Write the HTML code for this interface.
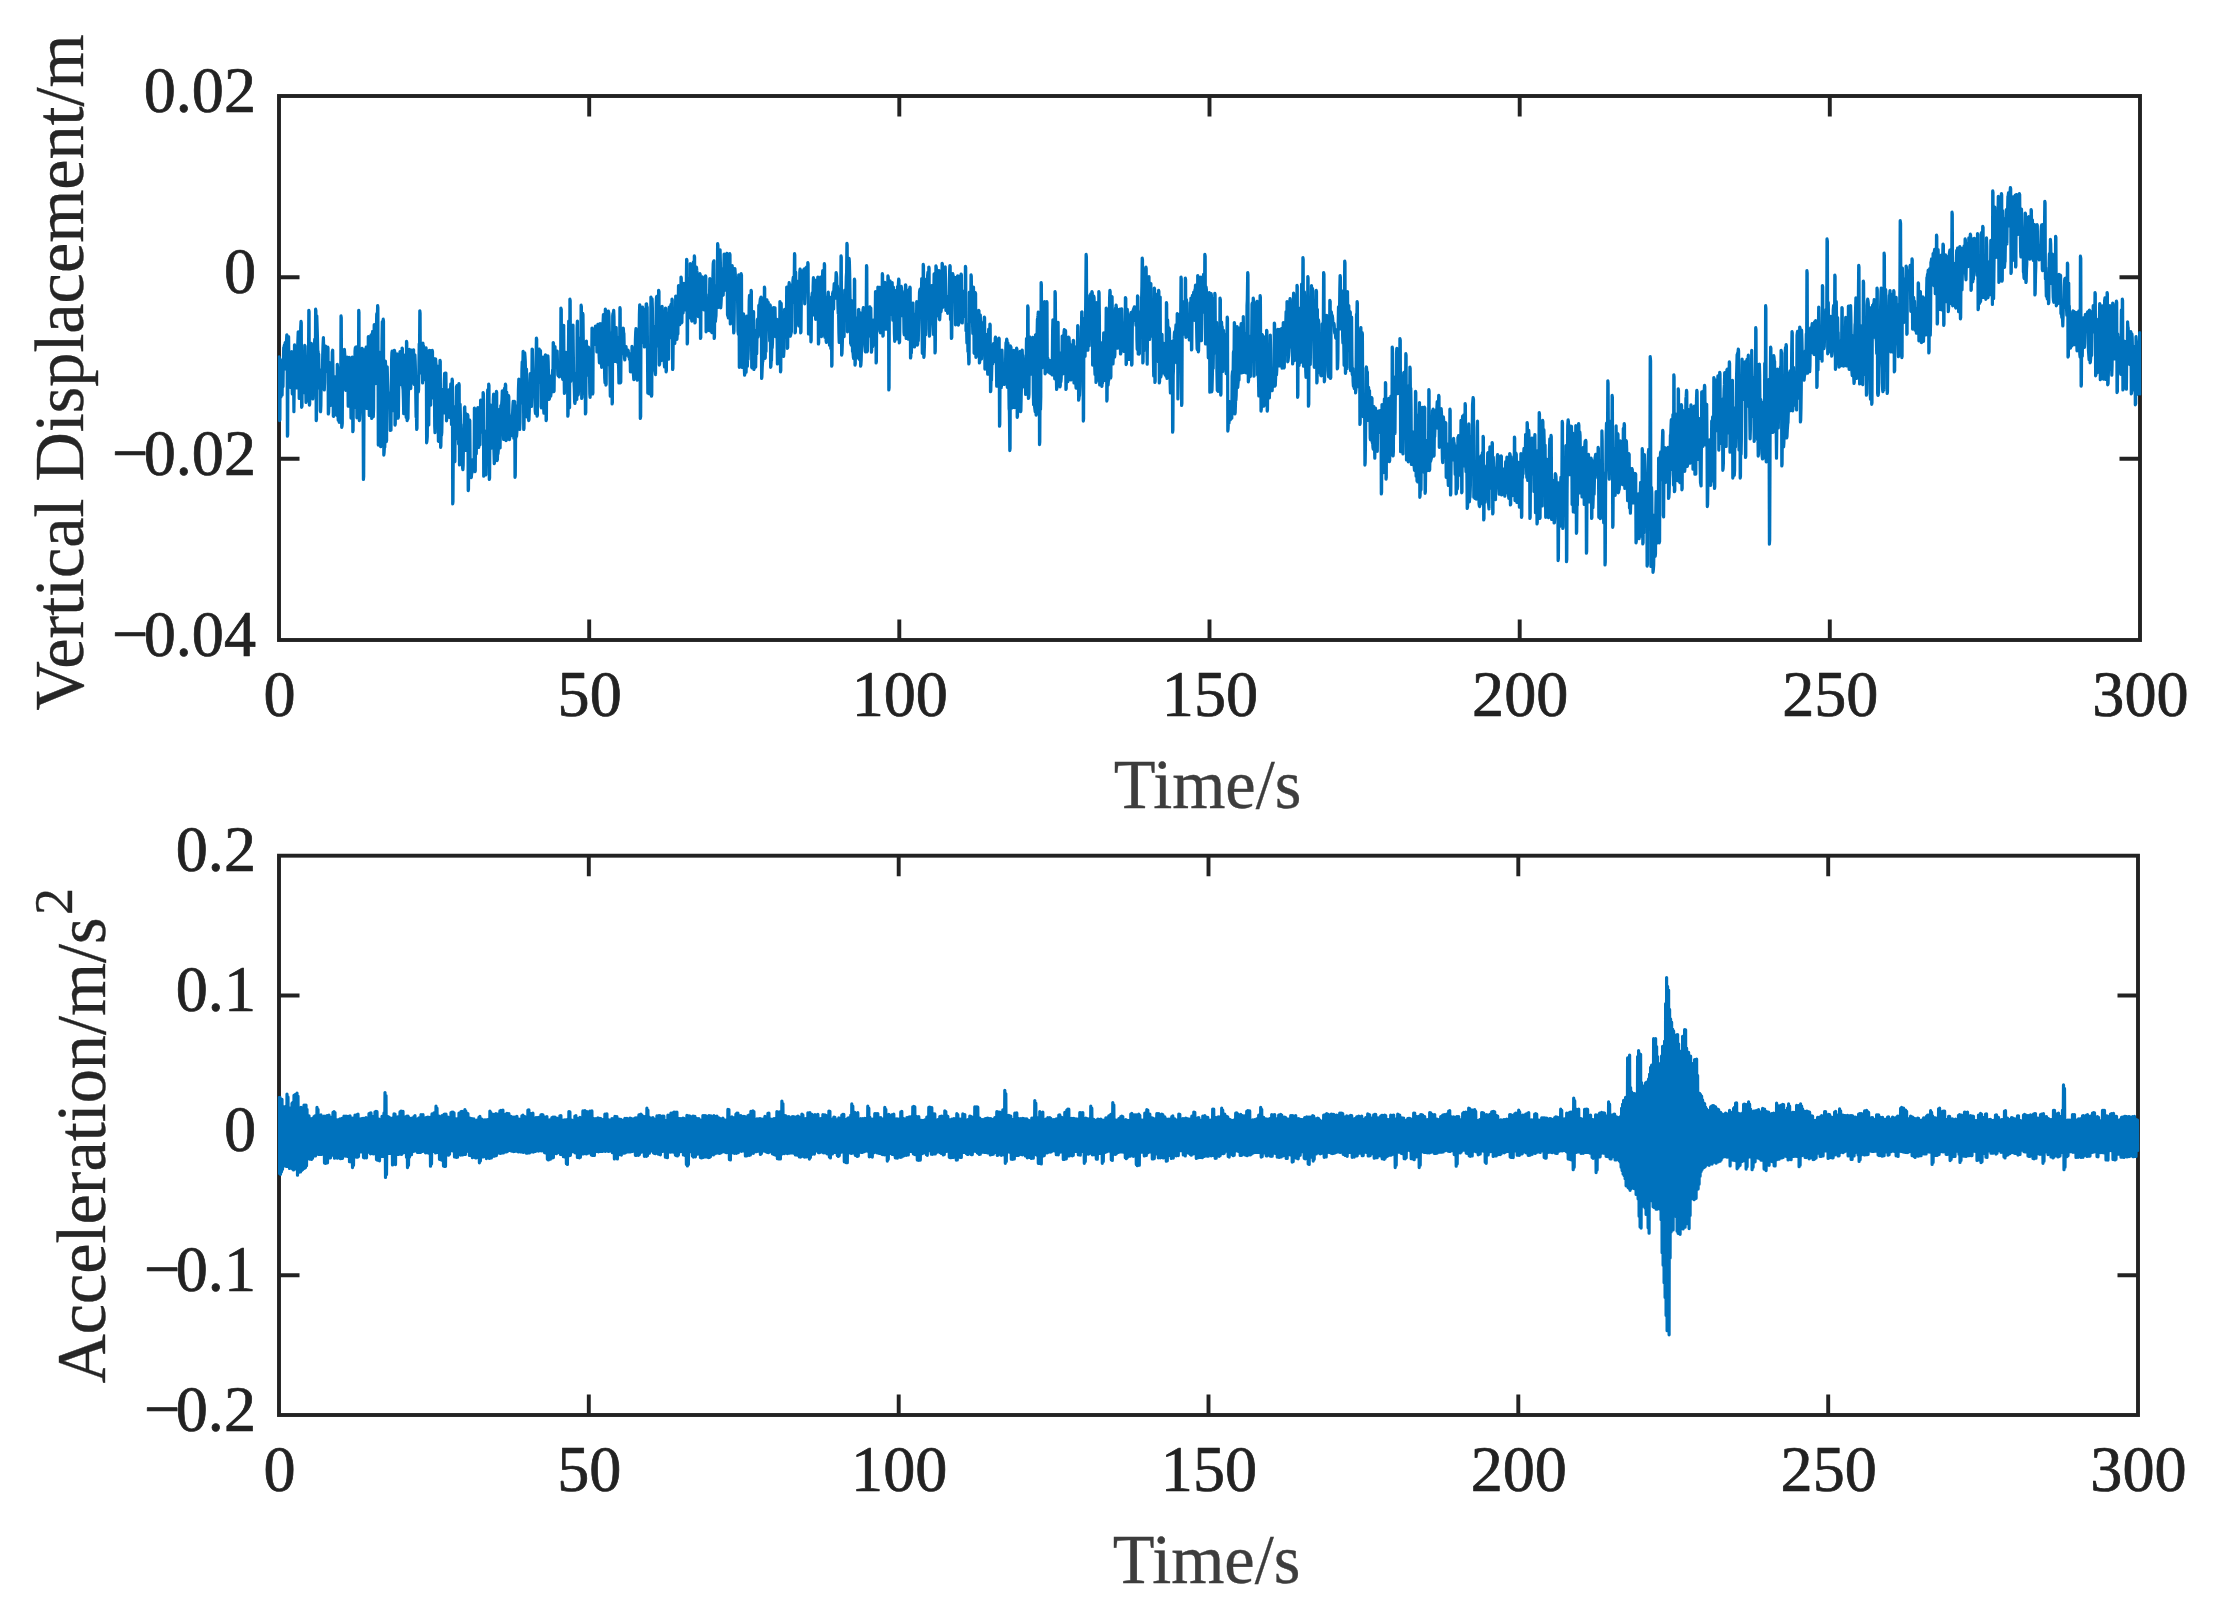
<!DOCTYPE html>
<html lang="en"><head><meta charset="utf-8"><title>Vertical Displacement and Acceleration</title>
<style>
html,body{margin:0;padding:0;background:#fff;}
body{width:2221px;height:1621px;overflow:hidden;}
svg{display:block;}
text{font-family:"Liberation Serif","DejaVu Serif",serif;}
.tk{font-size:64.2px;fill:#222222;stroke:#222222;stroke-width:0.7px;stroke-linejoin:round;}
.lb{font-size:69px;fill:#3d3d3d;stroke:#3d3d3d;stroke-width:0.35px;}
.yl{font-size:69px;fill:#262626;stroke:#262626;stroke-width:0.35px;}
</style></head><body>
<svg width="2221" height="1621" viewBox="0 0 2221 1621">
<rect width="2221" height="1621" fill="#fff"/>
<defs><clipPath id="c1"><rect x="277.8" y="96.0" width="1863.6" height="544.0"/></clipPath><clipPath id="c2"><rect x="277.8" y="855.7" width="1861.6" height="559.3"/></clipPath></defs>
<rect x="279.0" y="96.0" width="1861.0" height="544.0" fill="none" stroke="#222222" stroke-width="3.9"/>
<path d="M589.2 640.0V619.5M589.2 96.0V116.5M899.3 640.0V619.5M899.3 96.0V116.5M1209.5 640.0V619.5M1209.5 96.0V116.5M1519.7 640.0V619.5M1519.7 96.0V116.5M1829.8 640.0V619.5M1829.8 96.0V116.5M279.0 277.3H299.5M2140.0 277.3H2119.5M279.0 458.7H299.5M2140.0 458.7H2119.5" fill="none" stroke="#222222" stroke-width="3.9"/>
<rect x="279.0" y="855.7" width="1859.0" height="559.3" fill="none" stroke="#222222" stroke-width="3.9"/>
<path d="M588.8 1415.0V1394.5M588.8 855.7V876.2M898.7 1415.0V1394.5M898.7 855.7V876.2M1208.5 1415.0V1394.5M1208.5 855.7V876.2M1518.3 1415.0V1394.5M1518.3 855.7V876.2M1828.2 1415.0V1394.5M1828.2 855.7V876.2M279.0 995.5H299.5M2138.0 995.5H2117.5M279.0 1135.3H299.5M2138.0 1135.3H2117.5M279.0 1275.2H299.5M2138.0 1275.2H2117.5" fill="none" stroke="#222222" stroke-width="3.9"/>
<polyline clip-path="url(#c1)" fill="none" stroke="#0072BD" stroke-width="3.2" stroke-linejoin="round" stroke-linecap="round" points="279.0,357.0 279.3,357.9 279.6,420.6 279.9,419.6 280.2,359.3 280.6,379.5 280.9,397.0 281.2,370.0 281.5,362.3 281.8,391.0 282.1,395.1 282.4,376.7 282.7,367.6 283.0,386.6 283.3,364.9 283.7,347.5 284.0,348.6 284.3,345.4 284.6,347.1 284.9,345.1 285.2,342.7 285.5,343.4 285.8,351.1 286.1,369.1 286.4,342.2 286.8,334.8 287.1,336.2 287.4,436.2 287.7,434.6 288.0,343.7 288.3,337.5 288.6,336.8 288.9,362.6 289.2,372.4 289.5,370.9 289.9,379.2 290.2,387.3 290.5,374.9 290.8,367.3 291.1,378.7 291.4,368.4 291.7,351.5 292.0,383.5 292.3,394.0 292.6,382.4 293.0,375.6 293.3,371.0 293.6,383.3 293.9,411.7 294.2,390.4 294.5,344.9 294.8,347.6 295.1,365.1 295.4,364.1 295.7,361.5 296.1,370.3 296.4,381.8 296.7,387.9 297.0,353.0 297.3,350.5 297.6,348.7 297.9,339.7 298.2,331.9 298.5,333.0 298.9,367.4 299.2,398.5 299.5,376.5 299.8,335.2 300.1,339.4 300.4,340.0 300.7,327.0 301.0,321.4 301.3,322.8 301.6,407.3 302.0,406.0 302.3,362.0 302.6,351.5 302.9,365.9 303.2,392.6 303.5,374.1 303.8,369.1 304.1,379.7 304.4,371.6 304.7,345.4 305.1,346.2 305.4,359.2 305.7,387.0 306.0,402.5 306.3,401.0 306.6,399.3 306.9,390.1 307.2,397.6 307.5,400.5 307.8,397.4 308.2,387.8 308.5,361.5 308.8,310.3 309.1,311.9 309.4,405.1 309.7,403.8 310.0,345.4 310.3,377.0 310.6,398.1 310.9,359.0 311.3,343.4 311.6,367.1 311.9,381.5 312.2,372.0 312.5,382.3 312.8,398.9 313.1,391.7 313.4,356.7 313.7,352.0 314.0,351.1 314.4,345.8 314.7,339.2 315.0,355.2 315.3,375.5 315.6,309.2 315.9,310.9 316.2,420.6 316.5,419.0 316.8,315.9 317.2,328.7 317.5,339.2 317.8,351.8 318.1,351.5 318.4,362.1 318.7,354.1 319.0,370.3 319.3,387.9 319.6,369.5 319.9,375.6 320.3,411.1 320.6,411.7 320.9,405.2 321.2,380.2 321.5,370.2 321.8,374.1 322.1,379.8 322.4,373.4 322.7,355.1 323.0,345.8 323.4,337.5 323.7,347.9 324.0,374.6 324.3,390.0 324.6,382.4 324.9,359.2 325.2,348.2 325.5,346.1 325.8,354.1 326.1,365.5 326.5,371.2 326.8,356.6 327.1,351.0 327.4,371.4 327.7,347.0 328.0,347.9 328.3,414.0 328.6,412.9 328.9,402.8 329.2,377.6 329.6,364.1 329.9,362.7 330.2,364.3 330.5,392.1 330.8,405.3 331.1,385.7 331.4,379.7 331.7,373.6 332.0,370.2 332.3,352.1 332.7,350.2 333.0,372.2 333.3,416.0 333.6,416.3 333.9,390.2 334.2,385.3 334.5,376.7 334.8,377.5 335.1,387.8 335.5,384.6 335.8,378.4 336.1,391.0 336.4,413.4 336.7,415.3 337.0,393.4 337.3,364.3 337.6,367.3 337.9,410.9 338.2,420.3 338.6,404.1 338.9,406.7 339.2,422.3 339.5,421.5 339.8,418.6 340.1,418.6 340.4,402.2 340.7,386.3 341.0,315.9 341.3,318.0 341.7,427.3 342.0,426.1 342.3,423.4 342.6,364.8 342.9,350.7 343.2,368.3 343.5,370.1 343.8,379.0 344.1,378.1 344.4,349.3 344.8,355.2 345.1,366.5 345.4,388.3 345.7,390.3 346.0,383.0 346.3,366.2 346.6,357.8 346.9,369.1 347.2,357.0 347.5,361.7 347.9,381.4 348.2,406.2 348.5,385.1 348.8,358.5 349.1,358.8 349.4,357.5 349.7,359.4 350.0,370.9 350.3,377.7 350.6,384.3 351.0,418.1 351.3,412.8 351.6,395.1 351.9,397.1 352.2,357.0 352.5,357.9 352.8,431.7 353.1,430.4 353.4,393.1 353.8,390.3 354.1,384.5 354.4,394.5 354.7,407.3 355.0,351.1 355.3,347.8 355.6,349.6 355.9,347.0 356.2,348.2 356.5,365.2 356.9,417.8 357.2,400.3 357.5,346.6 357.8,368.9 358.1,407.2 358.4,408.0 358.7,310.3 359.0,312.5 359.3,420.6 359.6,419.4 360.0,409.2 360.3,385.9 360.6,368.8 360.9,364.6 361.2,375.4 361.5,362.1 361.8,350.0 362.1,348.4 362.4,362.2 362.7,376.8 363.1,416.6 363.4,479.5 363.7,476.4 364.0,406.6 364.3,383.6 364.6,349.7 364.9,363.4 365.2,392.6 365.5,368.7 365.8,350.0 366.2,347.2 366.5,384.7 366.8,408.5 367.1,406.0 367.4,398.5 367.7,406.1 368.0,376.9 368.3,336.7 368.6,339.4 368.9,382.1 369.3,415.6 369.6,413.3 369.9,411.0 370.2,381.5 370.5,369.6 370.8,352.4 371.1,334.8 371.4,336.0 371.7,418.4 372.1,417.2 372.4,333.5 372.7,331.3 373.0,357.4 373.3,416.6 373.6,408.6 373.9,345.6 374.2,324.7 374.5,325.6 374.8,356.5 375.2,383.7 375.5,365.3 375.8,343.9 376.1,349.0 376.4,329.6 376.7,314.3 377.0,313.3 377.3,328.3 377.6,305.5 377.9,307.7 378.3,445.1 378.6,443.1 378.9,397.1 379.2,352.2 379.5,376.3 379.8,370.6 380.1,366.6 380.4,405.1 380.7,446.7 381.0,413.2 381.4,361.2 381.7,368.5 382.0,339.1 382.3,321.5 382.6,336.2 382.9,385.9 383.2,319.2 383.5,321.2 383.8,455.1 384.1,452.9 384.5,445.0 384.8,447.3 385.1,424.7 385.4,361.0 385.7,367.0 386.0,416.8 386.3,441.7 386.6,440.3 386.9,386.7 387.2,366.8 387.6,382.1 387.9,391.7 388.2,392.1 388.5,404.8 388.8,404.0 389.1,398.6 389.4,399.9 389.7,404.5 390.0,409.3 390.3,430.4 390.7,428.2 391.0,430.2 391.3,387.9 391.6,359.9 391.9,352.7 392.2,351.0 392.5,351.4 392.8,401.5 393.1,410.6 393.5,368.1 393.8,355.6 394.1,354.7 394.4,350.3 394.7,351.4 395.0,425.1 395.3,423.9 395.6,356.8 395.9,354.3 396.2,355.4 396.6,355.4 396.9,355.0 397.2,354.0 397.5,358.9 397.8,403.6 398.1,418.1 398.4,416.9 398.7,387.0 399.0,381.8 399.3,374.7 399.7,360.7 400.0,351.5 400.3,352.5 400.6,352.3 400.9,369.1 401.2,382.6 401.5,384.9 401.8,383.0 402.1,348.0 402.4,348.8 402.8,387.4 403.1,389.9 403.4,399.5 403.7,413.7 404.0,398.1 404.3,355.0 404.6,370.0 404.9,401.9 405.2,384.7 405.5,378.0 405.9,408.3 406.2,417.4 406.5,341.4 406.8,342.7 407.1,420.6 407.4,419.5 407.7,413.4 408.0,418.6 408.3,399.1 408.6,385.2 409.0,354.5 409.3,349.4 409.6,368.5 409.9,375.5 410.2,374.4 410.5,386.5 410.8,388.6 411.1,356.2 411.4,350.1 411.8,365.6 412.1,378.4 412.4,362.1 412.7,362.8 413.0,362.4 413.3,352.4 413.6,349.8 413.9,383.1 414.2,384.5 414.5,368.3 414.9,354.8 415.2,361.3 415.5,371.8 415.8,398.6 416.1,417.0 416.4,411.8 416.7,429.5 417.0,428.2 417.3,384.6 417.6,376.4 418.0,383.2 418.3,392.1 418.6,389.7 418.9,366.7 419.2,343.8 419.5,354.1 419.8,310.8 420.1,313.1 420.4,373.0 420.7,351.1 421.1,361.2 421.4,366.0 421.7,347.6 422.0,346.4 422.3,364.7 422.6,382.9 422.9,343.0 423.2,348.4 423.5,345.9 423.8,360.2 424.2,378.0 424.5,365.1 424.8,363.7 425.1,375.2 425.4,380.0 425.7,369.9 426.0,347.8 426.3,350.5 426.6,442.8 426.9,441.3 427.3,436.5 427.6,400.5 427.9,402.9 428.2,398.9 428.5,415.5 428.8,425.0 429.1,372.5 429.4,350.3 429.7,355.3 430.1,350.5 430.4,396.3 430.7,405.1 431.0,369.1 431.3,354.6 431.6,390.8 431.9,393.2 432.2,350.3 432.5,351.7 432.8,397.9 433.2,395.6 433.5,383.8 433.8,364.3 434.1,358.7 434.4,384.0 434.7,426.1 435.0,432.6 435.3,397.2 435.6,358.9 435.9,363.1 436.3,368.4 436.6,400.6 436.9,394.1 437.2,383.5 437.5,366.2 437.8,377.8 438.1,419.1 438.4,441.2 438.7,441.4 439.0,417.1 439.4,387.2 439.7,399.1 440.0,360.3 440.3,361.7 440.6,447.3 440.9,446.0 441.2,425.6 441.5,435.4 441.8,432.4 442.1,417.2 442.5,389.6 442.8,393.0 443.1,399.8 443.4,407.2 443.7,412.9 444.0,397.3 444.3,381.2 444.6,373.3 444.9,374.5 445.2,378.6 445.6,377.5 445.9,373.1 446.2,395.5 446.5,420.8 446.8,417.6 447.1,412.3 447.4,403.5 447.7,396.4 448.0,393.8 448.4,401.1 448.7,392.4 449.0,389.8 449.3,397.4 449.6,417.4 449.9,407.3 450.2,402.1 450.5,389.8 450.8,383.9 451.1,395.4 451.5,424.6 451.8,420.7 452.1,379.2 452.4,380.5 452.7,503.9 453.0,501.5 453.3,446.3 453.6,421.6 453.9,408.6 454.2,434.7 454.6,460.6 454.9,461.6 455.2,422.7 455.5,406.2 455.8,421.8 456.1,401.3 456.4,386.7 456.7,387.2 457.0,385.7 457.3,387.1 457.7,400.2 458.0,439.2 458.3,431.5 458.6,443.9 458.9,383.6 459.2,385.0 459.5,465.0 459.8,464.0 460.1,404.2 460.4,415.6 460.8,442.9 461.1,444.5 461.4,449.7 461.7,445.2 462.0,436.9 462.3,443.6 462.6,468.1 462.9,469.6 463.2,464.9 463.5,439.9 463.9,424.2 464.2,424.8 464.5,407.6 464.8,407.0 465.1,424.9 465.4,450.3 465.7,434.0 466.0,413.7 466.3,417.3 466.7,417.8 467.0,414.3 467.3,420.2 467.6,414.7 467.9,415.6 468.2,490.6 468.5,489.2 468.8,451.3 469.1,430.9 469.4,419.8 469.8,420.6 470.1,457.1 470.4,476.3 470.7,474.4 471.0,477.7 471.3,477.6 471.6,474.2 471.9,473.1 472.2,459.9 472.5,469.1 472.9,470.7 473.2,469.2 473.5,468.8 473.8,461.0 474.1,467.0 474.4,408.1 474.7,409.1 475.0,471.7 475.3,470.8 475.6,424.9 476.0,443.2 476.3,453.8 476.6,437.3 476.9,409.2 477.2,408.8 477.5,415.8 477.8,407.7 478.1,409.2 478.4,429.5 478.7,447.4 479.1,436.0 479.4,433.4 479.7,440.0 480.0,444.8 480.3,423.1 480.6,400.2 480.9,402.2 481.2,413.9 481.5,424.3 481.8,432.1 482.2,426.7 482.5,414.6 482.8,428.7 483.1,392.5 483.4,393.8 483.7,476.2 484.0,474.9 484.3,474.1 484.6,472.5 485.0,472.3 485.3,471.7 485.6,475.0 485.9,474.7 486.2,455.2 486.5,430.7 486.8,434.0 487.1,433.7 487.4,401.3 487.7,390.0 488.1,389.6 488.4,408.1 488.7,384.1 489.0,385.5 489.3,479.5 489.6,478.0 489.9,435.2 490.2,422.2 490.5,416.6 490.8,405.2 491.2,431.2 491.5,448.1 491.8,447.7 492.1,416.9 492.4,412.5 492.7,427.0 493.0,426.3 493.3,399.6 493.6,394.0 493.9,448.9 494.3,463.6 494.6,460.5 494.9,455.9 495.2,458.6 495.5,457.6 495.8,448.2 496.1,439.1 496.4,391.4 496.7,392.4 497.0,460.6 497.4,459.5 497.7,450.8 498.0,454.0 498.3,450.1 498.6,427.1 498.9,409.7 499.2,423.8 499.5,441.0 499.8,446.3 500.1,448.0 500.5,421.4 500.8,405.6 501.1,408.4 501.4,410.1 501.7,403.3 502.0,399.7 502.3,390.8 502.6,392.6 502.9,409.3 503.3,429.2 503.6,439.5 503.9,437.7 504.2,413.0 504.5,388.5 504.8,387.8 505.1,391.4 505.4,384.1 505.7,385.1 506.0,440.6 506.4,439.9 506.7,392.0 507.0,399.2 507.3,405.1 507.6,407.5 507.9,407.6 508.2,406.6 508.5,395.5 508.8,396.9 509.1,423.6 509.5,439.6 509.8,437.1 510.1,435.6 510.4,436.2 510.7,430.3 511.0,435.8 511.3,429.1 511.6,417.1 511.9,420.2 512.2,415.8 512.6,412.7 512.9,405.5 513.2,401.3 513.5,416.6 513.8,438.3 514.1,434.6 514.4,401.4 514.7,401.8 515.0,477.3 515.3,475.3 515.7,421.2 516.0,437.6 516.3,433.9 516.6,436.1 516.9,431.6 517.2,415.1 517.5,405.6 517.8,420.6 518.1,412.8 518.4,390.3 518.8,379.1 519.1,399.6 519.4,417.0 519.7,429.5 520.0,422.2 520.3,398.4 520.6,397.1 520.9,403.1 521.2,393.8 521.6,393.6 521.9,370.9 522.2,361.9 522.5,363.9 522.8,368.0 523.1,351.4 523.4,352.8 523.7,429.5 524.0,428.4 524.3,407.7 524.7,352.9 525.0,356.4 525.3,361.7 525.6,375.0 525.9,394.0 526.2,375.5 526.5,369.1 526.8,394.4 527.1,417.0 527.4,408.7 527.8,411.1 528.1,412.7 528.4,417.4 528.7,420.7 529.0,419.6 529.3,410.7 529.6,396.6 529.9,380.2 530.2,373.7 530.5,386.9 530.9,376.6 531.2,387.6 531.5,406.5 531.8,390.6 532.1,349.0 532.4,349.4 532.7,366.1 533.0,378.4 533.3,381.0 533.6,383.1 534.0,393.6 534.3,389.5 534.6,389.8 534.9,398.4 535.2,410.8 535.5,413.6 535.8,389.9 536.1,359.3 536.4,338.1 536.7,339.4 537.1,416.2 537.4,415.1 537.7,365.7 538.0,357.7 538.3,350.2 538.6,349.7 538.9,350.1 539.2,349.1 539.5,361.5 539.9,382.3 540.2,370.0 540.5,350.7 540.8,376.6 541.1,406.7 541.4,407.8 541.7,376.4 542.0,374.9 542.3,378.3 542.6,369.5 543.0,357.2 543.3,372.1 543.6,407.5 543.9,413.1 544.2,400.0 544.5,396.0 544.8,389.2 545.1,371.4 545.4,354.8 545.7,355.5 546.1,420.6 546.4,419.4 546.7,372.9 547.0,390.8 547.3,393.8 547.6,363.4 547.9,355.9 548.2,361.8 548.5,374.6 548.8,392.9 549.2,399.3 549.5,398.1 549.8,383.0 550.1,376.0 550.4,395.3 550.7,396.3 551.0,393.7 551.3,389.3 551.6,391.3 551.9,391.4 552.3,377.0 552.6,369.9 552.9,386.1 553.2,342.5 553.5,343.3 553.8,391.7 554.1,390.9 554.4,366.5 554.7,358.6 555.0,346.6 555.4,359.2 555.7,367.0 556.0,350.9 556.3,352.7 556.6,360.4 556.9,353.9 557.2,351.1 557.5,364.1 557.8,374.8 558.1,375.5 558.5,373.8 558.8,373.8 559.1,376.9 559.4,375.4 559.7,374.7 560.0,375.5 560.3,370.5 560.6,369.9 560.9,308.1 561.3,309.4 561.6,376.2 561.9,375.5 562.2,367.4 562.5,377.8 562.8,379.4 563.1,369.7 563.4,333.9 563.7,325.3 564.0,368.7 564.4,393.4 564.7,388.1 565.0,389.5 565.3,389.4 565.6,375.5 565.9,352.4 566.2,382.5 566.5,389.4 566.8,383.3 567.1,372.6 567.5,362.2 567.8,416.2 568.1,414.3 568.4,353.4 568.7,321.1 569.0,355.3 569.3,407.3 569.6,407.6 569.9,299.2 570.2,300.9 570.6,381.5 570.9,365.9 571.2,350.4 571.5,353.2 571.8,339.1 572.1,341.1 572.4,363.2 572.7,353.5 573.0,325.0 573.3,351.6 573.7,380.4 574.0,382.0 574.3,388.7 574.6,401.8 574.9,403.5 575.2,401.4 575.5,387.5 575.8,373.4 576.1,398.6 576.4,397.6 576.8,399.5 577.1,328.6 577.4,321.1 577.7,369.9 578.0,395.1 578.3,394.5 578.6,389.5 578.9,375.3 579.2,375.3 579.6,385.0 579.9,363.3 580.2,338.9 580.5,337.7 580.8,370.6 581.1,305.2 581.4,306.8 581.7,398.4 582.0,397.2 582.3,328.1 582.7,313.3 583.0,314.9 583.3,341.8 583.6,384.3 583.9,386.5 584.2,393.4 584.5,386.2 584.8,377.6 585.1,364.1 585.4,414.0 585.8,412.3 586.1,358.1 586.4,341.1 586.7,356.8 587.0,354.5 587.3,361.5 587.6,375.1 587.9,372.2 588.2,353.5 588.5,347.0 588.9,353.0 589.2,357.7 589.5,374.4 589.8,393.6 590.1,397.4 590.4,391.5 590.7,393.6 591.0,365.8 591.3,363.3 591.6,373.0 592.0,328.1 592.3,329.1 592.6,394.0 592.9,392.9 593.2,333.1 593.5,332.5 593.8,330.3 594.1,338.5 594.4,328.5 594.7,344.3 595.1,338.9 595.4,326.2 595.7,327.3 596.0,328.8 596.3,328.4 596.6,333.1 596.9,351.9 597.2,342.7 597.5,326.9 597.9,324.4 598.2,324.9 598.5,333.8 598.8,333.8 599.1,356.0 599.4,362.8 599.7,352.6 600.0,323.5 600.3,324.1 600.6,325.2 601.0,343.3 601.3,347.4 601.6,367.3 601.9,355.9 602.2,323.6 602.5,323.2 602.8,348.9 603.1,322.0 603.4,314.7 603.7,314.4 604.1,317.0 604.4,360.0 604.7,377.6 605.0,382.6 605.3,309.2 605.6,310.5 605.9,385.1 606.2,384.1 606.5,330.1 606.8,334.6 607.2,364.7 607.5,355.3 607.8,315.2 608.1,314.4 608.4,311.2 608.7,312.3 609.0,316.5 609.3,331.9 609.6,354.9 609.9,372.5 610.3,396.2 610.6,375.6 610.9,349.7 611.2,359.6 611.5,366.7 611.8,332.5 612.1,404.0 612.4,402.4 612.7,315.8 613.0,313.4 613.4,313.0 613.7,310.4 614.0,316.8 614.3,341.2 614.6,353.2 614.9,356.6 615.2,361.4 615.5,348.3 615.8,329.8 616.2,327.6 616.5,345.5 616.8,355.5 617.1,359.3 617.4,339.1 617.7,337.6 618.0,363.2 618.3,362.3 618.6,366.3 618.9,383.0 619.3,376.6 619.6,360.8 619.9,307.7 620.2,309.0 620.5,382.9 620.8,381.9 621.1,344.2 621.4,339.7 621.7,337.5 622.0,347.6 622.4,353.6 622.7,344.9 623.0,329.3 623.3,328.2 623.6,332.9 623.9,333.5 624.2,346.4 624.5,358.2 624.8,360.0 625.1,353.0 625.5,355.9 625.8,350.2 626.1,346.7 626.4,353.7 626.7,354.1 627.0,353.6 627.3,351.0 627.6,351.8 627.9,350.1 628.2,350.5 628.6,355.6 628.9,357.1 629.2,354.6 629.5,359.3 629.8,354.8 630.1,354.9 630.4,371.8 630.7,371.3 631.0,353.4 631.3,369.3 631.7,366.1 632.0,346.3 632.3,350.0 632.6,371.9 632.9,372.9 633.2,367.1 633.5,375.5 633.8,379.6 634.1,378.3 634.5,371.8 634.8,368.7 635.1,358.7 635.4,340.0 635.7,332.0 636.0,328.6 636.3,334.4 636.6,345.4 636.9,378.5 637.2,380.2 637.6,360.6 637.9,336.4 638.2,348.8 638.5,366.8 638.8,364.8 639.1,334.4 639.4,314.4 639.7,304.8 640.0,306.3 640.3,418.4 640.7,416.4 641.0,318.2 641.3,321.3 641.6,340.0 641.9,342.8 642.2,332.1 642.5,307.0 642.8,308.5 643.1,308.9 643.4,324.9 643.8,309.6 644.1,312.9 644.4,346.9 644.7,336.9 645.0,326.7 645.3,335.6 645.6,346.6 645.9,320.3 646.2,303.9 646.5,303.8 646.9,307.4 647.2,307.2 647.5,355.2 647.8,393.1 648.1,392.1 648.4,378.1 648.7,376.7 649.0,389.6 649.3,394.0 649.6,389.2 650.0,367.9 650.3,359.5 650.6,352.3 650.9,297.0 651.2,298.4 651.5,396.2 651.8,394.6 652.1,298.8 652.4,308.3 652.8,341.8 653.1,364.7 653.4,370.0 653.7,351.2 654.0,332.1 654.3,327.1 654.6,334.7 654.9,347.2 655.2,371.3 655.5,374.7 655.9,341.4 656.2,303.0 656.5,297.1 656.8,296.4 657.1,309.7 657.4,345.9 657.7,334.6 658.0,313.1 658.3,339.4 658.6,290.3 659.0,291.7 659.3,365.1 659.6,364.2 659.9,345.7 660.2,358.6 660.5,360.0 660.8,360.3 661.1,359.7 661.4,360.5 661.7,336.8 662.1,306.3 662.4,312.9 662.7,329.7 663.0,337.2 663.3,348.3 663.6,335.9 663.9,336.2 664.2,361.3 664.5,366.9 664.8,359.7 665.2,364.1 665.5,308.1 665.8,308.9 666.1,371.8 666.4,370.7 666.7,312.9 667.0,319.9 667.3,344.6 667.6,352.6 667.9,336.8 668.3,341.8 668.6,359.2 668.9,326.0 669.2,307.1 669.5,323.1 669.8,337.6 670.1,321.8 670.4,319.2 670.7,305.6 671.1,304.3 671.4,312.5 671.7,326.6 672.0,299.2 672.3,300.1 672.6,369.5 672.9,368.3 673.2,343.1 673.5,331.9 673.8,328.1 674.2,322.4 674.5,335.5 674.8,343.4 675.1,333.9 675.4,318.1 675.7,296.0 676.0,299.3 676.3,314.6 676.6,331.2 676.9,339.4 677.3,333.6 677.6,332.7 677.9,334.1 678.2,305.5 678.5,285.7 678.8,288.3 679.1,289.1 679.4,304.2 679.7,324.7 680.0,322.2 680.4,322.0 680.7,321.0 681.0,277.0 681.3,277.9 681.6,322.9 681.9,322.3 682.2,306.1 682.5,295.4 682.8,312.6 683.1,312.9 683.5,292.6 683.8,283.3 684.1,289.5 684.4,300.1 684.7,309.6 685.0,309.8 685.3,289.3 685.6,287.3 685.9,283.8 686.2,292.2 686.6,259.3 686.9,260.3 687.2,344.0 687.5,342.5 687.8,297.8 688.1,315.3 688.4,306.5 688.7,287.7 689.0,278.7 689.4,317.8 689.7,317.7 690.0,316.8 690.3,263.5 690.6,269.1 690.9,309.1 691.2,318.0 691.5,318.2 691.8,321.2 692.1,305.9 692.5,287.4 692.8,270.4 693.1,264.3 693.4,262.0 693.7,302.6 694.0,310.8 694.3,255.9 694.6,257.1 694.9,322.9 695.2,322.1 695.6,281.0 695.9,275.4 696.2,267.5 696.5,267.3 696.8,270.7 697.1,272.4 697.4,273.9 697.7,273.5 698.0,280.7 698.3,316.6 698.7,306.9 699.0,275.8 699.3,278.4 699.6,294.3 699.9,273.7 700.2,274.5 700.5,338.4 700.8,337.3 701.1,279.4 701.4,277.4 701.8,289.7 702.1,288.3 702.4,276.9 702.7,282.1 703.0,301.4 703.3,307.6 703.6,296.0 703.9,309.8 704.2,294.9 704.5,281.6 704.9,283.7 705.2,301.8 705.5,275.9 705.8,276.7 706.1,331.8 706.4,330.9 706.7,323.0 707.0,320.8 707.3,321.1 707.7,321.0 708.0,316.8 708.3,328.1 708.6,330.4 708.9,306.4 709.2,294.3 709.5,297.9 709.8,278.5 710.1,279.9 710.4,325.4 710.8,331.4 711.1,323.8 711.4,313.2 711.7,324.7 712.0,332.7 712.3,325.5 712.6,299.2 712.9,276.6 713.2,263.9 713.5,261.8 713.9,260.8 714.2,338.4 714.5,337.0 714.8,292.2 715.1,314.7 715.4,321.5 715.7,317.9 716.0,315.8 716.3,302.9 716.6,285.3 717.0,285.5 717.3,286.6 717.6,243.7 717.9,245.0 718.2,307.3 718.5,306.7 718.8,303.2 719.1,287.2 719.4,266.3 719.7,258.0 720.1,249.9 720.4,263.3 720.7,307.8 721.0,304.5 721.3,298.7 721.6,268.9 721.9,272.9 722.2,288.2 722.5,290.6 722.8,295.3 723.2,295.1 723.5,285.8 723.8,270.9 724.1,254.0 724.4,255.4 724.7,256.1 725.0,263.5 725.3,266.4 725.6,278.7 726.0,290.2 726.3,266.2 726.6,255.4 726.9,253.4 727.2,276.3 727.5,314.7 727.8,316.0 728.1,316.2 728.4,318.0 728.7,297.7 729.1,300.5 729.4,286.7 729.7,253.7 730.0,254.9 730.3,324.0 730.6,323.1 730.9,322.5 731.2,290.8 731.5,300.3 731.8,286.9 732.2,265.6 732.5,272.9 732.8,302.4 733.1,317.1 733.4,321.9 733.7,332.9 734.0,331.2 734.3,311.8 734.6,272.6 734.9,268.5 735.3,273.9 735.6,285.1 735.9,289.5 736.2,288.1 736.5,290.1 736.8,278.1 737.1,279.0 737.4,286.2 737.7,308.6 738.0,330.9 738.4,334.4 738.7,274.8 739.0,276.0 739.3,367.3 739.6,365.8 739.9,364.2 740.2,363.3 740.5,362.1 740.8,344.0 741.1,273.7 741.5,275.1 741.8,367.3 742.1,365.9 742.4,315.9 742.7,338.3 743.0,346.2 743.3,341.0 743.6,313.9 743.9,341.1 744.2,366.2 744.6,375.1 744.9,373.6 745.2,370.7 745.5,367.2 745.8,355.9 746.1,372.1 746.4,359.5 746.7,316.2 747.0,331.5 747.4,366.1 747.7,351.8 748.0,359.5 748.3,350.7 748.6,332.1 748.9,325.0 749.2,300.8 749.5,295.4 749.8,297.3 750.1,316.0 750.5,333.6 750.8,326.0 751.1,290.3 751.4,291.5 751.7,367.2 752.0,367.9 752.3,326.6 752.6,328.2 752.9,341.6 753.2,318.3 753.6,311.7 753.9,369.5 754.2,368.4 754.5,338.9 754.8,330.5 755.1,340.5 755.4,365.2 755.7,367.1 756.0,346.3 756.3,333.8 756.7,353.6 757.0,336.7 757.3,320.3 757.6,319.1 757.9,337.2 758.2,335.8 758.5,333.3 758.8,305.3 759.1,309.6 759.4,320.1 759.8,303.9 760.1,301.3 760.4,298.8 760.7,306.8 761.0,297.0 761.3,298.1 761.6,378.4 761.9,377.0 762.2,368.2 762.5,362.4 762.9,361.0 763.2,344.3 763.5,319.0 763.8,332.5 764.1,352.6 764.4,287.0 764.7,288.4 765.0,358.4 765.3,357.6 765.7,325.8 766.0,351.5 766.3,326.1 766.6,301.0 766.9,299.8 767.2,323.3 767.5,326.4 767.8,309.0 768.1,302.0 768.4,303.4 768.8,304.9 769.1,306.4 769.4,328.5 769.7,341.0 770.0,304.8 770.3,305.6 770.6,367.3 770.9,366.3 771.2,360.6 771.5,360.1 771.9,342.5 772.2,347.8 772.5,342.6 772.8,326.8 773.1,330.7 773.4,307.5 773.7,310.1 774.0,309.1 774.3,325.7 774.6,310.5 775.0,307.8 775.3,321.7 775.6,336.6 775.9,330.3 776.2,322.6 776.5,321.1 776.8,319.3 777.1,341.1 777.4,364.0 777.7,352.9 778.1,337.3 778.4,352.6 778.7,349.1 779.0,338.9 779.3,358.2 779.6,344.5 779.9,301.5 780.2,302.4 780.5,371.8 780.8,370.5 781.2,303.3 781.5,317.9 781.8,322.0 782.1,318.0 782.4,332.2 782.7,343.8 783.0,335.5 783.3,355.6 783.6,356.4 784.0,349.9 784.3,324.6 784.6,309.3 784.9,316.5 785.2,335.2 785.5,335.2 785.8,312.8 786.1,313.0 786.4,321.6 786.7,287.0 787.1,287.9 787.4,348.4 787.7,347.4 788.0,316.4 788.3,335.8 788.6,317.6 788.9,285.9 789.2,282.7 789.5,296.9 789.8,318.4 790.2,336.2 790.5,335.6 790.8,334.4 791.1,333.0 791.4,331.6 791.7,301.6 792.0,284.5 792.3,289.5 792.6,302.3 792.9,280.5 793.3,277.3 793.6,293.2 793.9,299.6 794.2,280.9 794.5,253.7 794.8,255.1 795.1,332.9 795.4,331.9 795.7,272.2 796.0,296.7 796.4,302.9 796.7,291.4 797.0,281.0 797.3,281.9 797.6,301.0 797.9,313.3 798.2,313.8 798.5,324.1 798.8,326.0 799.1,314.2 799.5,293.6 799.8,271.9 800.1,269.2 800.4,270.1 800.7,332.9 801.0,331.9 801.3,302.9 801.6,292.2 801.9,284.5 802.3,286.3 802.6,277.2 802.9,274.1 803.2,273.5 803.5,270.3 803.8,270.9 804.1,269.0 804.4,287.0 804.7,303.8 805.0,296.3 805.4,272.1 805.7,268.2 806.0,271.5 806.3,269.9 806.6,267.0 806.9,281.4 807.2,287.1 807.5,280.3 807.8,262.6 808.1,263.8 808.5,334.0 808.8,333.0 809.1,329.8 809.4,334.1 809.7,333.1 810.0,319.9 810.3,322.8 810.6,317.6 810.9,341.8 811.2,340.6 811.6,296.8 811.9,296.9 812.2,293.0 812.5,299.1 812.8,315.1 813.1,286.7 813.4,277.7 813.7,288.0 814.0,309.3 814.3,306.5 814.7,283.4 815.0,280.1 815.3,297.0 815.6,319.3 815.9,305.1 816.2,298.5 816.5,301.3 816.8,310.3 817.1,304.4 817.4,285.3 817.8,277.0 818.1,277.9 818.4,344.0 818.7,342.9 819.0,285.7 819.3,301.5 819.6,332.0 819.9,334.0 820.2,278.7 820.6,277.2 820.9,312.1 821.2,334.0 821.5,336.6 821.8,335.7 822.1,332.6 822.4,279.2 822.7,270.7 823.0,276.9 823.3,319.2 823.7,334.5 824.0,333.2 824.3,263.7 824.6,265.1 824.9,337.3 825.2,336.5 825.5,337.7 825.8,323.7 826.1,340.8 826.4,342.5 826.8,312.7 827.1,297.3 827.4,323.1 827.7,323.0 828.0,296.8 828.3,292.2 828.6,304.8 828.9,315.9 829.2,332.9 829.5,345.1 829.9,327.0 830.2,306.8 830.5,323.9 830.8,348.5 831.1,297.0 831.4,297.7 831.7,366.2 832.0,364.8 832.3,321.1 832.6,293.6 833.0,292.0 833.3,300.6 833.6,308.9 833.9,289.1 834.2,283.5 834.5,284.3 834.8,286.0 835.1,298.3 835.4,285.9 835.7,284.9 836.1,272.6 836.4,273.9 836.7,277.1 837.0,292.4 837.3,285.5 837.6,288.6 837.9,304.9 838.2,313.5 838.5,305.6 838.9,333.1 839.2,342.4 839.5,341.8 839.8,322.2 840.1,327.4 840.4,317.4 840.7,298.8 841.0,255.9 841.3,257.4 841.6,355.1 842.0,353.6 842.3,345.3 842.6,333.8 842.9,303.8 843.2,295.3 843.5,309.0 843.8,333.4 844.1,336.7 844.4,306.0 844.7,290.2 845.1,307.6 845.4,300.8 845.7,300.4 846.0,289.3 846.3,276.8 846.6,272.2 846.9,243.3 847.2,245.0 847.5,331.8 847.8,330.9 848.2,311.7 848.5,310.5 848.8,287.5 849.1,258.3 849.4,262.0 849.7,274.8 850.0,294.4 850.3,312.5 850.6,343.2 850.9,343.6 851.3,345.2 851.6,303.3 851.9,300.9 852.2,323.9 852.5,351.6 852.8,351.1 853.1,353.5 853.4,357.3 853.7,358.5 854.0,354.9 854.4,279.2 854.7,280.4 855.0,365.1 855.3,363.7 855.6,317.7 855.9,322.5 856.2,335.7 856.5,347.2 856.8,337.9 857.2,328.3 857.5,339.5 857.8,358.0 858.1,330.1 858.4,309.8 858.7,309.5 859.0,340.8 859.3,358.4 859.6,359.6 859.9,312.6 860.3,313.0 860.6,366.2 860.9,365.1 861.2,360.1 861.5,348.2 861.8,342.2 862.1,340.0 862.4,327.5 862.7,323.9 863.0,310.1 863.4,307.6 863.7,319.8 864.0,336.3 864.3,312.7 864.6,321.4 864.9,346.1 865.2,351.1 865.5,351.9 865.8,346.0 866.1,337.0 866.5,265.5 866.8,267.3 867.1,351.8 867.4,351.0 867.7,333.9 868.0,337.1 868.3,329.2 868.6,310.4 868.9,317.6 869.2,317.2 869.6,308.4 869.9,306.9 870.2,311.9 870.5,312.7 870.8,308.0 871.1,325.9 871.4,352.2 871.7,350.2 872.0,331.9 872.3,340.8 872.7,346.7 873.0,337.8 873.3,320.1 873.6,327.1 873.9,340.3 874.2,338.9 874.5,344.1 874.8,340.6 875.1,327.7 875.5,291.5 875.8,292.3 876.1,362.9 876.4,361.6 876.7,311.6 877.0,331.7 877.3,328.3 877.6,302.8 877.9,287.1 878.2,291.0 878.6,306.0 878.9,313.3 879.2,299.3 879.5,289.6 879.8,287.4 880.1,304.7 880.4,332.8 880.7,329.1 881.0,299.1 881.3,295.7 881.7,316.8 882.0,314.6 882.3,273.7 882.6,274.8 882.9,336.2 883.2,335.5 883.5,309.8 883.8,309.9 884.1,312.6 884.4,291.9 884.8,282.3 885.1,305.8 885.4,315.2 885.7,315.2 886.0,329.1 886.3,322.4 886.6,286.3 886.9,292.0 887.2,327.0 887.5,329.2 887.9,275.9 888.2,276.9 888.5,282.7 888.8,390.0 889.1,387.6 889.4,283.9 889.7,281.3 890.0,280.9 890.3,291.9 890.6,291.2 891.0,291.4 891.3,309.7 891.6,314.5 891.9,298.4 892.2,282.5 892.5,300.5 892.8,320.2 893.1,311.9 893.4,287.1 893.8,296.0 894.1,313.5 894.4,333.4 894.7,341.3 895.0,337.8 895.3,308.7 895.6,291.0 895.9,290.6 896.2,299.0 896.5,333.9 896.9,339.0 897.2,312.2 897.5,286.5 897.8,286.6 898.1,291.0 898.4,283.5 898.7,279.2 899.0,280.2 899.3,342.9 899.6,341.9 900.0,307.8 900.3,316.1 900.6,314.6 900.9,292.1 901.2,286.4 901.5,288.0 901.8,295.6 902.1,301.0 902.4,307.6 902.7,315.6 903.1,310.8 903.4,299.2 903.7,311.5 904.0,332.4 904.3,334.9 904.6,315.3 904.9,291.0 905.2,298.5 905.5,284.8 905.8,285.7 906.2,338.4 906.5,337.8 906.8,324.1 907.1,318.9 907.4,333.4 907.7,325.6 908.0,316.6 908.3,339.2 908.6,331.7 908.9,290.0 909.3,289.2 909.6,311.9 909.9,287.0 910.2,288.0 910.5,358.0 910.8,356.8 911.1,345.0 911.4,353.0 911.7,341.7 912.1,312.2 912.4,311.3 912.7,304.2 913.0,303.1 913.3,317.6 913.6,313.5 913.9,331.4 914.2,341.9 914.5,347.0 914.8,343.7 915.2,342.1 915.5,339.6 915.8,341.3 916.1,341.3 916.4,341.9 916.7,301.5 917.0,302.0 917.3,345.1 917.6,344.3 917.9,340.7 918.3,340.7 918.6,326.0 918.9,313.3 919.2,306.6 919.5,292.5 919.8,290.2 920.1,289.1 920.4,290.3 920.7,294.7 921.0,306.9 921.4,293.7 921.7,278.5 922.0,323.8 922.3,353.3 922.6,347.6 922.9,333.3 923.2,264.4 923.5,265.8 923.8,357.3 924.1,355.9 924.5,343.6 924.8,303.1 925.1,302.2 925.4,322.1 925.7,334.8 926.0,328.9 926.3,304.8 926.6,278.8 926.9,302.0 927.2,301.9 927.6,275.6 927.9,272.4 928.2,274.7 928.5,302.4 928.8,267.0 929.1,268.2 929.4,336.2 929.7,335.3 930.0,320.0 930.3,319.4 930.7,312.3 931.0,309.3 931.3,296.0 931.6,286.6 931.9,285.6 932.2,291.7 932.5,301.2 932.8,311.3 933.1,324.2 933.5,334.5 933.8,294.0 934.1,273.9 934.4,284.9 934.7,312.8 935.0,352.9 935.3,351.3 935.6,313.8 935.9,265.9 936.2,267.0 936.6,271.5 936.9,282.1 937.2,314.0 937.5,305.5 937.8,315.8 938.1,292.1 938.4,272.7 938.7,272.4 939.0,270.5 939.3,319.3 939.7,319.7 940.0,314.1 940.3,299.8 940.6,307.0 940.9,311.9 941.2,310.6 941.5,303.9 941.8,303.3 942.1,263.3 942.4,264.1 942.8,307.3 943.1,306.9 943.4,306.0 943.7,282.9 944.0,277.5 944.3,282.5 944.6,293.7 944.9,279.1 945.2,266.8 945.5,278.4 945.9,310.4 946.2,308.8 946.5,306.8 946.8,307.3 947.1,307.2 947.4,310.2 947.7,313.3 948.0,312.7 948.3,296.1 948.6,298.4 949.0,303.7 949.3,288.1 949.6,271.3 949.9,265.5 950.2,266.4 950.5,319.6 950.8,318.8 951.1,306.0 951.4,338.4 951.8,337.2 952.1,287.0 952.4,278.7 952.7,273.7 953.0,275.0 953.3,277.7 953.6,288.7 953.9,284.1 954.2,277.2 954.5,279.5 954.9,283.0 955.2,301.2 955.5,324.8 955.8,316.6 956.1,278.2 956.4,277.4 956.7,280.2 957.0,280.4 957.3,287.8 957.6,275.9 958.0,276.6 958.3,325.1 958.6,324.4 958.9,310.0 959.2,291.3 959.5,276.0 959.8,287.4 960.1,292.9 960.4,280.3 960.7,279.7 961.1,274.1 961.4,275.0 961.7,322.5 962.0,322.9 962.3,322.9 962.6,311.8 962.9,309.9 963.2,291.3 963.5,292.7 963.8,299.9 964.2,313.4 964.5,316.3 964.8,308.2 965.1,316.0 965.4,266.4 965.7,267.6 966.0,330.7 966.3,330.0 966.6,329.7 966.9,343.0 967.3,338.9 967.6,325.3 967.9,351.5 968.2,350.6 968.5,353.3 968.8,364.0 969.1,362.4 969.4,292.2 969.7,296.4 970.1,310.8 970.4,321.4 970.7,310.4 971.0,274.8 971.3,276.1 971.6,295.5 971.9,309.8 972.2,303.1 972.5,321.4 972.8,333.5 973.2,301.8 973.5,287.1 973.8,305.0 974.1,353.1 974.4,353.3 974.7,343.5 975.0,315.4 975.3,292.6 975.6,293.6 975.9,357.3 976.3,356.4 976.6,352.8 976.9,348.0 977.2,346.7 977.5,353.6 977.8,348.7 978.1,339.0 978.4,335.2 978.7,310.3 979.0,311.0 979.4,362.9 979.7,362.0 980.0,314.9 980.3,315.0 980.6,327.0 980.9,357.7 981.2,357.9 981.5,359.0 981.8,351.6 982.1,337.1 982.5,326.4 982.8,322.7 983.1,323.0 983.4,322.7 983.7,324.1 984.0,323.0 984.3,317.0 984.6,317.8 984.9,369.1 985.2,368.4 985.6,342.6 985.9,336.8 986.2,340.0 986.5,337.9 986.8,334.7 987.1,345.0 987.4,365.9 987.7,374.2 988.0,366.1 988.4,335.8 988.7,329.1 989.0,347.8 989.3,356.5 989.6,355.1 989.9,324.1 990.2,325.0 990.5,391.7 990.8,390.7 991.1,377.6 991.5,380.1 991.8,366.4 992.1,357.8 992.4,360.0 992.7,363.9 993.0,357.3 993.3,345.7 993.6,343.5 993.9,347.8 994.2,353.6 994.6,361.4 994.9,354.2 995.2,338.3 995.5,337.1 995.8,340.4 996.1,348.1 996.4,363.8 996.7,386.2 997.0,373.2 997.3,361.3 997.7,358.0 998.0,356.7 998.3,346.8 998.6,343.8 998.9,338.1 999.2,338.9 999.5,426.2 999.8,424.3 1000.1,362.9 1000.4,358.4 1000.8,366.5 1001.1,380.7 1001.4,387.4 1001.7,373.2 1002.0,350.1 1002.3,359.5 1002.6,376.1 1002.9,369.3 1003.2,366.0 1003.5,384.2 1003.9,384.4 1004.2,381.2 1004.5,384.3 1004.8,383.5 1005.1,382.7 1005.4,377.1 1005.7,352.4 1006.0,342.5 1006.3,346.0 1006.7,339.2 1007.0,340.2 1007.3,387.3 1007.6,386.8 1007.9,342.9 1008.2,347.8 1008.5,352.8 1008.8,384.0 1009.1,408.8 1009.4,410.8 1009.8,450.6 1010.1,448.3 1010.4,345.8 1010.7,350.3 1011.0,347.2 1011.3,375.1 1011.6,389.0 1011.9,407.3 1012.2,407.9 1012.5,399.1 1012.9,398.6 1013.2,389.9 1013.5,362.1 1013.8,350.3 1014.1,353.6 1014.4,387.5 1014.7,407.6 1015.0,380.9 1015.3,352.4 1015.6,353.5 1016.0,361.0 1016.3,357.7 1016.6,348.1 1016.9,349.1 1017.2,417.3 1017.5,416.2 1017.8,377.7 1018.1,363.8 1018.4,365.9 1018.7,381.3 1019.1,388.6 1019.4,387.6 1019.7,382.7 1020.0,351.4 1020.3,352.2 1020.6,411.7 1020.9,410.7 1021.2,395.9 1021.5,384.9 1021.8,354.6 1022.2,350.1 1022.5,356.9 1022.8,355.3 1023.1,360.4 1023.4,376.6 1023.7,386.8 1024.0,376.8 1024.3,383.8 1024.6,370.6 1025.0,376.4 1025.3,379.9 1025.6,394.5 1025.9,391.4 1026.2,358.0 1026.5,338.6 1026.8,361.5 1027.1,383.9 1027.4,371.4 1027.7,305.9 1028.1,307.8 1028.4,398.4 1028.7,397.6 1029.0,394.0 1029.3,361.0 1029.6,336.9 1029.9,339.5 1030.2,352.7 1030.5,374.4 1030.8,370.7 1031.2,352.8 1031.5,354.3 1031.8,354.4 1032.1,350.8 1032.4,341.1 1032.7,337.4 1033.0,345.4 1033.3,391.8 1033.6,404.7 1033.9,399.4 1034.3,385.6 1034.6,406.7 1034.9,409.3 1035.2,411.8 1035.5,334.8 1035.8,335.7 1036.1,415.1 1036.4,413.5 1036.7,358.5 1037.0,338.9 1037.4,319.5 1037.7,318.0 1038.0,315.5 1038.3,312.0 1038.6,321.0 1038.9,330.9 1039.2,322.4 1039.5,444.6 1039.8,441.9 1040.1,382.2 1040.5,409.5 1040.8,396.1 1041.1,282.6 1041.4,284.7 1041.7,361.0 1042.0,367.4 1042.3,367.5 1042.6,342.4 1042.9,327.0 1043.3,315.8 1043.6,328.8 1043.9,334.5 1044.2,307.9 1044.5,301.5 1044.8,347.7 1045.1,373.8 1045.4,348.4 1045.7,313.5 1046.0,308.8 1046.4,331.0 1046.7,301.5 1047.0,302.6 1047.3,371.8 1047.6,370.8 1047.9,358.2 1048.2,365.6 1048.5,361.8 1048.8,364.4 1049.1,371.9 1049.5,372.7 1049.8,362.2 1050.1,360.5 1050.4,372.2 1050.7,373.7 1051.0,372.4 1051.3,369.5 1051.6,367.9 1051.9,368.9 1052.2,375.0 1052.6,330.5 1052.9,319.9 1053.2,349.8 1053.5,351.9 1053.8,328.3 1054.1,327.7 1054.4,359.9 1054.7,378.8 1055.0,291.5 1055.3,293.0 1055.7,339.5 1056.0,375.6 1056.3,374.0 1056.6,389.5 1056.9,388.2 1057.2,336.0 1057.5,348.8 1057.8,326.1 1058.1,322.3 1058.4,359.7 1058.8,366.5 1059.1,353.9 1059.4,352.8 1059.7,385.1 1060.0,386.8 1060.3,385.7 1060.6,373.2 1060.9,381.9 1061.2,378.3 1061.6,362.7 1061.9,360.1 1062.2,336.1 1062.5,339.7 1062.8,371.6 1063.1,373.8 1063.4,361.1 1063.7,357.9 1064.0,332.4 1064.3,329.6 1064.7,334.3 1065.0,348.3 1065.3,330.3 1065.6,331.1 1065.9,389.5 1066.2,388.6 1066.5,369.5 1066.8,357.0 1067.1,354.8 1067.4,367.6 1067.8,381.7 1068.1,380.3 1068.4,337.0 1068.7,339.4 1069.0,337.6 1069.3,341.9 1069.6,351.3 1069.9,344.1 1070.2,344.8 1070.5,373.4 1070.9,380.0 1071.2,364.6 1071.5,364.3 1071.8,363.4 1072.1,351.8 1072.4,357.3 1072.7,350.2 1073.0,346.1 1073.3,340.3 1073.6,340.9 1074.0,382.9 1074.3,382.2 1074.6,375.4 1074.9,372.8 1075.2,363.6 1075.5,373.4 1075.8,383.8 1076.1,388.2 1076.4,366.7 1076.7,346.3 1077.1,352.7 1077.4,350.4 1077.7,325.6 1078.0,326.7 1078.3,349.0 1078.6,400.2 1078.9,398.9 1079.2,395.1 1079.5,395.6 1079.9,386.2 1080.2,367.6 1080.5,341.6 1080.8,343.1 1081.1,374.8 1081.4,333.8 1081.7,312.1 1082.0,311.9 1082.3,334.9 1082.6,330.3 1083.0,330.3 1083.3,421.1 1083.6,418.9 1083.9,318.7 1084.2,339.7 1084.5,329.8 1084.8,333.7 1085.1,356.3 1085.4,331.8 1085.7,301.0 1086.1,254.4 1086.4,257.0 1086.7,317.1 1087.0,296.8 1087.3,295.3 1087.6,342.6 1087.9,350.2 1088.2,325.5 1088.5,317.4 1088.8,331.8 1089.2,345.7 1089.5,327.4 1089.8,312.6 1090.1,303.7 1090.4,300.9 1090.7,293.9 1091.0,307.4 1091.3,316.6 1091.6,324.8 1091.9,291.5 1092.3,292.8 1092.6,365.1 1092.9,364.2 1093.2,349.4 1093.5,335.4 1093.8,296.2 1094.1,297.8 1094.4,315.2 1094.7,366.7 1095.0,374.5 1095.4,355.5 1095.7,336.6 1096.0,382.4 1096.3,381.1 1096.6,302.7 1096.9,371.8 1097.2,379.0 1097.5,380.3 1097.8,378.2 1098.2,379.8 1098.5,379.4 1098.8,291.5 1099.1,292.9 1099.4,316.8 1099.7,385.0 1100.0,382.1 1100.3,383.0 1100.6,357.1 1100.9,342.5 1101.3,354.2 1101.6,378.9 1101.9,386.4 1102.2,381.0 1102.5,383.1 1102.8,378.9 1103.1,370.1 1103.4,350.1 1103.7,332.8 1104.0,374.1 1104.4,380.5 1104.7,347.7 1105.0,333.8 1105.3,362.7 1105.6,379.4 1105.9,345.3 1106.2,308.1 1106.5,309.2 1106.8,401.1 1107.1,399.3 1107.5,335.9 1107.8,350.0 1108.1,385.2 1108.4,380.9 1108.7,380.6 1109.0,348.7 1109.3,319.2 1109.6,298.3 1109.9,290.3 1110.2,291.8 1110.6,378.0 1110.9,376.8 1111.2,308.4 1111.5,298.5 1111.8,296.5 1112.1,296.8 1112.4,325.7 1112.7,350.1 1113.0,364.0 1113.3,357.0 1113.7,343.2 1114.0,313.8 1114.3,327.7 1114.6,357.2 1114.9,354.3 1115.2,314.7 1115.5,308.5 1115.8,307.0 1116.1,305.2 1116.4,307.6 1116.8,329.4 1117.1,327.6 1117.4,339.1 1117.7,348.1 1118.0,328.1 1118.3,314.2 1118.6,309.5 1118.9,312.2 1119.2,315.5 1119.6,335.4 1119.9,309.2 1120.2,309.9 1120.5,354.0 1120.8,353.3 1121.1,313.6 1121.4,311.0 1121.7,308.9 1122.0,321.6 1122.3,324.4 1122.7,322.5 1123.0,330.4 1123.3,334.2 1123.6,337.1 1123.9,351.5 1124.2,339.8 1124.5,330.5 1124.8,346.2 1125.1,346.3 1125.4,297.5 1125.8,298.5 1126.1,364.6 1126.4,363.7 1126.7,323.4 1127.0,311.8 1127.3,309.3 1127.6,326.1 1127.9,345.0 1128.2,329.7 1128.5,340.6 1128.9,359.5 1129.2,358.3 1129.5,335.0 1129.8,317.3 1130.1,314.9 1130.4,318.4 1130.7,316.0 1131.0,312.6 1131.3,313.2 1131.6,365.1 1132.0,364.1 1132.3,327.0 1132.6,314.5 1132.9,310.8 1133.2,311.6 1133.5,309.6 1133.8,308.3 1134.1,308.6 1134.4,306.8 1134.7,308.6 1135.1,315.3 1135.4,321.1 1135.7,319.6 1136.0,325.4 1136.3,317.1 1136.6,306.7 1136.9,339.6 1137.2,349.3 1137.5,295.9 1137.9,296.8 1138.2,354.0 1138.5,353.1 1138.8,353.0 1139.1,354.1 1139.4,353.4 1139.7,312.4 1140.0,319.9 1140.3,332.8 1140.6,325.3 1141.0,327.5 1141.3,323.4 1141.6,298.5 1141.9,285.7 1142.2,258.1 1142.5,260.0 1142.8,362.9 1143.1,361.6 1143.4,330.6 1143.7,351.1 1144.1,330.4 1144.4,304.8 1144.7,287.7 1145.0,278.2 1145.3,268.6 1145.6,291.8 1145.9,267.0 1146.2,268.6 1146.5,309.3 1146.8,340.8 1147.2,364.2 1147.5,337.2 1147.8,300.1 1148.1,307.4 1148.4,325.9 1148.7,295.2 1149.0,276.7 1149.3,327.6 1149.6,339.5 1149.9,283.2 1150.3,284.6 1150.6,286.2 1150.9,283.5 1151.2,312.2 1151.5,336.2 1151.8,312.5 1152.1,301.9 1152.4,308.0 1152.7,307.6 1153.0,311.1 1153.4,356.7 1153.7,375.9 1154.0,374.4 1154.3,288.1 1154.6,289.4 1154.9,382.4 1155.2,380.9 1155.5,301.3 1155.8,326.3 1156.2,343.3 1156.5,330.0 1156.8,301.2 1157.1,294.1 1157.4,304.8 1157.7,324.7 1158.0,356.4 1158.3,361.6 1158.6,290.3 1158.9,291.7 1159.3,382.9 1159.6,381.5 1159.9,299.3 1160.2,297.0 1160.5,361.6 1160.8,377.1 1161.1,375.2 1161.4,364.0 1161.7,355.5 1162.0,334.3 1162.4,356.9 1162.7,363.1 1163.0,367.4 1163.3,343.1 1163.6,362.0 1163.9,373.0 1164.2,367.5 1164.5,359.0 1164.8,371.5 1165.1,374.5 1165.5,375.4 1165.8,372.8 1166.1,376.4 1166.4,302.6 1166.7,304.0 1167.0,378.4 1167.3,377.6 1167.6,319.8 1167.9,327.8 1168.2,340.6 1168.6,327.5 1168.9,328.6 1169.2,328.3 1169.5,331.9 1169.8,356.9 1170.1,383.3 1170.4,392.9 1170.7,390.2 1171.0,368.6 1171.3,363.6 1171.7,371.9 1172.0,341.4 1172.3,342.0 1172.6,432.2 1172.9,430.0 1173.2,375.7 1173.5,368.6 1173.8,342.5 1174.1,338.9 1174.5,332.3 1174.8,331.6 1175.1,331.3 1175.4,340.0 1175.7,329.4 1176.0,324.9 1176.3,346.0 1176.6,362.8 1176.9,358.9 1177.2,313.7 1177.6,314.8 1177.9,398.9 1178.2,381.9 1178.5,356.5 1178.8,340.5 1179.1,334.0 1179.4,325.7 1179.7,314.2 1180.0,323.7 1180.3,330.5 1180.7,314.8 1181.0,277.0 1181.3,278.9 1181.6,405.5 1181.9,403.5 1182.2,330.5 1182.5,301.7 1182.8,304.2 1183.1,313.6 1183.4,312.9 1183.8,314.9 1184.1,321.9 1184.4,332.7 1184.7,334.2 1185.0,329.2 1185.3,278.1 1185.6,279.5 1185.9,337.3 1186.2,336.9 1186.5,299.7 1186.9,330.3 1187.2,333.7 1187.5,336.3 1187.8,334.9 1188.1,332.7 1188.4,321.2 1188.7,321.9 1189.0,331.5 1189.3,340.0 1189.6,339.8 1190.0,302.7 1190.3,312.9 1190.6,335.2 1190.9,298.1 1191.2,298.7 1191.5,350.0 1191.8,349.0 1192.1,311.1 1192.4,295.3 1192.8,295.4 1193.1,298.4 1193.4,297.2 1193.7,292.0 1194.0,299.4 1194.3,320.3 1194.6,316.0 1194.9,289.7 1195.2,291.0 1195.5,285.1 1195.9,285.6 1196.2,304.8 1196.5,321.8 1196.8,337.5 1197.1,348.8 1197.4,349.7 1197.7,275.5 1198.0,276.7 1198.3,351.8 1198.6,350.7 1199.0,325.2 1199.3,304.9 1199.6,315.0 1199.9,333.2 1200.2,329.6 1200.5,304.5 1200.8,277.2 1201.1,294.4 1201.4,340.7 1201.7,324.7 1202.1,296.9 1202.4,297.5 1202.7,284.7 1203.0,280.3 1203.3,277.8 1203.6,274.3 1203.9,294.4 1204.2,312.1 1204.5,303.3 1204.8,254.4 1205.2,256.4 1205.5,344.0 1205.8,343.3 1206.1,287.0 1206.4,289.6 1206.7,309.6 1207.0,322.2 1207.3,307.0 1207.6,297.7 1207.9,334.8 1208.3,357.8 1208.6,316.4 1208.9,298.8 1209.2,292.6 1209.5,293.7 1209.8,392.2 1210.1,390.4 1210.4,334.2 1210.7,325.0 1211.1,293.7 1211.4,295.0 1211.7,391.8 1212.0,390.1 1212.3,378.6 1212.6,365.6 1212.9,368.8 1213.2,368.3 1213.5,344.3 1213.8,298.2 1214.2,304.5 1214.5,328.6 1214.8,293.3 1215.1,294.8 1215.4,343.7 1215.7,333.4 1216.0,353.1 1216.3,339.8 1216.6,322.4 1216.9,371.5 1217.3,390.4 1217.6,385.5 1217.9,368.5 1218.2,391.4 1218.5,391.1 1218.8,389.5 1219.1,338.5 1219.4,354.7 1219.7,354.5 1220.0,298.1 1220.4,299.8 1220.7,395.1 1221.0,393.8 1221.3,325.3 1221.6,322.2 1221.9,337.7 1222.2,326.7 1222.5,336.8 1222.8,371.5 1223.1,346.2 1223.5,330.3 1223.8,356.4 1224.1,356.3 1224.4,357.6 1224.7,368.4 1225.0,366.2 1225.3,359.9 1225.6,344.2 1225.9,365.8 1226.2,373.7 1226.6,333.5 1226.9,338.7 1227.2,317.0 1227.5,318.5 1227.8,431.1 1228.1,429.1 1228.4,420.9 1228.7,420.4 1229.0,423.2 1229.4,401.5 1229.7,402.3 1230.0,417.4 1230.3,419.9 1230.6,410.1 1230.9,402.2 1231.2,415.0 1231.5,417.3 1231.8,418.2 1232.1,376.2 1232.5,371.7 1232.8,384.1 1233.1,374.6 1233.4,352.6 1233.7,351.2 1234.0,363.7 1234.3,322.6 1234.6,323.8 1234.9,414.0 1235.2,412.5 1235.6,399.2 1235.9,400.1 1236.2,395.5 1236.5,381.4 1236.8,332.5 1237.1,326.7 1237.4,337.3 1237.7,387.5 1238.0,384.2 1238.3,380.9 1238.7,373.5 1239.0,380.0 1239.3,338.5 1239.6,327.8 1239.9,331.8 1240.2,363.3 1240.5,364.5 1240.8,348.2 1241.1,323.7 1241.4,324.5 1241.8,372.9 1242.1,372.2 1242.4,367.8 1242.7,369.4 1243.0,366.8 1243.3,316.5 1243.6,340.2 1243.9,372.5 1244.2,369.3 1244.5,352.7 1244.9,342.5 1245.2,348.2 1245.5,344.6 1245.8,333.7 1246.1,345.3 1246.4,372.9 1246.7,350.8 1247.0,305.8 1247.3,299.9 1247.7,272.6 1248.0,274.7 1248.3,381.8 1248.6,380.5 1248.9,345.6 1249.2,336.2 1249.5,341.0 1249.8,364.4 1250.1,374.0 1250.4,376.6 1250.8,349.1 1251.1,338.7 1251.4,356.8 1251.7,334.1 1252.0,304.4 1252.3,303.0 1252.6,322.4 1252.9,337.7 1253.2,298.1 1253.5,299.4 1253.9,376.2 1254.2,375.2 1254.5,316.1 1254.8,318.7 1255.1,337.4 1255.4,350.3 1255.7,335.5 1256.0,323.6 1256.3,306.2 1256.6,302.3 1257.0,301.3 1257.3,341.0 1257.6,374.9 1257.9,373.2 1258.2,371.0 1258.5,379.5 1258.8,396.0 1259.1,380.2 1259.4,342.4 1259.7,340.0 1260.1,295.5 1260.4,297.2 1260.7,355.4 1261.0,411.1 1261.3,409.4 1261.6,381.6 1261.9,364.0 1262.2,334.6 1262.5,335.4 1262.8,351.0 1263.2,369.8 1263.5,397.6 1263.8,406.2 1264.1,405.5 1264.4,384.0 1264.7,347.3 1265.0,336.9 1265.3,338.1 1265.6,356.8 1266.0,369.0 1266.3,392.0 1266.6,330.3 1266.9,331.3 1267.2,411.1 1267.5,409.6 1267.8,375.2 1268.1,387.6 1268.4,376.1 1268.7,360.5 1269.1,395.1 1269.4,397.9 1269.7,386.9 1270.0,352.2 1270.3,335.1 1270.6,349.0 1270.9,372.3 1271.2,383.6 1271.5,390.0 1271.8,388.9 1272.2,390.7 1272.5,380.7 1272.8,374.6 1273.1,385.0 1273.4,377.0 1273.7,369.1 1274.0,378.1 1274.3,323.0 1274.6,324.0 1274.9,386.2 1275.3,385.3 1275.6,378.1 1275.9,363.4 1276.2,373.5 1276.5,374.9 1276.8,369.9 1277.1,341.0 1277.4,330.0 1277.7,329.5 1278.0,330.0 1278.4,344.9 1278.7,338.6 1279.0,329.3 1279.3,344.9 1279.6,365.9 1279.9,352.3 1280.2,347.9 1280.5,355.1 1280.8,343.7 1281.1,329.7 1281.5,328.6 1281.8,349.3 1282.1,368.2 1282.4,363.8 1282.7,364.4 1283.0,331.4 1283.3,322.6 1283.6,323.2 1283.9,368.0 1284.3,367.2 1284.6,341.5 1284.9,354.3 1285.2,354.8 1285.5,342.6 1285.8,322.3 1286.1,311.5 1286.4,315.0 1286.7,354.4 1287.0,301.5 1287.4,302.5 1287.7,361.8 1288.0,361.0 1288.3,358.5 1288.6,355.9 1288.9,351.1 1289.2,345.0 1289.5,319.4 1289.8,301.1 1290.1,298.7 1290.5,318.9 1290.8,330.9 1291.1,327.1 1291.4,340.3 1291.7,346.9 1292.0,327.9 1292.3,342.7 1292.6,364.0 1292.9,361.7 1293.2,305.5 1293.6,293.1 1293.9,296.3 1294.2,337.1 1294.5,360.4 1294.8,352.6 1295.1,335.8 1295.4,315.8 1295.7,338.2 1296.0,343.8 1296.3,358.4 1296.7,348.7 1297.0,285.3 1297.3,286.4 1297.6,397.3 1297.9,395.1 1298.2,318.9 1298.5,365.8 1298.8,363.1 1299.1,365.6 1299.4,310.0 1299.8,308.5 1300.1,346.7 1300.4,362.6 1300.7,359.8 1301.0,341.9 1301.3,306.9 1301.6,284.1 1301.9,289.5 1302.2,316.0 1302.5,334.8 1302.9,257.5 1303.2,259.5 1303.5,366.2 1303.8,364.9 1304.1,325.7 1304.4,291.9 1304.7,302.3 1305.0,307.5 1305.3,317.9 1305.7,370.1 1306.0,377.3 1306.3,341.2 1306.6,308.5 1306.9,330.4 1307.2,340.6 1307.5,338.9 1307.8,276.6 1308.1,278.1 1308.4,406.2 1308.8,403.9 1309.1,336.3 1309.4,331.0 1309.7,352.6 1310.0,364.6 1310.3,364.4 1310.6,342.8 1310.9,322.7 1311.2,309.1 1311.5,285.5 1311.9,304.1 1312.2,321.2 1312.5,288.5 1312.8,291.2 1313.1,307.9 1313.4,319.9 1313.7,326.6 1314.0,357.9 1314.3,367.3 1314.6,362.1 1315.0,362.6 1315.3,356.5 1315.6,364.5 1315.9,366.3 1316.2,290.4 1316.5,291.7 1316.8,382.9 1317.1,381.4 1317.4,309.4 1317.7,370.8 1318.1,373.0 1318.4,319.9 1318.7,321.3 1319.0,362.1 1319.3,344.7 1319.6,336.1 1319.9,341.5 1320.2,363.6 1320.5,369.4 1320.8,375.4 1321.2,374.6 1321.5,375.8 1321.8,348.1 1322.1,323.9 1322.4,330.1 1322.7,342.0 1323.0,341.5 1323.3,326.7 1323.6,272.6 1324.0,274.4 1324.3,381.8 1324.6,380.3 1324.9,339.3 1325.2,348.2 1325.5,362.8 1325.8,353.9 1326.1,332.1 1326.4,325.7 1326.7,315.4 1327.1,325.2 1327.4,336.4 1327.7,355.8 1328.0,370.5 1328.3,374.5 1328.6,376.8 1328.9,374.3 1329.2,362.8 1329.5,355.1 1329.8,300.4 1330.2,301.5 1330.5,378.4 1330.8,377.3 1331.1,311.6 1331.4,312.2 1331.7,316.1 1332.0,324.5 1332.3,315.7 1332.6,317.9 1332.9,322.3 1333.3,324.0 1333.6,324.6 1333.9,323.4 1334.2,324.8 1334.5,331.4 1334.8,333.2 1335.1,329.2 1335.4,333.0 1335.7,337.9 1336.0,336.4 1336.4,338.7 1336.7,334.8 1337.0,334.9 1337.3,368.9 1337.6,367.9 1337.9,359.2 1338.2,323.9 1338.5,306.8 1338.8,316.8 1339.1,327.4 1339.5,313.3 1339.8,289.5 1340.1,275.5 1340.4,277.2 1340.7,329.0 1341.0,307.6 1341.3,310.9 1341.6,320.8 1341.9,291.0 1342.3,291.1 1342.6,335.4 1342.9,342.9 1343.2,308.5 1343.5,296.4 1343.8,345.4 1344.1,365.3 1344.4,306.1 1344.7,261.0 1345.0,263.1 1345.4,373.3 1345.7,372.0 1346.0,328.4 1346.3,304.6 1346.6,349.1 1346.9,364.3 1347.2,368.4 1347.5,291.6 1347.8,315.7 1348.1,350.0 1348.5,323.5 1348.8,305.5 1349.1,319.7 1349.4,331.3 1349.7,322.0 1350.0,311.5 1350.3,312.3 1350.6,370.7 1350.9,369.7 1351.2,324.1 1351.6,317.0 1351.9,356.2 1352.2,374.1 1352.5,375.2 1352.8,368.4 1353.1,381.5 1353.4,386.2 1353.7,385.1 1354.0,385.1 1354.3,388.7 1354.7,386.5 1355.0,372.1 1355.3,375.6 1355.6,392.9 1355.9,389.6 1356.2,359.0 1356.5,314.2 1356.8,324.3 1357.1,301.5 1357.4,303.3 1357.8,386.4 1358.1,372.6 1358.4,380.7 1358.7,386.7 1359.0,379.7 1359.3,371.4 1359.6,339.0 1359.9,424.4 1360.2,422.9 1360.6,329.5 1360.9,327.6 1361.2,360.4 1361.5,387.0 1361.8,392.2 1362.1,332.6 1362.4,334.1 1362.7,392.3 1363.0,407.3 1363.3,416.6 1363.7,410.6 1364.0,399.1 1364.3,401.6 1364.6,408.7 1364.9,465.1 1365.2,462.9 1365.5,442.4 1365.8,410.8 1366.1,368.3 1366.4,367.0 1366.8,370.8 1367.1,379.0 1367.4,372.1 1367.7,405.1 1368.0,420.4 1368.3,399.8 1368.6,387.3 1368.9,404.6 1369.2,402.2 1369.5,390.6 1369.9,411.5 1370.2,438.0 1370.5,439.8 1370.8,418.9 1371.1,402.3 1371.4,401.3 1371.7,397.6 1372.0,398.3 1372.3,442.8 1372.6,442.2 1373.0,447.6 1373.3,449.1 1373.6,408.4 1373.9,406.5 1374.2,412.5 1374.5,445.3 1374.8,458.1 1375.1,439.4 1375.4,408.1 1375.7,410.1 1376.1,431.4 1376.4,435.4 1376.7,426.3 1377.0,437.5 1377.3,451.3 1377.6,430.6 1377.9,411.3 1378.2,412.9 1378.5,414.3 1378.9,424.5 1379.2,410.8 1379.5,416.5 1379.8,411.5 1380.1,427.7 1380.4,432.7 1380.7,410.3 1381.0,411.1 1381.3,493.9 1381.6,492.2 1382.0,404.6 1382.3,405.8 1382.6,426.4 1382.9,454.3 1383.2,472.7 1383.5,466.7 1383.8,446.5 1384.1,413.1 1384.4,398.8 1384.7,426.2 1385.1,463.6 1385.4,382.5 1385.7,383.9 1386.0,479.1 1386.3,477.5 1386.6,407.3 1386.9,419.2 1387.2,432.4 1387.5,442.4 1387.8,437.7 1388.2,423.0 1388.5,411.9 1388.8,398.4 1389.1,410.4 1389.4,461.7 1389.7,460.4 1390.0,416.1 1390.3,455.4 1390.6,435.1 1390.9,396.1 1391.3,420.4 1391.6,446.3 1391.9,446.6 1392.2,347.0 1392.5,348.8 1392.8,453.4 1393.1,456.0 1393.4,451.8 1393.7,385.3 1394.0,387.9 1394.4,420.4 1394.7,428.1 1395.0,433.4 1395.3,397.8 1395.6,376.6 1395.9,382.2 1396.2,394.2 1396.5,353.1 1396.8,348.4 1397.2,353.7 1397.5,373.5 1397.8,365.3 1398.1,361.2 1398.4,385.3 1398.7,393.4 1399.0,369.3 1399.3,352.5 1399.6,382.4 1399.9,338.6 1400.3,340.4 1400.6,451.7 1400.9,450.2 1401.2,391.2 1401.5,417.7 1401.8,404.0 1402.1,376.1 1402.4,411.3 1402.7,450.7 1403.0,454.0 1403.4,426.2 1403.7,372.8 1404.0,372.4 1404.3,418.4 1404.6,421.9 1404.9,409.2 1405.2,389.9 1405.5,398.3 1405.8,353.7 1406.1,355.3 1406.5,460.0 1406.8,458.4 1407.1,397.7 1407.4,401.6 1407.7,426.5 1408.0,458.1 1408.3,462.0 1408.6,458.0 1408.9,413.3 1409.2,385.3 1409.6,410.0 1409.9,367.0 1410.2,368.5 1410.5,401.4 1410.8,388.3 1411.1,408.2 1411.4,464.4 1411.7,462.6 1412.0,448.2 1412.3,431.7 1412.7,449.3 1413.0,464.5 1413.3,465.0 1413.6,459.1 1413.9,440.6 1414.2,467.0 1414.5,470.4 1414.8,468.5 1415.1,447.6 1415.5,391.4 1415.8,392.7 1416.1,476.2 1416.4,474.9 1416.7,445.6 1417.0,481.0 1417.3,480.5 1417.6,481.9 1417.9,478.8 1418.2,437.1 1418.6,414.9 1418.9,416.3 1419.2,420.7 1419.5,402.6 1419.8,497.3 1420.1,495.6 1420.4,484.1 1420.7,490.4 1421.0,489.5 1421.3,454.3 1421.7,430.1 1422.0,416.1 1422.3,407.3 1422.6,420.2 1422.9,463.0 1423.2,464.2 1423.5,437.1 1423.8,444.1 1424.1,472.3 1424.4,407.0 1424.8,408.0 1425.1,493.3 1425.4,491.7 1425.7,464.4 1426.0,469.9 1426.3,440.4 1426.6,446.7 1426.9,463.8 1427.2,469.5 1427.5,469.4 1427.9,470.6 1428.2,468.3 1428.5,466.5 1428.8,389.7 1429.1,391.1 1429.4,470.6 1429.7,469.6 1430.0,454.4 1430.3,460.6 1430.6,461.4 1431.0,455.7 1431.3,459.4 1431.6,444.2 1431.9,442.4 1432.2,427.0 1432.5,410.6 1432.8,422.9 1433.1,409.2 1433.4,409.9 1433.8,456.2 1434.1,455.4 1434.4,430.3 1434.7,436.6 1435.0,427.6 1435.3,414.2 1435.6,424.2 1435.9,427.4 1436.2,415.8 1436.5,410.3 1436.9,408.0 1437.2,401.5 1437.5,416.3 1437.8,428.1 1438.1,420.5 1438.4,409.8 1438.7,395.4 1439.0,396.5 1439.3,447.3 1439.6,446.9 1440.0,425.8 1440.3,411.1 1440.6,422.9 1440.9,437.9 1441.2,408.5 1441.5,413.0 1441.8,430.8 1442.1,443.1 1442.4,459.1 1442.7,462.7 1443.1,441.8 1443.4,416.9 1443.7,420.6 1444.0,429.6 1444.3,448.2 1444.6,457.5 1444.9,454.0 1445.2,456.3 1445.5,422.5 1445.8,423.2 1446.2,477.3 1446.5,476.3 1446.8,443.6 1447.1,448.9 1447.4,446.4 1447.7,459.2 1448.0,477.2 1448.3,485.4 1448.6,472.0 1448.9,475.2 1449.3,484.6 1449.6,458.5 1449.9,409.2 1450.2,410.6 1450.5,495.0 1450.8,493.9 1451.1,462.2 1451.4,448.9 1451.7,449.9 1452.1,460.3 1452.4,449.4 1452.7,439.9 1453.0,449.4 1453.3,455.8 1453.6,438.3 1453.9,442.5 1454.2,443.2 1454.5,452.3 1454.8,455.3 1455.2,474.4 1455.5,445.8 1455.8,446.3 1456.1,493.9 1456.4,492.9 1456.7,450.4 1457.0,480.8 1457.3,489.0 1457.6,486.3 1457.9,437.3 1458.3,439.5 1458.6,435.7 1458.9,475.3 1459.2,455.5 1459.5,467.2 1459.8,468.1 1460.1,455.8 1460.4,442.9 1460.7,446.8 1461.0,420.3 1461.4,421.5 1461.7,492.8 1462.0,491.8 1462.3,421.5 1462.6,416.0 1462.9,435.2 1463.2,465.9 1463.5,441.5 1463.8,414.8 1464.1,415.2 1464.5,420.9 1464.8,457.0 1465.1,403.6 1465.4,405.2 1465.7,464.0 1466.0,471.8 1466.3,471.9 1466.6,450.7 1466.9,476.7 1467.2,508.4 1467.6,506.7 1467.9,479.6 1468.2,463.5 1468.5,432.6 1468.8,423.9 1469.1,456.1 1469.4,501.8 1469.7,497.7 1470.0,497.1 1470.4,485.2 1470.7,462.2 1471.0,436.6 1471.3,448.2 1471.6,466.1 1471.9,465.7 1472.2,435.2 1472.5,405.1 1472.8,401.0 1473.1,397.6 1473.5,399.4 1473.8,497.3 1474.1,496.0 1474.4,477.8 1474.7,487.2 1475.0,498.5 1475.3,497.2 1475.6,487.0 1475.9,495.8 1476.2,499.1 1476.6,478.8 1476.9,460.7 1477.2,428.2 1477.5,421.2 1477.8,457.4 1478.1,468.3 1478.4,458.3 1478.7,465.3 1479.0,503.5 1479.3,505.7 1479.7,506.5 1480.0,498.5 1480.3,467.1 1480.6,456.9 1480.9,466.7 1481.2,455.5 1481.5,476.6 1481.8,490.5 1482.1,470.2 1482.4,452.6 1482.8,504.1 1483.1,436.3 1483.4,437.4 1483.7,519.9 1484.0,518.5 1484.3,465.9 1484.6,467.7 1484.9,491.3 1485.2,502.3 1485.5,495.4 1485.9,484.7 1486.2,468.9 1486.5,469.6 1486.8,485.5 1487.1,490.0 1487.4,467.2 1487.7,453.3 1488.0,452.7 1488.3,487.0 1488.6,504.6 1489.0,509.0 1489.3,472.6 1489.6,460.4 1489.9,446.8 1490.2,460.9 1490.5,480.6 1490.8,488.1 1491.1,474.2 1491.4,462.2 1491.8,469.6 1492.1,442.5 1492.4,443.6 1492.7,513.9 1493.0,512.8 1493.3,457.2 1493.6,466.7 1493.9,476.8 1494.2,479.5 1494.5,475.4 1494.9,481.3 1495.2,497.6 1495.5,499.6 1495.8,481.1 1496.1,468.1 1496.4,467.7 1496.7,479.7 1497.0,463.7 1497.3,456.6 1497.6,454.7 1498.0,455.6 1498.3,458.3 1498.6,461.4 1498.9,489.0 1499.2,494.2 1499.5,475.2 1499.8,476.8 1500.1,468.7 1500.4,462.2 1500.7,475.5 1501.1,455.8 1501.4,456.5 1501.7,495.0 1502.0,494.5 1502.3,468.4 1502.6,476.7 1502.9,491.4 1503.2,489.7 1503.5,486.7 1503.8,485.4 1504.2,483.4 1504.5,491.2 1504.8,496.2 1505.1,493.6 1505.4,470.9 1505.7,461.6 1506.0,478.9 1506.3,492.7 1506.6,467.1 1506.9,457.2 1507.3,465.9 1507.6,486.8 1507.9,474.5 1508.2,467.9 1508.5,494.2 1508.8,498.5 1509.1,491.5 1509.4,475.4 1509.7,453.6 1510.1,454.3 1510.4,505.0 1510.7,504.2 1511.0,456.6 1511.3,463.7 1511.6,474.2 1511.9,484.0 1512.2,492.2 1512.5,495.7 1512.8,490.6 1513.2,493.1 1513.5,486.4 1513.8,470.2 1514.1,494.6 1514.4,437.0 1514.7,438.1 1515.0,500.6 1515.3,499.9 1515.6,478.6 1515.9,453.1 1516.3,454.5 1516.6,477.1 1516.9,502.5 1517.2,502.3 1517.5,492.8 1517.8,481.3 1518.1,466.9 1518.4,462.3 1518.7,471.9 1519.0,484.8 1519.4,507.1 1519.7,496.6 1520.0,482.4 1520.3,482.8 1520.6,472.6 1520.9,453.6 1521.2,454.3 1521.5,517.3 1521.8,516.1 1522.1,477.3 1522.5,477.8 1522.8,470.1 1523.1,473.9 1523.4,457.7 1523.7,453.2 1524.0,448.3 1524.3,452.2 1524.6,455.1 1524.9,466.2 1525.2,462.5 1525.6,434.5 1525.9,434.3 1526.2,446.6 1526.5,468.6 1526.8,477.5 1527.1,422.5 1527.4,424.1 1527.7,480.5 1528.0,446.0 1528.4,431.3 1528.7,430.2 1529.0,434.8 1529.3,448.1 1529.6,454.3 1529.9,518.4 1530.2,517.1 1530.5,476.4 1530.8,472.5 1531.1,461.8 1531.5,451.0 1531.8,441.6 1532.1,438.1 1532.4,446.6 1532.7,458.1 1533.0,446.5 1533.3,439.2 1533.6,440.2 1533.9,491.4 1534.2,441.4 1534.6,438.3 1534.9,434.7 1535.2,462.4 1535.5,512.7 1535.8,510.3 1536.1,491.2 1536.4,479.5 1536.7,487.3 1537.0,523.9 1537.3,522.4 1537.7,450.6 1538.0,467.8 1538.3,484.8 1538.6,493.0 1538.9,461.1 1539.2,412.5 1539.5,414.3 1539.8,518.5 1540.1,517.5 1540.4,459.4 1540.8,438.8 1541.1,447.2 1541.4,480.6 1541.7,493.9 1542.0,490.7 1542.3,506.0 1542.6,420.3 1542.9,421.9 1543.2,444.3 1543.5,445.3 1543.9,429.7 1544.2,440.6 1544.5,479.3 1544.8,457.1 1545.1,445.1 1545.4,479.0 1545.7,517.3 1546.0,512.5 1546.3,490.8 1546.7,464.9 1547.0,459.3 1547.3,471.6 1547.6,504.7 1547.9,514.7 1548.2,516.3 1548.5,517.6 1548.8,511.3 1549.1,503.3 1549.4,450.4 1549.8,438.8 1550.1,452.9 1550.4,468.9 1550.7,484.0 1551.0,435.4 1551.3,436.8 1551.6,519.5 1551.9,518.4 1552.2,503.5 1552.5,502.6 1552.9,499.2 1553.2,480.5 1553.5,493.1 1553.8,507.9 1554.1,523.0 1554.4,523.0 1554.7,518.4 1555.0,484.6 1555.3,473.7 1555.6,474.2 1556.0,476.6 1556.3,485.3 1556.6,500.1 1556.9,510.8 1557.2,496.9 1557.5,482.5 1557.8,482.7 1558.1,560.6 1558.4,558.4 1558.7,512.2 1559.1,522.1 1559.4,523.3 1559.7,525.6 1560.0,526.2 1560.3,500.0 1560.6,484.2 1560.9,477.2 1561.2,491.5 1561.5,482.2 1561.8,488.6 1562.2,421.4 1562.5,423.3 1562.8,528.4 1563.1,527.0 1563.4,473.0 1563.7,481.0 1564.0,486.2 1564.3,473.9 1564.6,469.0 1565.0,490.1 1565.3,502.4 1565.6,479.1 1565.9,445.7 1566.2,453.7 1566.5,561.7 1566.8,559.2 1567.1,490.5 1567.4,462.8 1567.7,426.2 1568.1,419.9 1568.4,421.6 1568.7,427.9 1569.0,463.5 1569.3,467.2 1569.6,474.7 1569.9,472.3 1570.2,448.8 1570.5,426.1 1570.8,449.2 1571.2,459.5 1571.5,426.4 1571.8,441.5 1572.1,504.4 1572.4,472.9 1572.7,433.1 1573.0,451.9 1573.3,511.9 1573.6,497.1 1573.9,460.6 1574.3,474.6 1574.6,502.9 1574.9,512.3 1575.2,506.9 1575.5,448.5 1575.8,425.6 1576.1,464.4 1576.4,533.3 1576.7,531.7 1577.0,500.5 1577.4,505.3 1577.7,474.6 1578.0,459.9 1578.3,465.5 1578.6,423.6 1578.9,425.4 1579.2,492.9 1579.5,459.4 1579.8,432.0 1580.1,435.4 1580.5,463.1 1580.8,478.9 1581.1,465.0 1581.4,457.9 1581.7,467.5 1582.0,497.0 1582.3,488.0 1582.6,483.6 1582.9,480.0 1583.3,447.4 1583.6,448.1 1583.9,475.7 1584.2,504.5 1584.5,472.4 1584.8,445.4 1585.1,441.4 1585.4,447.3 1585.7,440.3 1586.0,441.8 1586.4,553.2 1586.7,551.3 1587.0,488.9 1587.3,490.5 1587.6,495.2 1587.9,498.0 1588.2,463.2 1588.5,454.4 1588.8,467.8 1589.1,502.0 1589.5,489.1 1589.8,466.3 1590.1,460.2 1590.4,472.0 1590.7,493.3 1591.0,458.1 1591.3,459.0 1591.6,518.4 1591.9,517.5 1592.2,460.7 1592.6,461.4 1592.9,507.6 1593.2,498.2 1593.5,468.2 1593.8,477.2 1594.1,494.3 1594.4,481.0 1594.7,471.3 1595.0,458.3 1595.3,456.5 1595.7,454.4 1596.0,456.2 1596.3,473.0 1596.6,454.1 1596.9,456.6 1597.2,454.3 1597.5,455.4 1597.8,477.8 1598.1,447.4 1598.4,448.4 1598.8,517.3 1599.1,516.1 1599.4,460.7 1599.7,463.6 1600.0,517.8 1600.3,518.6 1600.6,516.9 1600.9,484.2 1601.2,508.1 1601.6,477.4 1601.9,430.9 1602.2,440.8 1602.5,478.8 1602.8,493.3 1603.1,484.7 1603.4,509.4 1603.7,522.8 1604.0,521.6 1604.3,479.0 1604.7,473.1 1605.0,565.0 1605.3,562.1 1605.6,487.7 1605.9,465.4 1606.2,434.4 1606.5,423.2 1606.8,424.2 1607.1,445.9 1607.4,455.1 1607.8,380.8 1608.1,383.2 1608.4,440.0 1608.7,449.5 1609.0,469.4 1609.3,479.2 1609.6,455.4 1609.9,446.1 1610.2,429.3 1610.5,421.0 1610.9,428.6 1611.2,457.0 1611.5,471.5 1611.8,463.7 1612.1,395.4 1612.4,397.4 1612.7,527.3 1613.0,525.3 1613.3,470.6 1613.6,463.0 1614.0,448.6 1614.3,448.6 1614.6,449.2 1614.9,463.4 1615.2,495.3 1615.5,482.5 1615.8,446.4 1616.1,425.9 1616.4,442.1 1616.7,481.0 1617.1,482.8 1617.4,470.6 1617.7,433.6 1618.0,434.5 1618.3,492.8 1618.6,491.9 1618.9,486.4 1619.2,489.7 1619.5,484.0 1619.9,451.3 1620.2,440.8 1620.5,454.3 1620.8,461.9 1621.1,447.8 1621.4,445.9 1621.7,448.0 1622.0,459.4 1622.3,478.4 1622.6,484.7 1623.0,470.9 1623.3,428.4 1623.6,431.9 1623.9,431.1 1624.2,423.6 1624.5,425.0 1624.8,488.4 1625.1,487.8 1625.4,460.5 1625.7,447.0 1626.1,440.7 1626.4,441.4 1626.7,449.3 1627.0,466.7 1627.3,485.7 1627.6,500.6 1627.9,497.7 1628.2,472.7 1628.5,460.4 1628.8,453.6 1629.2,454.4 1629.5,507.9 1629.8,507.2 1630.1,502.5 1630.4,513.1 1630.7,504.2 1631.0,492.7 1631.3,484.3 1631.6,469.4 1631.9,468.6 1632.3,469.6 1632.6,480.1 1632.9,493.0 1633.2,502.9 1633.5,487.6 1633.8,476.5 1634.1,473.4 1634.4,476.7 1634.7,479.2 1635.0,479.6 1635.4,473.6 1635.7,474.3 1636.0,542.8 1636.3,541.5 1636.6,530.0 1636.9,528.0 1637.2,511.7 1637.5,503.8 1637.8,503.9 1638.2,494.9 1638.5,493.8 1638.8,537.3 1639.1,538.7 1639.4,519.7 1639.7,529.6 1640.0,516.1 1640.3,492.0 1640.6,482.4 1640.9,492.7 1641.3,495.0 1641.6,521.7 1641.9,536.3 1642.2,448.7 1642.5,450.3 1642.8,543.9 1643.1,542.7 1643.4,512.2 1643.7,533.0 1644.0,492.1 1644.4,454.6 1644.7,470.2 1645.0,510.4 1645.3,524.8 1645.6,497.3 1645.9,482.2 1646.2,484.3 1646.5,482.6 1646.8,489.8 1647.1,566.1 1647.5,564.3 1647.8,480.7 1648.1,462.7 1648.4,452.4 1648.7,449.4 1649.0,486.3 1649.3,486.6 1649.6,453.2 1649.9,461.2 1650.2,356.6 1650.6,361.0 1650.9,566.4 1651.2,524.7 1651.5,487.3 1651.8,494.0 1652.1,535.6 1652.4,549.7 1652.7,540.4 1653.0,572.3 1653.3,570.3 1653.7,565.2 1654.0,541.8 1654.3,515.2 1654.6,534.8 1654.9,544.9 1655.2,556.4 1655.5,553.9 1655.8,510.8 1656.1,491.5 1656.5,505.3 1656.8,515.2 1657.1,540.7 1657.4,542.9 1657.7,534.2 1658.0,522.5 1658.3,528.7 1658.6,458.1 1658.9,459.2 1659.2,542.8 1659.6,541.3 1659.9,460.5 1660.2,462.5 1660.5,453.1 1660.8,451.8 1661.1,478.5 1661.4,479.7 1661.7,464.3 1662.0,452.9 1662.3,444.4 1662.7,430.3 1663.0,431.9 1663.3,515.5 1663.6,516.9 1663.9,480.9 1664.2,458.1 1664.5,447.3 1664.8,461.2 1665.1,476.4 1665.4,481.2 1665.8,482.3 1666.1,465.1 1666.4,448.6 1666.7,450.7 1667.0,457.7 1667.3,449.6 1667.6,452.3 1667.9,447.4 1668.2,447.9 1668.5,498.4 1668.9,497.3 1669.2,491.9 1669.5,479.0 1669.8,473.9 1670.1,453.3 1670.4,435.1 1670.7,435.6 1671.0,426.3 1671.3,419.7 1671.6,434.3 1672.0,452.6 1672.3,469.5 1672.6,451.1 1672.9,414.6 1673.2,434.1 1673.5,485.1 1673.8,374.8 1674.1,376.9 1674.4,491.7 1674.8,490.3 1675.1,413.5 1675.4,466.2 1675.7,472.8 1676.0,452.6 1676.3,447.2 1676.6,441.9 1676.9,421.3 1677.2,454.6 1677.5,480.4 1677.9,475.1 1678.2,388.8 1678.5,390.3 1678.8,481.3 1679.1,480.0 1679.4,411.6 1679.7,438.3 1680.0,482.7 1680.3,482.7 1680.6,480.7 1681.0,445.2 1681.3,404.7 1681.6,405.7 1681.9,489.8 1682.2,488.2 1682.5,410.1 1682.8,443.3 1683.1,469.1 1683.4,446.5 1683.7,447.8 1684.1,462.0 1684.4,463.6 1684.7,471.3 1685.0,467.4 1685.3,445.1 1685.6,418.4 1685.9,398.6 1686.2,396.4 1686.5,390.4 1686.8,391.8 1687.2,466.5 1687.5,465.5 1687.8,416.3 1688.1,409.4 1688.4,419.5 1688.7,458.0 1689.0,448.4 1689.3,454.5 1689.6,461.7 1689.9,463.2 1690.3,460.7 1690.6,425.7 1690.9,404.9 1691.2,406.5 1691.5,420.5 1691.8,443.3 1692.1,427.2 1692.4,417.1 1692.7,433.4 1693.0,469.2 1693.4,465.6 1693.7,433.6 1694.0,422.5 1694.3,406.0 1694.6,406.9 1694.9,474.2 1695.2,473.1 1695.5,470.2 1695.8,474.1 1696.2,425.8 1696.5,398.8 1696.8,390.4 1697.1,391.9 1697.4,418.0 1697.7,429.6 1698.0,453.9 1698.3,459.5 1698.6,434.3 1698.9,418.4 1699.3,427.0 1699.6,430.7 1699.9,448.8 1700.2,469.1 1700.5,482.7 1700.8,484.2 1701.1,486.0 1701.4,446.5 1701.7,391.9 1702.0,394.2 1702.4,394.6 1702.7,427.6 1703.0,446.3 1703.3,428.5 1703.6,390.9 1703.9,391.9 1704.2,391.3 1704.5,385.3 1704.8,386.9 1705.1,409.9 1705.5,420.1 1705.8,438.2 1706.1,445.2 1706.4,409.6 1706.7,404.3 1707.0,438.5 1707.3,506.6 1707.6,504.6 1707.9,483.9 1708.2,456.7 1708.6,450.5 1708.9,469.6 1709.2,458.2 1709.5,440.4 1709.8,439.8 1710.1,452.6 1710.4,472.8 1710.7,485.4 1711.0,479.9 1711.3,461.7 1711.7,420.9 1712.0,434.0 1712.3,462.7 1712.6,416.9 1712.9,419.7 1713.2,481.1 1713.5,466.5 1713.8,377.5 1714.1,379.1 1714.5,488.5 1714.8,486.8 1715.1,385.0 1715.4,382.7 1715.7,380.2 1716.0,382.2 1716.3,391.6 1716.6,409.8 1716.9,430.7 1717.2,430.7 1717.6,392.3 1717.9,375.9 1718.2,380.9 1718.5,399.3 1718.8,450.1 1719.1,437.8 1719.4,411.0 1719.7,372.3 1720.0,373.8 1720.3,419.0 1720.7,439.8 1721.0,438.1 1721.3,443.4 1721.6,419.5 1721.9,408.9 1722.2,399.4 1722.5,414.3 1722.8,470.3 1723.1,468.8 1723.4,463.1 1723.8,401.3 1724.1,389.6 1724.4,384.4 1724.7,372.6 1725.0,372.6 1725.3,384.4 1725.6,403.1 1725.9,446.4 1726.2,446.4 1726.5,402.1 1726.9,369.7 1727.2,370.7 1727.5,369.1 1727.8,397.3 1728.1,430.4 1728.4,432.9 1728.7,403.6 1729.0,391.9 1729.3,361.9 1729.6,363.5 1730.0,452.2 1730.3,451.1 1730.6,450.1 1730.9,396.1 1731.2,400.8 1731.5,448.5 1731.8,441.1 1732.1,384.9 1732.4,380.3 1732.8,478.1 1733.1,476.2 1733.4,427.9 1733.7,407.8 1734.0,462.3 1734.3,475.3 1734.6,470.2 1734.9,421.8 1735.2,420.3 1735.5,447.0 1735.9,431.9 1736.2,403.0 1736.5,378.7 1736.8,366.9 1737.1,354.5 1737.4,355.7 1737.7,352.8 1738.0,353.0 1738.3,349.0 1738.6,350.9 1739.0,450.1 1739.3,417.8 1739.6,398.7 1739.9,389.1 1740.2,478.1 1740.5,476.2 1740.8,402.5 1741.1,454.3 1741.4,439.5 1741.7,391.5 1742.1,359.1 1742.4,376.1 1742.7,399.4 1743.0,376.3 1743.3,364.5 1743.6,363.5 1743.9,363.7 1744.2,395.9 1744.5,390.6 1744.8,361.9 1745.2,363.3 1745.5,457.4 1745.8,455.9 1746.1,363.9 1746.4,363.1 1746.7,361.2 1747.0,359.4 1747.3,401.4 1747.6,406.1 1747.9,363.8 1748.3,355.2 1748.6,390.9 1748.9,384.8 1749.2,382.1 1749.5,394.8 1749.8,420.7 1750.1,438.8 1750.4,429.2 1750.7,389.6 1751.1,384.6 1751.4,384.0 1751.7,350.4 1752.0,368.0 1752.3,382.9 1752.6,377.0 1752.9,392.5 1753.2,416.5 1753.5,394.7 1753.8,407.0 1754.2,441.4 1754.5,436.7 1754.8,406.4 1755.1,379.7 1755.4,418.0 1755.7,327.7 1756.0,329.8 1756.3,382.8 1756.6,365.9 1756.9,364.0 1757.3,387.8 1757.6,439.7 1757.9,431.6 1758.2,456.1 1758.5,454.2 1758.8,411.4 1759.1,380.5 1759.4,364.1 1759.7,375.0 1760.0,411.2 1760.4,411.1 1760.7,399.4 1761.0,408.7 1761.3,439.9 1761.6,445.0 1761.9,453.4 1762.2,456.8 1762.5,459.0 1762.8,455.7 1763.1,432.6 1763.5,402.2 1763.8,433.2 1764.1,457.9 1764.4,438.0 1764.7,363.3 1765.0,363.8 1765.3,405.9 1765.6,305.7 1765.9,308.5 1766.2,461.8 1766.6,460.0 1766.9,421.2 1767.2,445.0 1767.5,461.5 1767.8,435.6 1768.1,438.5 1768.4,410.7 1768.7,379.7 1769.0,396.8 1769.4,544.2 1769.7,539.9 1770.0,464.5 1770.3,382.0 1770.6,347.1 1770.9,348.1 1771.2,403.9 1771.5,410.0 1771.8,390.3 1772.1,407.2 1772.5,424.0 1772.8,432.4 1773.1,423.6 1773.4,397.9 1773.7,355.5 1774.0,357.0 1774.3,360.8 1774.6,361.3 1774.9,403.0 1775.2,431.3 1775.6,432.1 1775.9,410.1 1776.2,430.1 1776.5,458.2 1776.8,433.3 1777.1,381.5 1777.4,369.1 1777.7,381.9 1778.0,421.7 1778.3,428.0 1778.7,402.6 1779.0,408.8 1779.3,399.2 1779.6,371.2 1779.9,369.5 1780.2,373.0 1780.5,366.9 1780.8,373.7 1781.1,350.3 1781.4,351.8 1781.8,465.9 1782.1,464.0 1782.4,423.0 1782.7,422.5 1783.0,429.6 1783.3,446.7 1783.6,446.9 1783.9,442.7 1784.2,424.7 1784.5,395.7 1784.9,353.2 1785.2,352.1 1785.5,347.6 1785.8,389.7 1786.1,344.6 1786.4,346.0 1786.7,438.0 1787.0,436.5 1787.3,429.6 1787.7,424.1 1788.0,422.5 1788.3,412.3 1788.6,403.1 1788.9,402.7 1789.2,386.3 1789.5,372.6 1789.8,373.7 1790.1,370.9 1790.4,390.9 1790.8,410.6 1791.1,409.7 1791.4,380.3 1791.7,349.7 1792.0,331.6 1792.3,333.0 1792.6,410.8 1792.9,409.7 1793.2,384.7 1793.5,367.4 1793.9,392.3 1794.2,402.1 1794.5,382.3 1794.8,372.1 1795.1,387.1 1795.4,405.1 1795.7,397.2 1796.0,390.0 1796.3,400.3 1796.6,410.0 1797.0,335.1 1797.3,332.9 1797.6,331.4 1797.9,350.8 1798.2,367.6 1798.5,384.1 1798.8,398.2 1799.1,386.4 1799.4,366.8 1799.7,327.0 1800.1,328.2 1800.4,421.9 1800.7,420.2 1801.0,407.8 1801.3,386.3 1801.6,330.2 1801.9,338.8 1802.2,352.7 1802.5,358.8 1802.8,374.3 1803.2,367.8 1803.5,364.7 1803.8,379.8 1804.1,380.1 1804.4,376.5 1804.7,375.0 1805.0,363.1 1805.3,350.9 1805.6,352.1 1806.0,353.3 1806.3,333.8 1806.6,352.1 1806.9,270.7 1807.2,273.2 1807.5,373.2 1807.8,372.6 1808.1,362.2 1808.4,366.3 1808.7,348.7 1809.1,351.3 1809.4,354.3 1809.7,371.7 1810.0,365.2 1810.3,338.1 1810.6,327.8 1810.9,352.9 1811.2,343.4 1811.5,339.1 1811.8,327.7 1812.2,323.7 1812.5,326.5 1812.8,324.4 1813.1,325.0 1813.4,334.3 1813.7,353.4 1814.0,354.4 1814.3,354.5 1814.6,321.8 1814.9,322.5 1815.3,325.6 1815.6,320.7 1815.9,349.2 1816.2,349.3 1816.5,323.7 1816.8,387.4 1817.1,386.1 1817.4,350.3 1817.7,369.2 1818.0,370.1 1818.4,329.0 1818.7,307.1 1819.0,323.3 1819.3,336.5 1819.6,345.7 1819.9,358.4 1820.2,356.7 1820.5,352.5 1820.8,338.5 1821.1,335.6 1821.5,347.2 1821.8,353.6 1822.1,361.1 1822.4,285.5 1822.7,286.8 1823.0,338.0 1823.3,341.1 1823.6,339.4 1823.9,348.6 1824.3,346.4 1824.6,333.1 1824.9,324.7 1825.2,328.8 1825.5,336.1 1825.8,319.3 1826.1,309.4 1826.4,325.6 1826.7,321.1 1827.0,238.9 1827.4,241.3 1827.7,353.8 1828.0,352.8 1828.3,302.4 1828.6,326.2 1828.9,347.4 1829.2,351.8 1829.5,350.9 1829.8,351.1 1830.1,340.8 1830.5,326.8 1830.8,316.4 1831.1,323.0 1831.4,341.0 1831.7,356.1 1832.0,353.8 1832.3,348.4 1832.6,349.9 1832.9,344.0 1833.2,310.2 1833.6,305.5 1833.9,321.0 1834.2,330.0 1834.5,328.7 1834.8,275.1 1835.1,276.6 1835.4,369.3 1835.7,368.0 1836.0,304.4 1836.3,301.7 1836.7,327.2 1837.0,339.8 1837.3,334.6 1837.6,317.5 1837.9,332.7 1838.2,332.4 1838.5,352.7 1838.8,363.1 1839.1,367.1 1839.4,362.5 1839.8,361.5 1840.1,360.0 1840.4,363.7 1840.7,366.0 1841.0,359.4 1841.3,340.3 1841.6,346.3 1841.9,307.5 1842.2,308.3 1842.6,364.9 1842.9,365.5 1843.2,348.3 1843.5,366.2 1843.8,362.7 1844.1,365.8 1844.4,363.7 1844.7,361.9 1845.0,362.0 1845.3,338.8 1845.7,317.4 1846.0,322.8 1846.3,352.4 1846.6,365.9 1846.9,364.1 1847.2,330.3 1847.5,347.1 1847.8,358.6 1848.1,348.7 1848.4,306.2 1848.8,307.1 1849.1,369.3 1849.4,368.3 1849.7,369.3 1850.0,352.0 1850.3,313.5 1850.6,305.5 1850.9,317.3 1851.2,337.3 1851.5,350.1 1851.9,371.3 1852.2,375.6 1852.5,373.8 1852.8,335.9 1853.1,345.8 1853.4,368.4 1853.7,376.2 1854.0,383.5 1854.3,382.0 1854.6,340.7 1855.0,325.0 1855.3,322.7 1855.6,308.0 1855.9,297.8 1856.2,352.0 1856.5,378.4 1856.8,369.2 1857.1,332.5 1857.4,318.6 1857.7,338.6 1858.1,330.1 1858.4,297.5 1858.7,265.3 1859.0,267.3 1859.3,338.7 1859.6,384.0 1859.9,383.5 1860.2,375.9 1860.5,325.5 1860.8,349.2 1861.2,365.3 1861.5,372.4 1861.8,366.9 1862.1,383.6 1862.4,383.4 1862.7,384.7 1863.0,361.7 1863.3,281.1 1863.6,282.8 1864.0,338.9 1864.3,339.0 1864.6,354.5 1864.9,374.5 1865.2,361.4 1865.5,336.3 1865.8,335.4 1866.1,339.3 1866.4,395.2 1866.7,393.6 1867.1,305.4 1867.4,300.9 1867.7,299.2 1868.0,300.8 1868.3,303.3 1868.6,322.5 1868.9,342.4 1869.2,351.8 1869.5,343.8 1869.8,368.4 1870.2,393.1 1870.5,399.1 1870.8,381.7 1871.1,307.5 1871.4,308.7 1871.7,404.3 1872.0,402.6 1872.3,324.9 1872.6,305.1 1872.9,307.6 1873.3,305.7 1873.6,303.6 1873.9,303.9 1874.2,299.7 1874.5,303.7 1874.8,331.8 1875.1,337.4 1875.4,305.9 1875.7,312.0 1876.0,337.9 1876.4,341.1 1876.7,353.5 1877.0,288.1 1877.3,289.8 1877.6,393.2 1877.9,395.3 1878.2,395.1 1878.5,391.9 1878.8,368.7 1879.1,361.5 1879.5,356.4 1879.8,329.3 1880.1,321.7 1880.4,318.9 1880.7,302.1 1881.0,291.6 1881.3,288.0 1881.6,291.7 1881.9,303.2 1882.3,383.3 1882.6,389.8 1882.9,391.7 1883.2,376.9 1883.5,382.3 1883.8,389.9 1884.1,253.1 1884.4,255.7 1884.7,346.1 1885.0,334.8 1885.4,319.6 1885.7,289.7 1886.0,300.7 1886.3,346.8 1886.6,351.2 1886.9,347.7 1887.2,393.4 1887.5,391.7 1887.8,354.0 1888.1,316.9 1888.5,331.2 1888.8,341.0 1889.1,313.3 1889.4,295.4 1889.7,295.1 1890.0,290.5 1890.3,307.8 1890.6,350.5 1890.9,352.0 1891.2,344.5 1891.6,344.3 1891.9,338.4 1892.2,317.7 1892.5,294.2 1892.8,294.0 1893.1,310.4 1893.4,352.5 1893.7,290.7 1894.0,291.8 1894.3,371.9 1894.7,370.5 1895.0,308.6 1895.3,340.3 1895.6,333.9 1895.9,305.2 1896.2,297.4 1896.5,320.5 1896.8,317.3 1897.1,304.3 1897.4,326.9 1897.8,338.6 1898.1,345.9 1898.4,356.6 1898.7,355.9 1899.0,332.4 1899.3,327.2 1899.6,312.9 1899.9,286.2 1900.2,220.7 1900.6,223.5 1900.9,303.8 1901.2,318.1 1901.5,329.5 1901.8,357.6 1902.1,356.2 1902.4,268.1 1902.7,281.4 1903.0,278.4 1903.3,294.2 1903.7,322.6 1904.0,319.7 1904.3,292.4 1904.6,295.4 1904.9,289.5 1905.2,282.9 1905.5,306.1 1905.8,311.2 1906.1,266.1 1906.4,267.2 1906.8,334.3 1907.1,333.4 1907.4,270.7 1907.7,272.1 1908.0,277.3 1908.3,287.7 1908.6,283.9 1908.9,286.7 1909.2,287.9 1909.5,277.7 1909.9,266.5 1910.2,265.4 1910.5,290.1 1910.8,311.3 1911.1,309.2 1911.4,297.7 1911.7,297.9 1912.0,258.8 1912.3,260.1 1912.6,329.1 1913.0,328.3 1913.3,310.4 1913.6,297.4 1913.9,303.1 1914.2,307.0 1914.5,301.1 1914.8,312.5 1915.1,330.2 1915.4,329.9 1915.7,311.9 1916.1,326.9 1916.4,333.2 1916.7,312.7 1917.0,308.3 1917.3,325.9 1917.6,323.3 1917.9,320.7 1918.2,282.9 1918.5,283.6 1918.9,340.8 1919.2,339.8 1919.5,323.0 1919.8,312.5 1920.1,300.9 1920.4,291.6 1920.7,303.2 1921.0,322.2 1921.3,342.4 1921.6,342.5 1922.0,328.8 1922.3,312.6 1922.6,305.2 1922.9,296.8 1923.2,333.5 1923.5,341.3 1923.8,331.8 1924.1,305.3 1924.4,314.9 1924.7,298.7 1925.1,298.3 1925.4,305.6 1925.7,321.1 1926.0,334.9 1926.3,331.0 1926.6,292.3 1926.9,277.5 1927.2,277.8 1927.5,274.4 1927.8,278.2 1928.2,270.0 1928.5,271.0 1928.8,353.0 1929.1,351.5 1929.4,291.4 1929.7,268.6 1930.0,279.4 1930.3,335.2 1930.6,321.3 1930.9,262.5 1931.3,261.1 1931.6,258.8 1931.9,274.3 1932.2,264.9 1932.5,280.7 1932.8,271.0 1933.1,253.6 1933.4,255.1 1933.7,253.0 1934.0,285.8 1934.4,251.2 1934.7,249.3 1935.0,255.9 1935.3,293.7 1935.6,265.3 1935.9,268.2 1936.2,284.4 1936.5,235.0 1936.8,236.6 1937.2,324.0 1937.5,322.8 1937.8,252.7 1938.1,249.6 1938.4,258.3 1938.7,266.2 1939.0,277.4 1939.3,298.7 1939.6,309.5 1939.9,283.2 1940.3,264.0 1940.6,262.1 1940.9,266.3 1941.2,255.2 1941.5,282.3 1941.8,310.0 1942.1,306.9 1942.4,269.4 1942.7,256.5 1943.0,244.0 1943.4,245.2 1943.7,325.3 1944.0,324.0 1944.3,256.8 1944.6,264.0 1944.9,281.2 1945.2,291.1 1945.5,254.9 1945.8,255.8 1946.1,301.7 1946.5,264.3 1946.8,256.5 1947.1,271.5 1947.4,296.3 1947.7,298.5 1948.0,299.2 1948.3,311.7 1948.6,307.9 1948.9,289.1 1949.2,255.6 1949.6,251.7 1949.9,250.1 1950.2,252.2 1950.5,279.7 1950.8,300.8 1951.1,303.7 1951.4,296.6 1951.7,271.8 1952.0,212.2 1952.3,214.2 1952.7,305.8 1953.0,305.0 1953.3,290.7 1953.6,282.7 1953.9,264.0 1954.2,273.8 1954.5,279.8 1954.8,263.3 1955.1,278.9 1955.5,307.1 1955.8,308.0 1956.1,299.4 1956.4,258.6 1956.7,250.3 1957.0,258.2 1957.3,252.2 1957.6,248.1 1957.9,249.7 1958.2,291.9 1958.6,311.6 1958.9,293.5 1959.2,280.1 1959.5,265.2 1959.8,246.6 1960.1,247.5 1960.4,318.8 1960.7,317.5 1961.0,276.1 1961.3,270.2 1961.7,287.5 1962.0,289.9 1962.3,274.8 1962.6,253.6 1962.9,248.2 1963.2,257.0 1963.5,272.8 1963.8,268.3 1964.1,245.9 1964.4,247.6 1964.8,265.5 1965.1,238.9 1965.4,239.9 1965.7,275.7 1966.0,279.8 1966.3,264.3 1966.6,243.6 1966.9,255.0 1967.2,261.8 1967.5,266.9 1967.9,265.5 1968.2,266.5 1968.5,259.5 1968.8,237.9 1969.1,242.0 1969.4,238.2 1969.7,247.1 1970.0,243.2 1970.3,234.2 1970.6,235.2 1971.0,290.3 1971.3,289.6 1971.6,238.7 1971.9,241.7 1972.2,261.3 1972.5,266.4 1972.8,281.8 1973.1,273.0 1973.4,279.2 1973.8,252.3 1974.1,241.3 1974.4,238.3 1974.7,256.5 1975.0,260.9 1975.3,259.8 1975.6,263.0 1975.9,256.4 1976.2,259.6 1976.5,268.1 1976.9,275.1 1977.2,274.5 1977.5,233.7 1977.8,234.7 1978.1,309.7 1978.4,308.4 1978.7,282.9 1979.0,303.8 1979.3,300.4 1979.6,303.5 1980.0,279.0 1980.3,295.4 1980.6,301.5 1980.9,289.2 1981.2,233.1 1981.5,234.1 1981.8,232.4 1982.1,268.7 1982.4,250.1 1982.7,226.4 1983.1,227.5 1983.4,297.5 1983.7,293.8 1984.0,263.9 1984.3,272.7 1984.6,285.5 1984.9,270.0 1985.2,290.4 1985.5,291.7 1985.8,299.3 1986.2,298.1 1986.5,237.8 1986.8,246.4 1987.1,287.9 1987.4,285.1 1987.7,296.9 1988.0,297.5 1988.3,294.6 1988.6,262.7 1988.9,264.0 1989.3,267.4 1989.6,261.6 1989.9,279.6 1990.2,294.6 1990.5,272.7 1990.8,240.3 1991.1,246.2 1991.4,245.8 1991.7,256.0 1992.1,282.6 1992.4,304.5 1992.7,190.9 1993.0,192.6 1993.3,295.2 1993.6,298.7 1993.9,274.2 1994.2,250.4 1994.5,218.8 1994.8,207.0 1995.2,238.2 1995.5,257.5 1995.8,256.2 1996.1,246.8 1996.4,240.9 1996.7,237.6 1997.0,247.6 1997.3,257.3 1997.6,249.2 1997.9,220.3 1998.3,196.4 1998.6,210.3 1998.9,282.4 1999.2,279.7 1999.5,265.7 1999.8,214.5 2000.1,211.1 2000.4,240.3 2000.7,237.4 2001.0,212.5 2001.4,193.5 2001.7,194.9 2002.0,281.2 2002.3,279.9 2002.6,210.7 2002.9,223.5 2003.2,239.8 2003.5,232.3 2003.8,218.7 2004.1,255.3 2004.5,267.3 2004.8,262.2 2005.1,261.5 2005.4,243.7 2005.7,239.6 2006.0,232.6 2006.3,209.5 2006.6,227.0 2006.9,243.9 2007.2,218.0 2007.6,209.4 2007.9,196.5 2008.2,196.1 2008.5,192.9 2008.8,194.3 2009.1,204.7 2009.4,226.0 2009.7,200.8 2010.0,192.9 2010.4,187.6 2010.7,188.9 2011.0,273.4 2011.3,272.2 2011.6,230.2 2011.9,220.2 2012.2,243.5 2012.5,255.9 2012.8,238.4 2013.1,196.8 2013.5,199.4 2013.8,245.3 2014.1,260.3 2014.4,230.2 2014.7,222.4 2015.0,208.5 2015.3,195.0 2015.6,267.0 2015.9,265.9 2016.2,197.2 2016.6,194.7 2016.9,217.2 2017.2,234.7 2017.5,227.7 2017.8,203.1 2018.1,199.6 2018.4,211.7 2018.7,222.0 2019.0,200.2 2019.3,193.5 2019.7,194.8 2020.0,234.9 2020.3,228.6 2020.6,250.8 2020.9,257.0 2021.2,232.2 2021.5,209.1 2021.8,223.4 2022.1,233.0 2022.4,241.7 2022.8,228.5 2023.1,230.7 2023.4,272.1 2023.7,272.4 2024.0,277.9 2024.3,278.5 2024.6,266.9 2024.9,267.5 2025.2,213.0 2025.5,213.8 2025.9,282.5 2026.2,281.3 2026.5,269.5 2026.8,264.2 2027.1,233.5 2027.4,233.9 2027.7,235.7 2028.0,237.3 2028.3,217.2 2028.7,216.7 2029.0,218.2 2029.3,225.1 2029.6,241.5 2029.9,259.1 2030.2,254.4 2030.5,253.4 2030.8,255.3 2031.1,209.6 2031.4,210.7 2031.8,256.6 2032.1,256.3 2032.4,219.8 2032.7,229.3 2033.0,259.0 2033.3,260.5 2033.6,258.2 2033.9,235.5 2034.2,227.9 2034.5,224.5 2034.9,294.9 2035.2,293.6 2035.5,275.3 2035.8,267.0 2036.1,242.2 2036.4,242.5 2036.7,249.5 2037.0,224.6 2037.3,225.5 2037.6,249.0 2038.0,245.1 2038.3,258.4 2038.6,258.2 2038.9,253.0 2039.2,259.9 2039.5,254.2 2039.8,253.0 2040.1,254.8 2040.4,254.4 2040.7,248.2 2041.1,231.0 2041.4,226.1 2041.7,224.9 2042.0,246.9 2042.3,269.2 2042.6,270.7 2042.9,246.2 2043.2,228.7 2043.5,224.3 2043.8,228.0 2044.2,225.3 2044.5,228.5 2044.8,201.3 2045.1,203.1 2045.4,279.0 2045.7,267.6 2046.0,280.1 2046.3,296.1 2046.6,289.1 2046.9,277.1 2047.3,299.0 2047.6,292.6 2047.9,277.6 2048.2,277.8 2048.5,303.7 2048.8,302.6 2049.1,263.2 2049.4,253.7 2049.7,266.0 2050.1,259.4 2050.4,239.3 2050.7,244.2 2051.0,257.8 2051.3,264.0 2051.6,274.4 2051.9,283.7 2052.2,266.2 2052.5,254.2 2052.8,281.2 2053.2,297.2 2053.5,300.8 2053.8,302.3 2054.1,297.2 2054.4,294.9 2054.7,299.2 2055.0,297.6 2055.3,299.6 2055.6,236.3 2055.9,237.5 2056.3,305.8 2056.6,305.0 2056.9,287.6 2057.2,295.1 2057.5,294.7 2057.8,291.2 2058.1,298.2 2058.4,303.4 2058.7,293.5 2059.0,274.3 2059.4,281.0 2059.7,278.2 2060.0,278.6 2060.3,275.1 2060.6,275.6 2060.9,313.6 2061.2,313.0 2061.5,313.2 2061.8,317.4 2062.1,317.8 2062.5,318.9 2062.8,326.0 2063.1,317.1 2063.4,302.4 2063.7,300.6 2064.0,299.6 2064.3,286.8 2064.6,280.6 2064.9,278.5 2065.2,278.3 2065.6,280.0 2065.9,296.7 2066.2,308.0 2066.5,307.1 2066.8,315.3 2067.1,311.8 2067.4,263.0 2067.7,264.4 2068.0,357.1 2068.4,355.8 2068.7,283.1 2069.0,312.2 2069.3,305.8 2069.6,320.0 2069.9,338.4 2070.2,337.9 2070.5,348.2 2070.8,343.9 2071.1,344.2 2071.5,346.2 2071.8,346.1 2072.1,320.9 2072.4,321.5 2072.7,311.6 2073.0,311.0 2073.3,316.2 2073.6,340.2 2073.9,311.4 2074.2,311.8 2074.6,344.7 2074.9,344.1 2075.2,317.4 2075.5,317.3 2075.8,315.2 2076.1,317.3 2076.4,312.6 2076.7,338.7 2077.0,350.8 2077.3,350.5 2077.7,350.6 2078.0,345.3 2078.3,321.4 2078.6,312.0 2078.9,310.8 2079.2,314.2 2079.5,329.0 2079.8,354.4 2080.1,357.1 2080.4,256.2 2080.8,258.6 2081.1,386.1 2081.4,384.6 2081.7,323.8 2082.0,354.3 2082.3,356.3 2082.6,332.1 2082.9,320.2 2083.2,328.8 2083.5,321.3 2083.9,317.6 2084.2,333.0 2084.5,347.3 2084.8,335.1 2085.1,320.9 2085.4,314.4 2085.7,316.0 2086.0,319.0 2086.3,331.6 2086.7,327.4 2087.0,325.7 2087.3,316.6 2087.6,311.9 2087.9,315.2 2088.2,343.4 2088.5,350.8 2088.8,355.7 2089.1,359.8 2089.4,310.1 2089.8,310.9 2090.1,362.8 2090.4,362.0 2090.7,357.6 2091.0,348.4 2091.3,341.0 2091.6,355.4 2091.9,337.0 2092.2,313.8 2092.5,311.5 2092.9,332.0 2093.2,305.7 2093.5,306.9 2093.8,322.8 2094.1,328.7 2094.4,325.5 2094.7,322.9 2095.0,292.5 2095.3,293.8 2095.6,375.8 2096.0,374.6 2096.3,346.6 2096.6,359.6 2096.9,357.0 2097.2,372.6 2097.5,369.9 2097.8,372.5 2098.1,327.9 2098.4,319.2 2098.7,335.5 2099.1,330.2 2099.4,320.2 2099.7,303.6 2100.0,304.7 2100.3,379.7 2100.6,378.4 2100.9,328.3 2101.2,354.9 2101.5,375.5 2101.8,373.4 2102.2,331.1 2102.5,305.8 2102.8,320.3 2103.1,378.5 2103.4,379.1 2103.7,344.8 2104.0,316.2 2104.3,328.5 2104.6,300.8 2105.0,297.8 2105.3,310.1 2105.6,379.5 2105.9,376.4 2106.2,363.6 2106.5,372.9 2106.8,359.7 2107.1,292.5 2107.4,293.9 2107.7,384.8 2108.1,383.5 2108.4,372.2 2108.7,355.1 2109.0,334.1 2109.3,335.5 2109.6,313.1 2109.9,305.7 2110.2,343.7 2110.5,369.4 2110.8,337.4 2111.2,331.8 2111.5,361.9 2111.8,375.2 2112.1,365.8 2112.4,331.1 2112.7,303.1 2113.0,303.5 2113.3,305.8 2113.6,323.2 2113.9,324.7 2114.3,337.7 2114.6,346.4 2114.9,359.0 2115.2,355.6 2115.5,355.4 2115.8,350.1 2116.1,349.6 2116.4,301.0 2116.7,302.4 2117.0,392.6 2117.4,391.2 2117.7,333.9 2118.0,356.0 2118.3,356.8 2118.6,338.9 2118.9,337.9 2119.2,356.3 2119.5,354.6 2119.8,346.1 2120.1,361.1 2120.5,369.9 2120.8,374.3 2121.1,340.5 2121.4,309.9 2121.7,321.7 2122.0,369.8 2122.3,299.0 2122.6,300.5 2122.9,390.0 2123.3,388.8 2123.6,378.1 2123.9,360.7 2124.2,344.4 2124.5,341.3 2124.8,366.5 2125.1,380.9 2125.4,345.1 2125.7,341.7 2126.0,365.2 2126.4,389.2 2126.7,357.6 2127.0,347.8 2127.3,346.2 2127.6,321.8 2127.9,326.7 2128.2,327.9 2128.5,345.7 2128.8,347.7 2129.1,359.8 2129.5,364.3 2129.8,358.3 2130.1,341.9 2130.4,351.9 2130.7,331.6 2131.0,332.5 2131.3,393.9 2131.6,392.9 2131.9,333.9 2132.2,338.2 2132.6,355.1 2132.9,347.5 2133.2,362.7 2133.5,385.6 2133.8,389.9 2134.1,379.6 2134.4,373.2 2134.7,359.8 2135.0,346.2 2135.3,404.8 2135.7,403.5 2136.0,336.7 2136.3,340.5 2136.6,346.5 2136.9,373.5 2137.2,392.9 2137.5,394.3 2137.8,392.8 2138.1,389.3 2138.4,357.7 2138.8,367.4 2139.1,375.5 2139.4,353.1 2139.7,332.6 2140.0,393.9"/>
<polyline clip-path="url(#c2)" fill="none" stroke="#0072BD" stroke-width="3.2" stroke-linejoin="round" stroke-linecap="round" points="279.0,1097.6 279.5,1173.5 280.0,1097.4 280.5,1174.3 281.0,1099.4 281.5,1171.8 282.0,1099.4 282.5,1169.3 283.0,1106.4 283.5,1162.5 284.0,1107.3 284.5,1162.5 285.0,1106.8 285.5,1166.2 286.0,1106.2 286.5,1166.5 287.0,1094.0 287.5,1166.3 288.0,1096.9 288.5,1165.7 289.0,1109.0 289.5,1168.5 290.0,1108.2 290.5,1168.0 291.0,1108.3 291.5,1167.7 292.0,1103.3 292.5,1169.0 293.0,1102.1 293.5,1170.0 294.0,1095.3 294.5,1169.0 295.0,1094.6 295.5,1168.5 296.0,1094.8 296.5,1169.2 297.0,1093.1 297.5,1175.2 298.0,1096.1 298.5,1172.5 299.0,1108.6 299.5,1171.8 300.0,1108.1 300.5,1172.0 301.0,1107.4 301.5,1170.6 302.0,1108.2 302.5,1169.7 303.0,1107.5 303.5,1168.7 304.0,1105.2 304.5,1168.2 305.0,1105.0 305.5,1167.5 306.0,1105.0 306.5,1165.7 307.0,1109.3 307.5,1157.2 308.0,1115.9 308.5,1153.8 309.0,1115.8 309.5,1159.1 310.0,1118.3 310.5,1158.3 311.0,1118.8 311.5,1159.4 312.0,1118.6 312.5,1158.3 313.0,1119.0 313.5,1155.6 314.0,1116.6 314.5,1155.9 315.0,1115.9 315.5,1156.0 316.0,1116.7 316.5,1152.2 317.0,1107.3 317.5,1152.3 318.0,1109.3 318.5,1154.4 319.0,1115.0 319.5,1154.2 320.0,1115.8 320.5,1154.5 321.0,1114.9 321.5,1154.4 322.0,1117.8 322.5,1152.6 323.0,1118.1 323.5,1152.4 324.0,1116.2 324.5,1163.0 325.0,1116.8 325.5,1163.5 326.0,1116.2 326.5,1162.2 327.0,1115.6 327.5,1162.8 328.0,1116.0 328.5,1158.0 329.0,1115.1 329.5,1158.0 330.0,1117.4 330.5,1157.8 331.0,1117.3 331.5,1155.3 332.0,1117.1 332.5,1154.8 333.0,1112.4 333.5,1155.3 334.0,1111.6 334.5,1158.2 335.0,1112.6 335.5,1157.2 336.0,1119.7 336.5,1157.8 337.0,1119.8 337.5,1158.2 338.0,1119.8 338.5,1154.0 339.0,1119.5 339.5,1154.7 340.0,1118.9 340.5,1158.7 341.0,1118.8 341.5,1158.3 342.0,1118.4 342.5,1158.3 343.0,1118.5 343.5,1156.2 344.0,1116.0 344.5,1155.4 345.0,1116.6 345.5,1156.1 346.0,1116.1 346.5,1155.5 347.0,1116.8 347.5,1156.5 348.0,1116.4 348.5,1156.4 349.0,1116.6 349.5,1161.7 350.0,1115.8 350.5,1161.6 351.0,1118.4 351.5,1162.1 352.0,1118.1 352.5,1167.6 353.0,1118.2 353.5,1165.3 354.0,1118.1 354.5,1151.5 355.0,1115.0 355.5,1151.5 356.0,1115.1 356.5,1157.2 357.0,1114.7 357.5,1157.2 358.0,1114.0 358.5,1156.4 359.0,1118.5 359.5,1152.3 360.0,1119.0 360.5,1151.4 361.0,1118.9 361.5,1151.8 362.0,1118.6 362.5,1151.9 363.0,1118.3 363.5,1157.5 364.0,1118.3 364.5,1157.9 365.0,1118.5 365.5,1157.7 366.0,1117.7 366.5,1157.8 367.0,1119.0 367.5,1152.4 368.0,1118.8 368.5,1152.2 369.0,1113.6 369.5,1151.8 370.0,1113.2 370.5,1153.8 371.0,1112.9 371.5,1153.2 372.0,1116.5 372.5,1153.6 373.0,1116.7 373.5,1154.0 374.0,1116.9 374.5,1152.0 375.0,1111.8 375.5,1152.2 376.0,1111.4 376.5,1159.6 377.0,1111.7 377.5,1160.2 378.0,1119.3 378.5,1159.7 379.0,1119.2 379.5,1160.8 380.0,1119.5 380.5,1155.6 381.0,1119.7 381.5,1156.5 382.0,1116.3 382.5,1155.7 383.0,1116.7 383.5,1156.5 384.0,1112.9 384.5,1153.5 385.0,1092.6 385.5,1177.5 386.0,1095.6 386.5,1174.6 387.0,1117.2 387.5,1153.7 388.0,1116.7 388.5,1153.2 389.0,1117.0 389.5,1153.4 390.0,1118.0 390.5,1153.1 391.0,1118.4 391.5,1153.5 392.0,1118.5 392.5,1165.0 393.0,1117.6 393.5,1164.3 394.0,1113.9 394.5,1163.8 395.0,1114.0 395.5,1164.6 396.0,1117.2 396.5,1154.6 397.0,1117.2 397.5,1153.9 398.0,1116.9 398.5,1154.4 399.0,1117.1 399.5,1153.5 400.0,1111.9 400.5,1154.1 401.0,1111.1 401.5,1154.4 402.0,1111.4 402.5,1153.0 403.0,1111.3 403.5,1152.8 404.0,1118.2 404.5,1152.4 405.0,1118.8 405.5,1152.5 406.0,1116.5 406.5,1157.2 407.0,1116.0 407.5,1167.6 408.0,1116.0 408.5,1165.3 409.0,1117.6 409.5,1157.1 410.0,1118.4 410.5,1155.0 411.0,1118.8 411.5,1154.7 412.0,1118.2 412.5,1151.1 413.0,1118.2 413.5,1151.3 414.0,1116.6 414.5,1151.1 415.0,1115.7 415.5,1151.0 416.0,1120.0 416.5,1150.7 417.0,1119.8 417.5,1152.4 418.0,1118.5 418.5,1152.4 419.0,1117.9 419.5,1151.8 420.0,1117.6 420.5,1152.4 421.0,1114.6 421.5,1151.3 422.0,1115.2 422.5,1151.5 423.0,1114.7 423.5,1151.2 424.0,1117.6 424.5,1151.2 425.0,1118.0 425.5,1152.8 426.0,1117.5 426.5,1152.4 427.0,1117.3 427.5,1152.7 428.0,1117.1 428.5,1153.1 429.0,1117.6 429.5,1153.1 430.0,1117.3 430.5,1166.2 431.0,1117.9 431.5,1164.0 432.0,1113.9 432.5,1151.5 433.0,1114.5 433.5,1151.4 434.0,1112.8 434.5,1151.6 435.0,1113.4 435.5,1152.9 436.0,1106.2 436.5,1152.4 437.0,1108.2 437.5,1152.5 438.0,1115.8 438.5,1152.4 439.0,1116.1 439.5,1159.3 440.0,1120.2 440.5,1159.5 441.0,1120.3 441.5,1160.1 442.0,1115.6 442.5,1159.5 443.0,1115.5 443.5,1165.9 444.0,1114.4 444.5,1166.5 445.0,1114.2 445.5,1166.3 446.0,1114.1 446.5,1155.1 447.0,1117.2 447.5,1154.7 448.0,1117.2 448.5,1155.2 449.0,1117.5 449.5,1154.2 450.0,1117.6 450.5,1151.0 451.0,1112.5 451.5,1150.7 452.0,1112.1 452.5,1150.8 453.0,1112.1 453.5,1150.7 454.0,1112.8 454.5,1157.0 455.0,1119.2 455.5,1156.7 456.0,1118.8 456.5,1157.5 457.0,1118.9 457.5,1157.2 458.0,1118.8 458.5,1152.0 459.0,1113.0 459.5,1152.5 460.0,1113.8 460.5,1155.1 461.0,1111.5 461.5,1154.9 462.0,1111.3 462.5,1155.0 463.0,1117.8 463.5,1154.6 464.0,1117.7 464.5,1154.5 464.9,1109.6 465.4,1154.5 465.9,1111.4 466.4,1151.6 466.9,1113.3 467.4,1150.8 467.9,1113.5 468.4,1151.2 468.9,1118.0 469.4,1155.5 469.9,1118.0 470.4,1155.3 470.9,1118.8 471.4,1155.4 471.9,1118.7 472.4,1157.7 472.9,1119.0 473.4,1157.0 473.9,1118.8 474.4,1157.0 474.9,1120.6 475.4,1157.8 475.9,1120.8 476.4,1157.8 476.9,1120.0 477.4,1150.5 477.9,1120.2 478.4,1150.4 478.9,1117.4 479.4,1162.8 479.9,1116.4 480.4,1160.9 480.9,1118.7 481.4,1153.1 481.9,1119.0 482.4,1156.9 482.9,1120.3 483.4,1156.8 483.9,1120.0 484.4,1156.5 484.9,1119.8 485.4,1156.5 485.9,1119.8 486.4,1158.6 486.9,1119.8 487.4,1157.5 487.9,1119.5 488.4,1157.5 488.9,1119.4 489.4,1158.5 489.9,1111.0 490.4,1157.5 490.9,1112.7 491.4,1157.9 491.9,1117.9 492.4,1156.5 492.9,1114.4 493.4,1156.0 493.9,1114.3 494.4,1156.2 494.9,1114.5 495.4,1155.5 495.9,1113.7 496.4,1155.6 496.9,1114.0 497.4,1153.1 497.9,1114.1 498.4,1152.9 498.9,1113.9 499.4,1153.2 499.9,1110.9 500.4,1153.5 500.9,1110.3 501.4,1152.8 501.9,1111.1 502.4,1153.0 502.9,1110.1 503.4,1153.0 503.9,1120.4 504.4,1151.1 504.9,1120.5 505.4,1151.8 505.9,1114.1 506.4,1151.9 506.9,1113.4 507.4,1151.4 507.9,1114.6 508.4,1150.6 508.9,1113.7 509.4,1150.3 509.9,1116.9 510.4,1150.3 510.9,1116.4 511.4,1151.1 511.9,1117.4 512.4,1150.5 512.9,1117.0 513.4,1151.6 513.9,1117.0 514.4,1151.4 514.9,1117.0 515.4,1151.1 515.9,1116.9 516.4,1151.1 516.9,1116.3 517.4,1151.1 517.9,1119.5 518.4,1152.0 518.9,1119.2 519.4,1151.7 519.9,1119.4 520.4,1151.8 520.9,1119.9 521.4,1152.0 521.9,1115.8 522.4,1152.1 522.9,1115.2 523.4,1152.5 523.9,1116.5 524.4,1151.3 524.9,1116.7 525.4,1151.1 525.9,1118.1 526.4,1153.2 526.9,1118.5 527.4,1153.1 527.9,1110.2 528.4,1152.5 528.9,1109.9 529.4,1152.9 529.9,1113.6 530.4,1152.2 530.9,1113.6 531.4,1151.6 531.9,1113.8 532.4,1151.8 532.9,1113.2 533.4,1152.1 533.9,1117.9 534.4,1151.2 534.9,1118.3 535.4,1151.4 535.9,1117.5 536.4,1150.7 536.9,1117.7 537.4,1150.6 537.9,1117.5 538.4,1151.1 538.9,1117.4 539.4,1150.7 539.9,1118.2 540.4,1150.6 540.9,1114.9 541.4,1150.8 541.9,1114.7 542.4,1150.2 542.9,1114.8 543.4,1150.7 543.9,1117.3 544.4,1152.5 544.9,1117.1 545.4,1152.9 545.9,1117.3 546.4,1152.3 546.9,1116.5 547.4,1159.2 547.9,1120.5 548.4,1159.9 548.9,1120.2 549.4,1159.1 549.9,1119.9 550.4,1159.2 550.9,1119.8 551.4,1158.0 551.9,1117.6 552.4,1158.0 552.9,1117.0 553.4,1157.6 553.9,1117.2 554.4,1153.6 554.9,1117.1 555.4,1153.4 555.9,1118.6 556.4,1153.7 556.9,1118.0 557.4,1152.2 557.9,1118.7 558.4,1152.5 558.9,1118.3 559.4,1152.4 559.9,1115.8 560.4,1154.4 560.9,1115.5 561.4,1154.5 561.9,1120.5 562.4,1153.5 562.9,1120.4 563.4,1156.7 563.9,1120.0 564.4,1156.8 564.9,1119.8 565.4,1156.5 565.9,1119.9 566.4,1163.7 566.9,1119.9 567.4,1164.4 567.9,1119.1 568.4,1155.3 568.9,1111.5 569.4,1155.7 569.9,1111.9 570.4,1155.3 570.9,1120.1 571.4,1151.8 571.9,1120.2 572.4,1151.7 572.9,1120.5 573.4,1151.8 573.9,1120.4 574.4,1151.8 574.9,1116.1 575.4,1152.9 575.9,1115.7 576.4,1153.2 576.9,1118.5 577.4,1157.5 577.9,1118.5 578.4,1157.3 578.9,1118.5 579.4,1157.8 579.9,1117.3 580.4,1157.2 580.9,1117.8 581.4,1154.0 581.9,1117.6 582.4,1153.7 582.9,1110.9 583.4,1154.0 583.9,1111.4 584.4,1153.2 584.9,1110.5 585.4,1153.5 585.9,1112.7 586.4,1153.9 586.9,1111.6 587.4,1153.3 587.9,1112.7 588.4,1153.1 588.9,1112.0 589.4,1152.7 589.9,1111.1 590.4,1153.2 590.9,1111.4 591.4,1154.9 591.9,1110.9 592.4,1155.5 592.9,1119.1 593.4,1154.7 593.9,1118.7 594.4,1155.4 594.9,1119.3 595.4,1151.7 595.9,1118.5 596.4,1151.3 596.9,1118.5 597.4,1151.4 597.9,1117.9 598.4,1151.8 598.9,1118.4 599.4,1151.0 599.9,1118.3 600.4,1151.5 600.9,1118.5 601.4,1151.0 601.9,1120.1 602.4,1151.5 602.9,1119.6 603.4,1150.8 603.9,1120.0 604.4,1151.0 604.9,1114.2 605.4,1151.5 605.9,1114.0 606.4,1150.5 606.9,1113.8 607.4,1150.0 607.9,1120.4 608.4,1151.4 608.9,1119.8 609.4,1151.2 609.9,1120.4 610.4,1151.0 610.9,1120.1 611.4,1150.9 611.9,1118.5 612.4,1152.7 612.9,1118.9 613.4,1152.8 613.9,1118.5 614.4,1159.0 614.9,1116.4 615.4,1157.7 615.9,1116.7 616.4,1158.0 616.9,1116.7 617.4,1158.9 617.9,1119.3 618.4,1155.0 618.9,1119.1 619.4,1154.4 619.9,1119.3 620.4,1154.5 620.9,1119.3 621.4,1155.1 621.9,1120.6 622.4,1153.3 622.9,1120.3 623.4,1153.1 623.9,1120.0 624.4,1153.1 624.9,1118.3 625.4,1152.8 625.9,1118.7 626.4,1151.3 626.9,1118.3 627.4,1151.9 627.9,1118.9 628.4,1151.6 628.9,1118.8 629.4,1151.9 629.9,1118.0 630.4,1151.9 630.9,1118.3 631.4,1151.1 631.9,1118.9 632.4,1151.4 632.9,1119.0 633.4,1150.9 633.9,1118.9 634.4,1150.9 634.9,1118.2 635.4,1155.3 635.9,1117.8 636.4,1155.3 636.9,1117.8 637.4,1155.2 637.9,1118.2 638.4,1155.3 638.9,1114.9 639.4,1154.5 639.9,1114.6 640.4,1152.1 640.9,1114.2 641.4,1152.2 641.9,1115.0 642.4,1151.5 642.9,1116.6 643.4,1151.5 643.9,1116.6 644.4,1156.3 644.9,1116.6 645.4,1156.1 645.9,1116.8 646.4,1156.3 646.9,1108.2 647.4,1155.7 647.9,1110.1 648.4,1153.5 648.9,1116.8 649.4,1153.2 649.9,1118.4 650.4,1150.4 650.9,1118.2 651.4,1150.9 651.9,1118.5 652.4,1150.8 652.9,1117.5 653.4,1152.8 653.9,1118.9 654.4,1153.5 654.9,1119.7 655.4,1153.7 655.9,1119.7 656.4,1150.9 656.9,1115.9 657.4,1150.9 657.9,1116.0 658.4,1154.2 658.9,1115.5 659.4,1154.3 659.9,1115.6 660.4,1154.8 660.9,1116.3 661.4,1150.8 661.9,1116.4 662.4,1151.4 662.9,1116.2 663.4,1151.0 663.9,1116.2 664.4,1151.2 664.9,1120.5 665.4,1157.2 665.9,1120.5 666.4,1157.4 666.9,1120.4 667.4,1157.7 667.9,1115.2 668.4,1151.4 668.9,1115.6 669.4,1151.8 669.9,1115.2 670.4,1152.2 670.9,1113.2 671.4,1151.6 671.9,1113.6 672.4,1151.9 672.9,1112.9 673.4,1152.1 673.9,1112.0 674.4,1151.6 674.9,1112.1 675.4,1155.1 675.9,1112.8 676.4,1155.7 676.9,1112.0 677.4,1155.9 677.9,1118.1 678.4,1155.1 678.9,1118.9 679.4,1151.6 679.9,1118.5 680.4,1151.7 680.9,1118.5 681.4,1151.2 681.9,1118.5 682.4,1151.5 682.9,1118.0 683.4,1155.0 683.9,1118.4 684.4,1155.0 684.9,1119.0 685.4,1155.7 685.9,1119.2 686.4,1164.4 686.9,1115.4 687.4,1165.9 687.9,1116.2 688.4,1164.4 688.9,1115.9 689.4,1151.3 689.9,1116.1 690.4,1151.5 690.9,1119.6 691.4,1152.0 691.9,1119.5 692.4,1156.1 692.9,1116.0 693.4,1157.1 693.9,1116.4 694.4,1156.6 694.9,1116.3 695.4,1156.8 695.9,1119.2 696.4,1153.6 696.9,1118.6 697.4,1154.2 697.9,1118.8 698.4,1154.0 698.9,1118.6 699.4,1153.4 699.9,1120.1 700.4,1157.4 700.9,1120.4 701.4,1157.9 701.9,1119.8 702.4,1157.6 702.9,1115.6 703.4,1157.3 703.9,1115.7 704.4,1156.7 704.9,1115.7 705.4,1156.9 705.9,1115.8 706.4,1156.6 706.9,1116.9 707.4,1157.0 707.9,1116.8 708.4,1157.6 708.9,1115.5 709.4,1157.5 709.9,1115.9 710.4,1156.7 710.9,1115.8 711.4,1154.1 711.9,1118.8 712.4,1154.1 712.9,1118.7 713.4,1154.9 713.9,1115.5 714.4,1154.0 714.9,1116.3 715.4,1152.9 715.9,1116.6 716.4,1153.2 716.9,1116.1 717.4,1152.9 717.9,1118.5 718.4,1152.8 718.9,1117.8 719.4,1153.4 719.9,1118.6 720.4,1153.1 720.9,1118.8 721.4,1152.6 721.9,1118.9 722.4,1151.4 722.9,1118.0 723.4,1150.9 723.9,1119.7 724.4,1152.0 724.9,1120.3 725.4,1152.1 725.9,1120.2 726.4,1152.7 726.9,1120.0 727.4,1152.4 727.9,1109.4 728.4,1152.0 728.9,1109.6 729.4,1159.6 729.9,1119.5 730.4,1160.0 730.9,1119.3 731.4,1152.2 731.9,1116.9 732.4,1151.7 732.9,1117.7 733.4,1153.0 733.9,1117.8 734.4,1153.3 734.9,1117.3 735.4,1152.7 735.9,1114.2 736.4,1153.3 736.9,1113.1 737.4,1152.6 737.9,1113.2 738.4,1152.6 738.9,1115.9 739.4,1151.1 739.9,1115.9 740.4,1150.7 740.9,1115.7 741.4,1151.3 741.9,1116.3 742.4,1151.0 742.9,1116.9 743.4,1150.9 743.9,1116.4 744.4,1151.1 744.9,1116.7 745.4,1155.9 745.9,1120.3 746.4,1155.9 746.9,1120.2 747.4,1155.6 747.9,1115.7 748.4,1154.5 748.9,1115.0 749.4,1155.3 749.9,1115.6 750.4,1154.9 750.9,1111.3 751.4,1153.2 751.9,1112.2 752.4,1152.9 752.9,1110.9 753.4,1153.3 753.9,1111.6 754.4,1151.3 754.9,1119.5 755.4,1151.7 755.9,1120.1 756.4,1151.7 756.9,1118.9 757.4,1151.1 757.9,1119.0 758.4,1151.1 758.9,1118.9 759.4,1151.3 759.9,1118.7 760.4,1154.5 760.9,1118.8 761.4,1153.6 761.9,1119.4 762.4,1151.1 762.9,1119.0 763.4,1150.9 763.9,1119.2 764.4,1151.2 764.9,1116.4 765.4,1151.1 765.9,1117.0 766.4,1152.0 766.9,1116.8 767.4,1152.5 767.9,1113.4 768.4,1152.7 768.9,1113.0 769.4,1151.8 769.9,1119.7 770.4,1151.0 770.9,1119.2 771.4,1151.9 771.9,1120.0 772.4,1153.8 772.9,1119.2 773.4,1154.2 773.9,1118.6 774.4,1154.7 774.9,1118.7 775.4,1155.1 775.9,1119.2 776.4,1154.5 776.9,1111.6 777.4,1158.7 777.9,1112.3 778.4,1158.8 778.9,1112.2 779.4,1159.0 779.9,1111.8 780.4,1158.9 780.9,1118.4 781.4,1153.6 781.9,1101.1 782.4,1153.8 782.9,1103.5 783.4,1153.3 783.9,1118.7 784.4,1153.6 784.9,1115.7 785.4,1153.0 785.9,1115.9 786.4,1153.1 786.9,1117.2 787.4,1153.6 787.9,1116.9 788.4,1152.7 788.9,1116.7 789.4,1153.2 789.9,1118.2 790.4,1152.8 790.9,1118.2 791.4,1152.9 791.9,1116.8 792.4,1152.8 792.9,1116.5 793.4,1153.1 793.9,1116.9 794.4,1152.6 794.9,1117.1 795.4,1154.9 795.9,1117.0 796.4,1154.6 796.9,1116.5 797.4,1155.2 797.9,1116.2 798.4,1154.5 798.9,1116.9 799.4,1156.9 799.9,1117.4 800.4,1157.1 800.9,1117.7 801.4,1156.7 801.9,1114.1 802.4,1152.7 802.9,1114.9 803.4,1152.3 803.9,1118.4 804.4,1157.1 804.9,1118.9 805.4,1156.0 805.9,1118.5 806.4,1156.9 806.9,1118.8 807.4,1153.0 807.9,1112.8 808.4,1152.5 808.9,1113.0 809.4,1159.1 809.9,1112.5 810.4,1157.4 810.9,1114.9 811.4,1154.6 811.9,1114.4 812.4,1154.1 812.9,1120.3 813.4,1153.8 813.9,1120.5 814.4,1154.1 814.9,1114.5 815.4,1151.2 815.9,1115.4 816.4,1151.0 816.9,1114.9 817.4,1151.0 817.9,1114.4 818.4,1152.6 818.9,1118.4 819.4,1152.7 819.9,1118.8 820.4,1152.0 820.9,1118.7 821.4,1152.0 821.9,1119.3 822.4,1151.6 822.9,1114.5 823.4,1152.8 823.9,1115.1 824.4,1152.2 824.9,1114.8 825.4,1152.9 825.9,1115.4 826.4,1152.7 826.9,1118.7 827.4,1153.9 827.9,1118.5 828.4,1153.8 828.9,1111.0 829.4,1157.1 829.9,1111.3 830.4,1157.9 830.9,1118.9 831.4,1153.7 831.9,1119.6 832.4,1154.0 832.9,1118.8 833.4,1151.9 833.9,1117.0 834.4,1152.5 834.9,1117.3 835.4,1152.3 835.9,1120.5 836.4,1152.5 836.8,1119.9 837.3,1155.6 837.8,1120.2 838.3,1156.4 838.8,1117.8 839.3,1155.6 839.8,1118.3 840.3,1151.4 840.8,1118.4 841.3,1152.2 841.8,1115.2 842.3,1151.6 842.8,1114.4 843.3,1152.0 843.8,1114.3 844.3,1161.8 844.8,1120.1 845.3,1162.0 845.8,1119.7 846.3,1162.7 846.8,1120.1 847.3,1162.7 847.8,1118.1 848.3,1153.2 848.8,1117.8 849.3,1152.3 849.8,1117.5 850.3,1152.7 850.8,1115.0 851.3,1153.4 851.8,1103.9 852.3,1153.1 852.8,1106.1 853.3,1152.8 853.8,1115.5 854.3,1153.0 854.8,1112.4 855.3,1155.3 855.8,1113.4 856.3,1155.7 856.8,1113.7 857.3,1156.4 857.8,1112.7 858.3,1155.9 858.8,1118.9 859.3,1151.6 859.8,1119.1 860.3,1151.8 860.8,1118.7 861.3,1152.5 861.8,1119.1 862.3,1152.5 862.8,1118.6 863.3,1151.8 863.8,1119.2 864.3,1151.7 864.8,1118.3 865.3,1150.5 865.8,1118.6 866.3,1150.8 866.8,1118.3 867.3,1151.1 867.8,1106.2 868.3,1151.0 868.8,1108.2 869.3,1156.8 869.8,1117.2 870.3,1156.4 870.8,1118.8 871.3,1156.1 871.8,1119.5 872.3,1157.1 872.8,1119.2 873.3,1152.4 873.8,1119.2 874.3,1152.6 874.8,1113.6 875.3,1152.1 875.8,1113.6 876.3,1152.2 876.8,1113.9 877.3,1153.0 877.8,1113.5 878.3,1152.9 878.8,1117.6 879.3,1153.5 879.8,1117.8 880.3,1153.3 880.8,1117.5 881.3,1153.8 881.8,1119.4 882.3,1154.6 882.8,1119.1 883.3,1154.5 883.8,1118.5 884.3,1154.8 884.8,1107.3 885.3,1154.7 885.8,1109.3 886.3,1154.6 886.8,1115.0 887.3,1161.1 887.8,1115.3 888.3,1159.3 888.8,1114.4 889.3,1152.9 889.8,1118.8 890.3,1152.2 890.8,1118.3 891.3,1153.7 891.8,1114.8 892.3,1154.5 892.8,1114.5 893.3,1154.6 893.8,1114.2 894.3,1154.2 894.8,1118.7 895.3,1157.8 895.8,1119.0 896.3,1157.9 896.8,1118.8 897.3,1158.2 897.8,1119.0 898.3,1156.6 898.8,1119.1 899.3,1157.0 899.8,1119.7 900.3,1157.3 900.8,1111.9 901.3,1157.2 901.8,1111.4 902.3,1155.9 902.8,1118.0 903.3,1156.1 903.8,1118.7 904.3,1155.6 904.8,1120.4 905.3,1154.9 905.8,1119.8 906.3,1155.3 906.8,1117.7 907.3,1154.9 907.8,1117.8 908.3,1155.0 908.8,1117.2 909.3,1151.7 909.8,1116.9 910.3,1151.4 910.8,1116.8 911.3,1151.5 911.8,1116.7 912.3,1151.1 912.8,1106.8 913.3,1153.8 913.8,1106.3 914.3,1154.3 914.8,1106.9 915.3,1154.7 915.8,1116.9 916.3,1153.7 916.8,1116.5 917.3,1160.0 917.8,1117.3 918.3,1160.3 918.8,1116.7 919.3,1160.2 919.8,1120.4 920.3,1160.1 920.8,1120.4 921.3,1153.8 921.8,1120.4 922.3,1153.6 922.8,1120.5 923.3,1153.1 923.8,1120.4 924.3,1150.6 924.8,1119.8 925.3,1151.2 925.8,1119.9 926.3,1154.6 926.8,1117.0 927.3,1155.3 927.8,1117.1 928.3,1150.7 928.8,1107.4 929.3,1150.6 929.8,1107.0 930.3,1150.5 930.8,1108.5 931.3,1154.2 931.8,1107.7 932.3,1154.3 932.8,1114.5 933.3,1153.9 933.8,1113.9 934.3,1153.6 934.8,1113.9 935.3,1153.9 935.8,1120.0 936.3,1152.1 936.8,1120.1 937.3,1152.1 937.8,1119.5 938.3,1151.8 938.8,1120.1 939.3,1152.0 939.8,1116.5 940.3,1152.7 940.8,1116.3 941.3,1153.5 941.8,1116.0 942.3,1153.7 942.8,1119.6 943.3,1155.0 943.8,1119.7 944.3,1154.4 944.8,1110.8 945.3,1151.2 945.8,1111.6 946.3,1151.5 946.8,1115.7 947.3,1151.1 947.8,1116.3 948.3,1151.1 948.8,1119.4 949.3,1157.2 949.8,1119.8 950.3,1157.7 950.8,1120.0 951.3,1157.6 951.8,1119.2 952.3,1156.8 952.8,1119.3 953.3,1157.5 953.8,1118.7 954.3,1156.9 954.8,1118.9 955.3,1156.8 955.8,1118.9 956.3,1160.1 956.8,1113.7 957.3,1159.9 957.8,1114.7 958.3,1151.3 958.8,1118.6 959.3,1150.5 959.8,1119.2 960.3,1157.4 960.8,1119.0 961.3,1157.4 961.8,1119.0 962.3,1152.6 962.8,1113.9 963.3,1152.4 963.8,1114.9 964.3,1152.5 964.8,1114.5 965.3,1152.6 965.8,1120.5 966.3,1153.6 966.8,1120.4 967.3,1154.3 967.8,1119.7 968.3,1154.3 968.8,1120.3 969.3,1152.9 969.8,1116.1 970.3,1153.0 970.8,1116.3 971.3,1154.6 971.8,1116.9 972.3,1154.6 972.8,1117.9 973.3,1150.9 973.8,1117.0 974.3,1151.2 974.8,1106.8 975.3,1151.1 975.8,1107.1 976.3,1151.6 976.8,1106.8 977.3,1152.8 977.8,1107.2 978.3,1153.4 978.8,1118.3 979.3,1154.5 979.8,1118.2 980.3,1154.2 980.8,1119.9 981.3,1152.4 981.8,1119.5 982.3,1152.2 982.8,1119.6 983.3,1152.0 983.8,1119.5 984.3,1152.5 984.8,1118.8 985.3,1152.2 985.8,1118.7 986.3,1152.5 986.8,1118.4 987.3,1152.8 987.8,1118.2 988.3,1153.0 988.8,1119.0 989.3,1152.5 989.8,1118.7 990.3,1154.9 990.8,1118.7 991.3,1154.2 991.8,1119.8 992.3,1154.4 992.8,1119.3 993.3,1154.2 993.8,1119.4 994.3,1152.2 994.8,1117.5 995.3,1152.5 995.8,1117.4 996.3,1152.3 996.8,1111.7 997.3,1155.4 997.8,1111.8 998.3,1154.9 998.8,1112.4 999.3,1150.8 999.8,1112.0 1000.3,1150.9 1000.8,1113.8 1001.3,1155.3 1001.8,1114.1 1002.3,1154.3 1002.8,1109.9 1003.3,1154.7 1003.8,1110.7 1004.3,1155.1 1004.8,1090.3 1005.3,1163.3 1005.8,1093.5 1006.3,1161.4 1006.8,1117.3 1007.3,1150.8 1007.8,1115.5 1008.3,1151.9 1008.8,1115.4 1009.3,1152.1 1009.8,1115.9 1010.3,1151.9 1010.8,1116.2 1011.3,1159.2 1011.8,1120.2 1012.3,1159.3 1012.8,1119.6 1013.3,1159.2 1013.8,1119.6 1014.3,1159.0 1014.8,1113.2 1015.3,1154.8 1015.8,1113.2 1016.3,1155.5 1016.8,1112.9 1017.3,1155.5 1017.8,1118.7 1018.3,1155.4 1018.8,1118.6 1019.3,1154.3 1019.8,1119.2 1020.3,1154.3 1020.8,1118.7 1021.3,1153.9 1021.8,1118.8 1022.3,1154.8 1022.8,1118.3 1023.3,1151.1 1023.8,1118.6 1024.3,1151.2 1024.8,1119.1 1025.3,1156.0 1025.8,1118.8 1026.3,1156.0 1026.8,1118.8 1027.3,1157.8 1027.8,1120.3 1028.3,1157.1 1028.8,1120.4 1029.3,1157.3 1029.8,1120.9 1030.3,1157.6 1030.8,1120.8 1031.3,1158.4 1031.8,1118.1 1032.3,1157.6 1032.8,1118.2 1033.3,1158.2 1033.8,1118.4 1034.3,1153.5 1034.8,1100.5 1035.3,1152.7 1035.8,1103.0 1036.3,1154.8 1036.8,1117.6 1037.3,1155.4 1037.8,1117.9 1038.3,1163.3 1038.8,1118.1 1039.3,1163.4 1039.8,1111.6 1040.3,1162.8 1040.8,1112.9 1041.3,1163.9 1041.8,1112.9 1042.3,1156.3 1042.8,1112.1 1043.3,1155.9 1043.8,1119.7 1044.3,1155.6 1044.8,1120.3 1045.3,1153.2 1045.8,1119.2 1046.3,1152.6 1046.8,1119.0 1047.3,1152.8 1047.8,1117.6 1048.3,1152.2 1048.8,1118.1 1049.3,1151.3 1049.8,1117.6 1050.3,1152.1 1050.8,1118.4 1051.3,1151.8 1051.8,1119.9 1052.3,1150.9 1052.8,1119.9 1053.3,1150.6 1053.8,1119.6 1054.3,1150.6 1054.8,1119.6 1055.3,1151.2 1055.8,1119.0 1056.3,1154.7 1056.8,1118.9 1057.3,1154.5 1057.8,1119.4 1058.3,1154.8 1058.8,1115.0 1059.3,1152.4 1059.8,1114.9 1060.3,1151.9 1060.8,1118.2 1061.3,1151.7 1061.8,1117.4 1062.3,1152.1 1062.8,1117.9 1063.3,1159.4 1063.8,1118.1 1064.3,1159.4 1064.8,1112.4 1065.3,1158.5 1065.8,1113.2 1066.3,1158.8 1066.8,1110.0 1067.3,1156.2 1067.8,1109.1 1068.3,1155.9 1068.8,1109.2 1069.3,1155.9 1069.8,1118.2 1070.3,1155.2 1070.8,1118.5 1071.3,1155.2 1071.8,1118.3 1072.3,1155.8 1072.8,1118.7 1073.3,1155.3 1073.8,1118.3 1074.3,1151.7 1074.8,1118.9 1075.3,1151.4 1075.8,1118.9 1076.3,1151.0 1076.8,1119.0 1077.3,1151.6 1077.8,1119.1 1078.3,1154.8 1078.8,1118.9 1079.3,1154.2 1079.8,1112.7 1080.3,1155.2 1080.8,1112.7 1081.3,1151.1 1081.8,1113.3 1082.3,1151.4 1082.8,1112.5 1083.3,1151.1 1083.8,1118.8 1084.3,1163.3 1084.8,1118.5 1085.3,1161.4 1085.8,1118.1 1086.3,1151.2 1086.8,1118.5 1087.3,1153.8 1087.8,1118.9 1088.3,1154.2 1088.8,1119.1 1089.3,1153.6 1089.8,1118.8 1090.3,1150.5 1090.8,1106.2 1091.3,1150.9 1091.8,1108.2 1092.3,1154.8 1092.8,1120.0 1093.3,1153.7 1093.8,1119.4 1094.3,1154.7 1094.8,1120.8 1095.3,1154.0 1095.8,1120.3 1096.3,1159.1 1096.8,1120.1 1097.3,1159.2 1097.8,1119.1 1098.3,1153.1 1098.8,1119.3 1099.3,1153.4 1099.8,1119.6 1100.3,1153.5 1100.8,1119.2 1101.3,1151.1 1101.8,1120.2 1102.3,1163.3 1102.8,1120.1 1103.3,1161.4 1103.8,1120.3 1104.3,1151.2 1104.8,1120.4 1105.3,1152.3 1105.8,1117.9 1106.3,1151.9 1106.8,1117.9 1107.3,1151.4 1107.8,1118.3 1108.3,1151.0 1108.8,1115.8 1109.3,1150.9 1109.8,1115.6 1110.3,1151.4 1110.8,1114.4 1111.3,1159.8 1111.8,1114.0 1112.3,1160.4 1112.8,1102.5 1113.3,1154.3 1113.8,1104.8 1114.3,1153.9 1114.8,1120.4 1115.3,1154.4 1115.8,1120.0 1116.3,1153.8 1116.8,1120.4 1117.3,1152.1 1117.8,1120.0 1118.3,1152.4 1118.8,1118.7 1119.3,1151.9 1119.8,1118.5 1120.3,1151.7 1120.8,1116.5 1121.3,1151.9 1121.8,1116.1 1122.3,1151.5 1122.8,1116.6 1123.3,1152.2 1123.8,1120.2 1124.3,1151.9 1124.8,1120.2 1125.3,1157.7 1125.8,1119.7 1126.3,1158.7 1126.8,1120.4 1127.3,1157.6 1127.8,1120.3 1128.3,1156.5 1128.8,1120.6 1129.3,1155.6 1129.8,1120.3 1130.3,1156.2 1130.8,1114.1 1131.3,1153.8 1131.8,1113.4 1132.3,1153.5 1132.8,1115.2 1133.3,1156.3 1133.8,1114.9 1134.3,1156.0 1134.8,1114.9 1135.3,1155.9 1135.8,1114.9 1136.3,1164.6 1136.8,1114.8 1137.3,1165.7 1137.8,1115.1 1138.3,1164.7 1138.8,1114.1 1139.3,1165.2 1139.8,1115.3 1140.3,1151.9 1140.8,1120.5 1141.3,1152.2 1141.8,1120.0 1142.3,1152.2 1142.8,1120.1 1143.3,1152.0 1143.8,1120.7 1144.3,1156.0 1144.8,1113.0 1145.3,1155.6 1145.8,1112.7 1146.3,1155.5 1146.8,1109.7 1147.3,1153.1 1147.8,1110.1 1148.3,1152.6 1148.8,1114.3 1149.3,1151.4 1149.8,1114.1 1150.3,1151.8 1150.8,1117.3 1151.3,1152.1 1151.8,1117.9 1152.3,1159.0 1152.8,1118.2 1153.3,1158.9 1153.8,1118.8 1154.3,1158.4 1154.8,1118.9 1155.3,1153.2 1155.8,1118.7 1156.3,1153.9 1156.8,1113.7 1157.3,1153.0 1157.8,1113.7 1158.3,1157.8 1158.8,1113.5 1159.3,1157.4 1159.8,1114.8 1160.3,1157.8 1160.8,1114.6 1161.3,1157.4 1161.8,1114.2 1162.3,1157.3 1162.8,1114.6 1163.3,1157.9 1163.8,1117.2 1164.3,1150.3 1164.8,1116.9 1165.3,1150.5 1165.8,1119.2 1166.3,1161.2 1166.8,1119.0 1167.3,1160.8 1167.8,1119.5 1168.3,1155.5 1168.8,1119.0 1169.3,1155.4 1169.8,1119.4 1170.3,1155.5 1170.8,1118.9 1171.3,1158.5 1171.8,1116.7 1172.3,1158.0 1172.8,1115.9 1173.3,1158.1 1173.8,1118.7 1174.3,1152.8 1174.8,1118.8 1175.3,1152.8 1175.8,1120.2 1176.3,1155.8 1176.8,1120.0 1177.3,1155.0 1177.8,1120.3 1178.3,1155.6 1178.8,1114.0 1179.3,1151.0 1179.8,1114.3 1180.3,1150.5 1180.8,1118.9 1181.3,1150.6 1181.8,1119.0 1182.3,1150.5 1182.8,1118.7 1183.3,1155.0 1183.8,1118.9 1184.3,1155.0 1184.8,1118.7 1185.3,1156.0 1185.8,1118.1 1186.3,1151.8 1186.8,1118.5 1187.3,1151.7 1187.8,1118.9 1188.3,1153.1 1188.8,1119.0 1189.3,1152.7 1189.8,1119.1 1190.3,1154.4 1190.8,1118.9 1191.3,1155.2 1191.8,1116.2 1192.3,1154.0 1192.8,1116.0 1193.3,1153.9 1193.8,1112.1 1194.3,1153.4 1194.8,1112.3 1195.3,1153.5 1195.8,1120.1 1196.3,1158.4 1196.8,1120.0 1197.3,1157.7 1197.8,1117.8 1198.3,1157.7 1198.8,1117.6 1199.3,1156.7 1199.8,1120.8 1200.3,1157.5 1200.8,1120.4 1201.3,1157.0 1201.8,1120.6 1202.3,1157.7 1202.8,1116.0 1203.3,1155.9 1203.8,1116.2 1204.3,1156.4 1204.8,1115.5 1205.3,1155.7 1205.8,1117.1 1206.3,1155.8 1206.8,1117.4 1207.3,1156.2 1207.8,1117.3 1208.3,1156.2 1208.7,1120.2 1209.2,1152.1 1209.7,1120.4 1210.2,1152.3 1210.7,1120.2 1211.2,1155.8 1211.7,1120.0 1212.2,1155.4 1212.7,1109.0 1213.2,1155.5 1213.7,1109.1 1214.2,1155.5 1214.7,1117.4 1215.2,1158.3 1215.7,1117.7 1216.2,1158.2 1216.7,1117.5 1217.2,1150.8 1217.7,1117.0 1218.2,1150.1 1218.7,1116.9 1219.2,1156.3 1219.7,1117.2 1220.2,1155.5 1220.7,1117.2 1221.2,1153.3 1221.7,1108.2 1222.2,1153.4 1222.7,1110.1 1223.2,1153.7 1223.7,1113.9 1224.2,1153.3 1224.7,1114.1 1225.2,1150.9 1225.7,1116.2 1226.2,1151.2 1226.7,1116.4 1227.2,1150.8 1227.7,1116.8 1228.2,1156.4 1228.7,1119.4 1229.2,1157.1 1229.7,1119.3 1230.2,1152.7 1230.7,1120.0 1231.2,1153.0 1231.7,1120.4 1232.2,1154.8 1232.7,1120.8 1233.2,1155.7 1233.7,1120.0 1234.2,1155.2 1234.7,1120.2 1235.2,1151.1 1235.7,1113.2 1236.2,1150.8 1236.7,1112.9 1237.2,1150.6 1237.7,1113.8 1238.2,1151.3 1238.7,1120.5 1239.2,1151.5 1239.7,1120.0 1240.2,1155.5 1240.7,1114.4 1241.2,1155.4 1241.7,1115.3 1242.2,1155.0 1242.7,1116.7 1243.2,1151.7 1243.7,1115.9 1244.2,1151.9 1244.7,1115.8 1245.2,1154.9 1245.7,1115.6 1246.2,1155.3 1246.7,1111.4 1247.2,1155.7 1247.7,1110.7 1248.2,1154.8 1248.7,1110.8 1249.2,1154.0 1249.7,1110.9 1250.2,1154.9 1250.7,1120.1 1251.2,1154.3 1251.7,1120.3 1252.2,1153.5 1252.7,1119.9 1253.2,1153.0 1253.7,1120.2 1254.2,1152.2 1254.7,1119.6 1255.2,1152.5 1255.7,1119.7 1256.2,1152.5 1256.7,1118.9 1257.2,1152.4 1257.7,1119.6 1258.2,1152.2 1258.7,1115.2 1259.2,1152.5 1259.7,1115.1 1260.2,1152.5 1260.7,1107.3 1261.2,1157.1 1261.7,1109.3 1262.2,1156.6 1262.7,1117.5 1263.2,1152.7 1263.7,1117.4 1264.2,1152.8 1264.7,1119.5 1265.2,1152.7 1265.7,1118.8 1266.2,1155.8 1266.7,1119.2 1267.2,1155.8 1267.7,1119.3 1268.2,1153.3 1268.7,1119.0 1269.2,1152.4 1269.7,1118.7 1270.2,1156.1 1270.7,1118.9 1271.2,1156.3 1271.7,1114.6 1272.2,1156.2 1272.7,1115.4 1273.2,1153.5 1273.7,1114.9 1274.2,1153.2 1274.7,1114.7 1275.2,1152.7 1275.7,1118.9 1276.2,1153.7 1276.7,1118.9 1277.2,1157.1 1277.7,1119.3 1278.2,1156.9 1278.7,1115.2 1279.2,1157.5 1279.7,1114.8 1280.2,1156.6 1280.7,1114.4 1281.2,1157.0 1281.7,1115.1 1282.2,1156.0 1282.7,1117.8 1283.2,1155.8 1283.7,1117.3 1284.2,1155.3 1284.7,1117.1 1285.2,1155.2 1285.7,1117.6 1286.2,1158.5 1286.7,1119.3 1287.2,1158.5 1287.7,1119.2 1288.2,1154.3 1288.7,1119.1 1289.2,1153.8 1289.7,1119.7 1290.2,1154.9 1290.7,1115.7 1291.2,1154.0 1291.7,1115.7 1292.2,1162.1 1292.7,1115.5 1293.2,1161.6 1293.7,1116.0 1294.2,1157.2 1294.7,1116.4 1295.2,1157.0 1295.7,1115.5 1296.2,1158.1 1296.7,1119.3 1297.2,1158.3 1297.7,1118.8 1298.2,1158.8 1298.7,1118.6 1299.2,1155.8 1299.7,1119.5 1300.2,1155.2 1300.7,1119.3 1301.2,1151.8 1301.7,1119.7 1302.2,1151.5 1302.7,1119.5 1303.2,1151.7 1303.7,1119.5 1304.2,1158.3 1304.7,1117.6 1305.2,1158.8 1305.7,1117.5 1306.2,1158.2 1306.7,1116.8 1307.2,1158.4 1307.7,1117.5 1308.2,1164.0 1308.7,1117.0 1309.2,1164.4 1309.7,1117.0 1310.2,1156.6 1310.7,1117.1 1311.2,1156.3 1311.7,1117.5 1312.2,1157.4 1312.7,1115.6 1313.2,1161.1 1313.7,1116.2 1314.2,1159.3 1314.7,1119.3 1315.2,1154.2 1315.7,1118.9 1316.2,1153.9 1316.7,1119.0 1317.2,1152.5 1317.7,1118.0 1318.2,1153.0 1318.7,1118.6 1319.2,1152.6 1319.7,1120.2 1320.2,1153.8 1320.7,1121.0 1321.2,1153.4 1321.7,1121.0 1322.2,1151.6 1322.7,1120.8 1323.2,1151.2 1323.7,1115.1 1324.2,1157.3 1324.7,1115.1 1325.2,1156.9 1325.7,1114.4 1326.2,1156.9 1326.7,1113.5 1327.2,1152.7 1327.7,1114.1 1328.2,1152.0 1328.7,1119.6 1329.2,1152.3 1329.7,1120.1 1330.2,1151.8 1330.7,1114.3 1331.2,1153.2 1331.7,1114.1 1332.2,1153.6 1332.7,1114.5 1333.2,1153.4 1333.7,1114.4 1334.2,1153.2 1334.7,1115.4 1335.2,1152.8 1335.7,1115.3 1336.2,1152.3 1336.7,1115.1 1337.2,1151.3 1337.7,1115.7 1338.2,1151.9 1338.7,1115.5 1339.2,1151.3 1339.7,1113.2 1340.2,1152.4 1340.7,1113.2 1341.2,1152.0 1341.7,1113.1 1342.2,1152.0 1342.7,1113.6 1343.2,1154.3 1343.7,1116.5 1344.2,1154.1 1344.7,1117.6 1345.2,1155.5 1345.7,1116.8 1346.2,1155.6 1346.7,1115.9 1347.2,1156.3 1347.7,1116.7 1348.2,1151.9 1348.7,1116.5 1349.2,1152.5 1349.7,1115.8 1350.2,1152.4 1350.7,1115.3 1351.2,1152.5 1351.7,1115.7 1352.2,1157.3 1352.7,1120.2 1353.2,1156.6 1353.7,1120.2 1354.2,1157.1 1354.7,1118.7 1355.2,1155.3 1355.7,1118.7 1356.2,1155.9 1356.7,1116.8 1357.2,1155.8 1357.7,1116.7 1358.2,1153.3 1358.7,1116.1 1359.2,1153.2 1359.7,1116.7 1360.2,1153.1 1360.7,1116.5 1361.2,1152.8 1361.7,1116.1 1362.2,1155.7 1362.7,1119.0 1363.2,1155.6 1363.7,1119.3 1364.2,1151.7 1364.7,1119.3 1365.2,1152.1 1365.7,1117.6 1366.2,1152.3 1366.7,1118.3 1367.2,1152.3 1367.7,1113.9 1368.2,1156.0 1368.7,1114.4 1369.2,1155.9 1369.7,1114.8 1370.2,1155.6 1370.7,1118.1 1371.2,1153.7 1371.7,1118.1 1372.2,1153.6 1372.7,1117.7 1373.2,1153.3 1373.7,1114.8 1374.2,1158.2 1374.7,1114.3 1375.2,1157.8 1375.7,1114.4 1376.2,1157.6 1376.7,1118.4 1377.2,1157.7 1377.7,1117.9 1378.2,1153.5 1378.7,1117.8 1379.2,1153.7 1379.7,1118.3 1380.2,1155.9 1380.7,1116.0 1381.2,1155.7 1381.7,1115.4 1382.2,1158.8 1382.7,1115.3 1383.2,1158.2 1383.7,1116.0 1384.2,1159.3 1384.7,1115.2 1385.2,1158.2 1385.7,1115.5 1386.2,1155.3 1386.7,1119.3 1387.2,1156.3 1387.7,1119.6 1388.2,1155.7 1388.7,1119.6 1389.2,1154.8 1389.7,1119.4 1390.2,1155.1 1390.7,1115.2 1391.2,1155.1 1391.7,1116.0 1392.2,1154.4 1392.7,1115.4 1393.2,1153.6 1393.7,1115.1 1394.2,1153.1 1394.7,1119.3 1395.2,1167.6 1395.7,1119.2 1396.2,1165.3 1396.7,1119.3 1397.2,1152.5 1397.7,1114.2 1398.2,1152.2 1398.7,1114.8 1399.2,1152.2 1399.7,1115.1 1400.2,1151.6 1400.7,1117.7 1401.2,1153.3 1401.7,1117.9 1402.2,1153.6 1402.7,1118.0 1403.2,1152.9 1403.7,1118.2 1404.2,1158.7 1404.7,1120.4 1405.2,1158.8 1405.7,1120.6 1406.2,1157.7 1406.7,1120.8 1407.2,1150.2 1407.7,1118.7 1408.2,1150.1 1408.7,1118.3 1409.2,1150.3 1409.7,1118.4 1410.2,1151.0 1410.7,1118.8 1411.2,1158.7 1411.7,1120.2 1412.2,1158.4 1412.7,1120.0 1413.2,1159.1 1413.7,1113.1 1414.2,1159.7 1414.7,1113.1 1415.2,1156.6 1415.7,1116.3 1416.2,1157.0 1416.7,1116.7 1417.2,1156.6 1417.7,1116.9 1418.2,1155.9 1418.7,1116.4 1419.2,1167.6 1419.7,1116.7 1420.2,1165.3 1420.7,1114.7 1421.2,1151.3 1421.7,1114.7 1422.2,1151.7 1422.7,1115.0 1423.2,1151.9 1423.7,1116.8 1424.2,1152.5 1424.7,1116.7 1425.2,1152.5 1425.7,1119.6 1426.2,1152.3 1426.7,1119.9 1427.2,1152.8 1427.7,1119.6 1428.2,1152.4 1428.7,1119.9 1429.2,1152.9 1429.7,1112.5 1430.2,1152.4 1430.7,1112.8 1431.2,1152.2 1431.7,1114.4 1432.2,1151.4 1432.7,1114.5 1433.2,1151.2 1433.7,1115.2 1434.2,1153.3 1434.7,1114.6 1435.2,1153.3 1435.7,1119.2 1436.2,1153.3 1436.7,1119.1 1437.2,1153.1 1437.7,1119.4 1438.2,1151.6 1438.7,1119.8 1439.2,1152.2 1439.7,1119.3 1440.2,1151.6 1440.7,1116.6 1441.2,1152.2 1441.7,1116.7 1442.2,1152.1 1442.7,1115.1 1443.2,1151.9 1443.7,1114.8 1444.2,1150.7 1444.7,1114.7 1445.2,1150.7 1445.7,1114.5 1446.2,1150.1 1446.7,1114.1 1447.2,1150.2 1447.7,1114.8 1448.2,1151.2 1448.7,1111.0 1449.2,1151.4 1449.7,1110.6 1450.2,1151.4 1450.7,1116.7 1451.2,1150.4 1451.7,1116.8 1452.2,1150.2 1452.7,1117.3 1453.2,1151.0 1453.7,1116.9 1454.2,1154.6 1454.7,1117.4 1455.2,1154.2 1455.7,1117.4 1456.2,1166.2 1456.7,1116.6 1457.2,1164.0 1457.7,1116.7 1458.2,1152.3 1458.7,1116.6 1459.2,1152.5 1459.7,1119.3 1460.2,1153.0 1460.7,1119.8 1461.2,1152.1 1461.7,1120.0 1462.2,1150.2 1462.7,1113.3 1463.2,1150.1 1463.7,1112.4 1464.2,1150.2 1464.7,1112.8 1465.2,1150.1 1465.7,1112.0 1466.2,1153.1 1466.7,1112.5 1467.2,1153.4 1467.7,1112.2 1468.2,1153.2 1468.7,1108.2 1469.2,1155.8 1469.7,1108.5 1470.2,1156.3 1470.7,1110.7 1471.2,1156.0 1471.7,1110.2 1472.2,1155.9 1472.7,1110.0 1473.2,1151.2 1473.7,1117.7 1474.2,1151.2 1474.7,1109.6 1475.2,1150.5 1475.7,1111.4 1476.2,1151.8 1476.7,1120.6 1477.2,1151.7 1477.7,1120.7 1478.2,1154.8 1478.7,1120.5 1479.2,1154.3 1479.7,1119.6 1480.2,1154.0 1480.7,1119.3 1481.2,1151.1 1481.7,1112.5 1482.2,1150.8 1482.7,1112.5 1483.2,1150.8 1483.7,1113.2 1484.2,1151.5 1484.7,1114.9 1485.2,1162.3 1485.7,1115.0 1486.2,1163.3 1486.7,1114.5 1487.2,1154.6 1487.7,1119.1 1488.2,1154.9 1488.7,1119.5 1489.2,1151.4 1489.7,1114.3 1490.2,1151.7 1490.7,1114.7 1491.2,1151.4 1491.7,1111.8 1492.2,1151.4 1492.7,1111.7 1493.2,1156.4 1493.7,1111.3 1494.2,1155.7 1494.7,1111.8 1495.2,1155.8 1495.7,1115.8 1496.2,1155.9 1496.7,1115.7 1497.2,1154.0 1497.7,1116.2 1498.2,1154.6 1498.7,1120.2 1499.2,1153.7 1499.7,1120.6 1500.2,1154.6 1500.7,1119.9 1501.2,1153.8 1501.7,1120.1 1502.2,1152.3 1502.7,1120.1 1503.2,1152.2 1503.7,1119.7 1504.2,1152.8 1504.7,1119.6 1505.2,1152.1 1505.7,1120.1 1506.2,1151.6 1506.7,1119.2 1507.2,1151.4 1507.7,1119.5 1508.2,1151.4 1508.7,1119.6 1509.2,1151.1 1509.7,1114.6 1510.2,1156.9 1510.7,1114.7 1511.2,1157.5 1511.7,1115.0 1512.2,1157.4 1512.7,1116.0 1513.2,1157.6 1513.7,1116.6 1514.2,1151.0 1514.7,1113.8 1515.2,1151.0 1515.7,1113.0 1516.2,1150.6 1516.7,1113.4 1517.2,1155.2 1517.7,1115.2 1518.2,1155.2 1518.7,1110.2 1519.2,1155.5 1519.7,1111.9 1520.2,1154.5 1520.7,1119.7 1521.2,1153.2 1521.7,1119.9 1522.2,1153.8 1522.7,1115.2 1523.2,1151.5 1523.7,1115.4 1524.2,1151.9 1524.7,1115.3 1525.2,1151.3 1525.7,1114.1 1526.2,1152.8 1526.7,1114.9 1527.2,1152.4 1527.7,1113.0 1528.2,1155.3 1528.7,1112.5 1529.2,1155.3 1529.7,1119.9 1530.2,1155.1 1530.7,1120.1 1531.2,1153.9 1531.7,1119.9 1532.2,1154.3 1532.7,1120.0 1533.2,1153.1 1533.7,1119.5 1534.2,1152.6 1534.7,1114.0 1535.2,1153.4 1535.7,1113.7 1536.2,1152.4 1536.7,1114.2 1537.2,1152.2 1537.7,1120.6 1538.2,1151.7 1538.7,1120.2 1539.2,1151.9 1539.7,1120.3 1540.2,1152.4 1540.7,1120.2 1541.2,1151.1 1541.7,1117.8 1542.2,1151.0 1542.7,1117.9 1543.2,1150.8 1543.7,1117.8 1544.2,1157.4 1544.7,1117.9 1545.2,1158.1 1545.7,1118.8 1546.2,1158.1 1546.7,1118.1 1547.2,1152.8 1547.7,1119.0 1548.2,1152.3 1548.7,1119.5 1549.2,1152.2 1549.7,1118.6 1550.2,1152.1 1550.7,1118.7 1551.2,1152.1 1551.7,1119.1 1552.2,1152.7 1552.7,1120.0 1553.2,1152.0 1553.7,1119.9 1554.2,1152.1 1554.7,1117.5 1555.2,1153.1 1555.7,1116.9 1556.2,1153.4 1556.7,1117.1 1557.2,1153.4 1557.7,1117.4 1558.2,1151.4 1558.7,1118.7 1559.2,1151.2 1559.7,1119.3 1560.2,1150.6 1560.7,1109.2 1561.2,1150.6 1561.7,1110.3 1562.2,1151.0 1562.7,1119.5 1563.2,1150.4 1563.7,1119.0 1564.2,1150.4 1564.7,1118.9 1565.2,1150.6 1565.7,1118.8 1566.2,1151.4 1566.7,1113.1 1567.2,1152.2 1567.7,1113.9 1568.2,1159.0 1568.7,1113.0 1569.2,1159.2 1569.7,1112.3 1570.2,1159.5 1570.7,1112.1 1571.2,1159.8 1571.7,1112.0 1572.2,1158.2 1572.7,1114.9 1573.2,1169.7 1573.7,1098.1 1574.2,1167.3 1574.7,1100.7 1575.2,1152.6 1575.7,1109.2 1576.2,1152.5 1576.7,1109.3 1577.2,1152.0 1577.7,1109.5 1578.2,1151.8 1578.7,1109.2 1579.2,1152.0 1579.7,1118.4 1580.2,1151.7 1580.6,1118.5 1581.1,1153.4 1581.6,1118.9 1582.1,1152.8 1582.6,1119.8 1583.1,1153.3 1583.6,1119.5 1584.1,1152.7 1584.6,1109.3 1585.1,1152.0 1585.6,1109.4 1586.1,1152.4 1586.6,1109.2 1587.1,1152.5 1587.6,1109.4 1588.1,1152.0 1588.6,1115.1 1589.1,1152.5 1589.6,1116.1 1590.1,1153.2 1590.6,1115.2 1591.1,1152.8 1591.6,1119.9 1592.1,1157.4 1592.6,1119.6 1593.1,1158.3 1593.6,1119.8 1594.1,1153.8 1594.6,1119.4 1595.1,1154.0 1595.6,1114.9 1596.1,1172.6 1596.6,1115.1 1597.1,1170.0 1597.6,1115.0 1598.1,1156.7 1598.6,1115.5 1599.1,1157.0 1599.6,1113.2 1600.1,1156.8 1600.6,1113.3 1601.1,1153.3 1601.6,1112.3 1602.1,1152.9 1602.6,1112.8 1603.1,1153.1 1603.6,1112.8 1604.1,1153.1 1604.6,1113.0 1605.1,1153.1 1605.6,1116.9 1606.1,1156.3 1606.6,1116.2 1607.1,1156.3 1607.6,1116.2 1608.1,1156.7 1608.6,1101.9 1609.1,1156.4 1609.6,1104.2 1610.1,1158.8 1610.6,1116.5 1611.1,1159.0 1611.6,1115.1 1612.1,1156.8 1612.6,1115.1 1613.1,1156.4 1613.6,1114.4 1614.1,1156.7 1614.6,1114.0 1615.1,1159.9 1615.6,1116.3 1616.1,1160.0 1616.6,1116.8 1617.1,1152.5 1617.6,1118.4 1618.1,1152.7 1618.6,1117.7 1619.1,1160.6 1619.6,1119.5 1620.1,1162.0 1620.6,1116.3 1621.1,1167.3 1621.6,1108.2 1622.1,1170.6 1622.6,1104.1 1623.1,1174.1 1623.6,1100.4 1624.1,1175.6 1624.6,1101.1 1625.1,1178.8 1625.6,1097.4 1626.1,1185.8 1626.6,1096.8 1627.1,1184.6 1627.6,1057.9 1628.1,1187.6 1628.6,1061.3 1629.1,1188.4 1629.6,1055.0 1630.1,1190.3 1630.6,1087.6 1631.1,1188.7 1631.6,1091.8 1632.1,1187.7 1632.6,1094.1 1633.1,1187.5 1633.6,1093.5 1634.1,1188.6 1634.6,1093.6 1635.1,1188.7 1635.6,1096.8 1636.1,1194.5 1636.6,1095.9 1637.1,1194.2 1637.6,1056.6 1638.1,1199.1 1638.6,1050.6 1639.1,1216.2 1639.6,1053.6 1640.1,1226.9 1640.6,1054.3 1641.1,1228.1 1641.6,1082.5 1642.1,1204.0 1642.6,1085.5 1643.1,1206.1 1643.6,1087.7 1644.1,1204.3 1644.6,1086.6 1645.1,1208.0 1645.6,1082.9 1646.1,1214.4 1646.6,1082.0 1647.1,1213.0 1647.6,1085.8 1648.1,1227.8 1648.6,1078.9 1649.1,1233.2 1649.6,1074.0 1650.1,1192.7 1650.6,1067.4 1651.1,1195.2 1651.6,1065.2 1652.1,1201.0 1652.6,1064.7 1653.1,1206.7 1653.6,1038.7 1654.1,1207.5 1654.6,1041.2 1655.1,1206.1 1655.6,1038.5 1656.1,1209.2 1656.6,1046.6 1657.1,1209.2 1657.6,1056.5 1658.1,1201.8 1658.6,1066.5 1659.1,1201.0 1659.6,1073.8 1660.1,1209.2 1660.6,1063.3 1661.1,1219.7 1661.6,1055.8 1662.1,1252.8 1662.6,1046.3 1663.1,1265.2 1663.6,1049.7 1664.1,1282.7 1664.6,1041.1 1665.1,1297.5 1665.6,1003.7 1666.1,1315.4 1666.6,977.5 1667.1,1330.7 1667.6,986.4 1668.1,1327.5 1668.6,990.1 1669.1,1334.8 1669.6,1009.4 1670.1,1258.1 1670.6,1018.9 1671.1,1232.0 1671.6,1022.2 1672.1,1224.7 1672.6,1029.0 1673.1,1229.9 1673.6,1030.9 1674.1,1214.3 1674.6,1039.0 1675.1,1207.2 1675.6,1038.6 1676.1,1216.6 1676.6,1034.8 1677.1,1231.3 1677.6,1034.6 1678.1,1233.3 1678.6,1043.8 1679.1,1228.4 1679.6,1050.8 1680.1,1234.3 1680.6,1060.2 1681.1,1226.0 1681.6,1055.3 1682.1,1227.5 1682.6,1036.3 1683.1,1228.9 1683.6,1036.9 1684.1,1227.2 1684.6,1029.7 1685.1,1227.2 1685.6,1029.8 1686.1,1223.7 1686.6,1048.2 1687.1,1223.1 1687.6,1053.3 1688.1,1223.8 1688.6,1052.3 1689.1,1228.6 1689.6,1059.3 1690.1,1215.4 1690.6,1056.0 1691.1,1199.1 1691.6,1063.0 1692.1,1195.8 1692.6,1081.3 1693.1,1198.4 1693.6,1074.5 1694.1,1199.7 1694.6,1059.5 1695.1,1193.6 1695.6,1061.5 1696.1,1198.3 1696.6,1059.1 1697.1,1189.5 1697.6,1075.4 1698.1,1189.0 1698.6,1093.4 1699.1,1184.2 1699.6,1093.4 1700.1,1176.2 1700.6,1094.5 1701.1,1171.5 1701.6,1096.0 1702.1,1169.4 1702.6,1099.9 1703.1,1167.9 1703.6,1102.8 1704.1,1167.4 1704.6,1103.5 1705.1,1166.7 1705.6,1107.2 1706.1,1165.3 1706.6,1108.8 1707.1,1164.5 1707.6,1110.6 1708.1,1164.6 1708.6,1111.6 1709.1,1165.3 1709.6,1110.1 1710.1,1164.0 1710.6,1106.9 1711.1,1163.0 1711.6,1106.2 1712.1,1164.1 1712.6,1105.6 1713.1,1162.3 1713.6,1105.6 1714.1,1162.2 1714.6,1106.3 1715.1,1161.5 1715.6,1106.9 1716.1,1163.2 1716.6,1108.9 1717.1,1161.7 1717.6,1109.1 1718.1,1162.0 1718.6,1109.6 1719.1,1160.4 1719.6,1112.3 1720.1,1161.2 1720.6,1112.4 1721.1,1160.0 1721.6,1114.8 1722.1,1157.9 1722.6,1114.0 1723.1,1156.7 1723.6,1114.5 1724.1,1155.8 1724.6,1114.6 1725.1,1156.7 1725.6,1113.0 1726.1,1156.2 1726.6,1113.7 1727.1,1157.2 1727.6,1114.5 1728.1,1157.0 1728.6,1116.9 1729.1,1156.5 1729.6,1110.3 1730.1,1165.9 1730.6,1112.3 1731.1,1156.4 1731.6,1112.7 1732.1,1156.5 1732.6,1112.1 1733.1,1160.2 1733.6,1108.3 1734.1,1160.3 1734.6,1107.0 1735.1,1159.7 1735.6,1103.1 1736.1,1160.9 1736.6,1102.9 1737.1,1168.8 1737.6,1114.0 1738.1,1167.5 1738.6,1113.4 1739.1,1165.9 1739.6,1113.9 1740.1,1165.3 1740.6,1113.8 1741.1,1161.8 1741.6,1113.8 1742.1,1161.4 1742.6,1112.8 1743.1,1160.8 1743.6,1104.4 1744.1,1160.1 1744.6,1104.2 1745.1,1160.7 1745.6,1104.9 1746.1,1169.1 1746.6,1104.5 1747.1,1166.8 1747.6,1109.2 1748.1,1157.5 1748.6,1101.9 1749.1,1156.6 1749.6,1104.2 1750.1,1156.8 1750.6,1109.0 1751.1,1156.7 1751.6,1112.3 1752.1,1169.7 1752.6,1111.6 1753.1,1167.3 1753.6,1111.1 1754.1,1162.1 1754.6,1111.2 1755.1,1161.8 1755.6,1110.9 1756.1,1157.5 1756.6,1110.6 1757.1,1157.6 1757.6,1110.0 1758.1,1158.1 1758.6,1109.5 1759.1,1157.7 1759.6,1112.4 1760.1,1159.1 1760.6,1112.2 1761.1,1160.2 1761.6,1111.8 1762.1,1160.2 1762.6,1108.4 1763.1,1159.3 1763.6,1109.4 1764.1,1169.1 1764.6,1109.0 1765.1,1168.9 1765.6,1112.3 1766.1,1170.6 1766.6,1111.7 1767.1,1165.0 1767.6,1112.5 1768.1,1164.7 1768.6,1112.1 1769.1,1165.3 1769.6,1114.1 1770.1,1161.1 1770.6,1114.7 1771.1,1160.8 1771.6,1113.7 1772.1,1161.6 1772.6,1113.8 1773.1,1162.0 1773.6,1113.2 1774.1,1165.8 1774.6,1113.7 1775.1,1166.0 1775.6,1113.4 1776.1,1160.0 1776.6,1103.0 1777.1,1159.5 1777.6,1105.3 1778.1,1159.1 1778.6,1114.2 1779.1,1159.2 1779.6,1114.3 1780.1,1157.5 1780.6,1105.3 1781.1,1157.8 1781.6,1105.5 1782.1,1157.8 1782.6,1104.4 1783.1,1157.5 1783.6,1104.6 1784.1,1156.0 1784.6,1110.8 1785.1,1156.0 1785.6,1110.5 1786.1,1156.3 1786.6,1110.5 1787.1,1156.1 1787.6,1107.8 1788.1,1160.0 1788.6,1103.9 1789.1,1159.1 1789.6,1106.1 1790.1,1159.3 1790.6,1113.9 1791.1,1159.7 1791.6,1113.9 1792.1,1156.6 1792.6,1112.3 1793.1,1156.4 1793.6,1112.4 1794.1,1156.3 1794.6,1112.5 1795.1,1155.5 1795.6,1112.1 1796.1,1156.3 1796.6,1105.4 1797.1,1156.1 1797.6,1106.2 1798.1,1156.7 1798.6,1105.5 1799.1,1166.7 1799.6,1108.3 1800.1,1165.2 1800.6,1103.9 1801.1,1155.7 1801.6,1106.1 1802.1,1155.6 1802.6,1108.9 1803.1,1155.1 1803.6,1110.9 1804.1,1154.5 1804.6,1111.3 1805.1,1157.5 1805.6,1112.7 1806.1,1157.6 1806.6,1111.0 1807.1,1156.5 1807.6,1111.4 1808.1,1156.6 1808.6,1111.8 1809.1,1158.8 1809.6,1112.2 1810.1,1158.0 1810.6,1115.7 1811.1,1157.3 1811.6,1115.8 1812.1,1157.3 1812.6,1116.2 1813.1,1159.6 1813.6,1120.1 1814.1,1159.4 1814.6,1120.6 1815.1,1158.6 1815.6,1120.3 1816.1,1158.0 1816.6,1120.8 1817.1,1153.2 1817.6,1117.3 1818.1,1152.9 1818.6,1118.0 1819.1,1153.3 1819.6,1117.0 1820.1,1156.4 1820.6,1117.2 1821.1,1156.5 1821.6,1115.5 1822.1,1156.0 1822.6,1116.0 1823.1,1156.0 1823.6,1116.3 1824.1,1150.5 1824.6,1111.7 1825.1,1151.0 1825.6,1111.7 1826.1,1150.9 1826.6,1116.1 1827.1,1150.7 1827.6,1115.2 1828.1,1158.4 1828.6,1114.3 1829.1,1157.6 1829.6,1114.5 1830.1,1157.6 1830.6,1117.7 1831.1,1157.5 1831.6,1117.2 1832.1,1157.8 1832.6,1117.7 1833.1,1157.8 1833.6,1117.8 1834.1,1155.0 1834.6,1112.0 1835.1,1154.8 1835.6,1111.3 1836.1,1152.5 1836.6,1116.8 1837.1,1152.5 1837.6,1117.1 1838.1,1155.9 1838.6,1114.5 1839.1,1155.8 1839.6,1108.9 1840.1,1152.6 1840.6,1110.8 1841.1,1152.0 1841.6,1115.3 1842.1,1152.2 1842.6,1115.0 1843.1,1152.7 1843.6,1115.4 1844.1,1150.6 1844.6,1115.5 1845.1,1151.3 1845.6,1115.7 1846.1,1150.7 1846.6,1115.9 1847.1,1151.0 1847.6,1115.4 1848.1,1155.9 1848.6,1115.9 1849.1,1155.7 1849.6,1115.8 1850.1,1155.5 1850.6,1115.7 1851.1,1159.4 1851.6,1115.6 1852.1,1159.4 1852.6,1115.8 1853.1,1156.0 1853.6,1116.9 1854.1,1156.0 1854.6,1117.3 1855.1,1152.6 1855.6,1117.2 1856.1,1152.2 1856.6,1120.9 1857.1,1151.9 1857.6,1120.4 1858.1,1155.0 1858.6,1114.2 1859.1,1161.5 1859.6,1113.7 1860.1,1159.7 1860.6,1113.6 1861.1,1155.1 1861.6,1113.7 1862.1,1154.2 1862.6,1119.2 1863.1,1154.3 1863.6,1119.3 1864.1,1154.8 1864.6,1110.9 1865.1,1154.8 1865.6,1111.2 1866.1,1154.1 1866.6,1110.4 1867.1,1154.7 1867.6,1111.5 1868.1,1154.4 1868.6,1112.3 1869.1,1150.6 1869.6,1119.7 1870.1,1150.5 1870.6,1120.4 1871.1,1151.2 1871.6,1117.7 1872.1,1151.5 1872.6,1117.5 1873.1,1151.5 1873.6,1119.9 1874.1,1151.3 1874.6,1119.7 1875.1,1150.6 1875.6,1119.1 1876.1,1151.1 1876.6,1114.8 1877.1,1151.0 1877.6,1114.9 1878.1,1154.9 1878.6,1114.8 1879.1,1155.6 1879.6,1117.9 1880.1,1155.4 1880.6,1117.4 1881.1,1155.3 1881.6,1117.9 1882.1,1156.2 1882.6,1117.4 1883.1,1156.0 1883.6,1119.0 1884.1,1155.7 1884.6,1119.5 1885.1,1151.6 1885.6,1119.3 1886.1,1151.8 1886.6,1119.0 1887.1,1151.8 1887.6,1117.1 1888.1,1155.2 1888.6,1116.9 1889.1,1154.7 1889.6,1119.5 1890.1,1151.0 1890.6,1119.3 1891.1,1151.7 1891.6,1119.1 1892.1,1151.1 1892.6,1117.1 1893.1,1150.9 1893.6,1117.7 1894.1,1151.3 1894.6,1119.8 1895.1,1150.7 1895.6,1120.2 1896.1,1155.8 1896.6,1117.0 1897.1,1155.4 1897.6,1116.1 1898.1,1156.4 1898.6,1116.4 1899.1,1150.9 1899.6,1115.9 1900.1,1151.1 1900.6,1108.4 1901.1,1151.4 1901.6,1107.4 1902.1,1151.4 1902.6,1108.0 1903.1,1151.9 1903.6,1108.2 1904.1,1152.2 1904.6,1110.9 1905.1,1152.3 1905.6,1110.0 1906.1,1152.5 1906.6,1111.3 1907.1,1152.6 1907.6,1119.0 1908.1,1152.3 1908.6,1118.8 1909.1,1151.7 1909.6,1119.0 1910.1,1151.4 1910.6,1116.1 1911.1,1151.2 1911.6,1116.8 1912.1,1155.7 1912.6,1117.0 1913.1,1155.5 1913.6,1118.3 1914.1,1156.6 1914.6,1118.3 1915.1,1157.4 1915.6,1118.8 1916.1,1152.0 1916.6,1118.8 1917.1,1151.7 1917.6,1118.1 1918.1,1156.2 1918.6,1118.4 1919.1,1155.8 1919.6,1120.4 1920.1,1155.2 1920.6,1120.8 1921.1,1155.7 1921.6,1120.1 1922.1,1152.1 1922.6,1120.2 1923.1,1152.5 1923.6,1117.9 1924.1,1154.0 1924.6,1118.2 1925.1,1153.6 1925.6,1117.9 1926.1,1154.0 1926.6,1116.1 1927.1,1151.2 1927.6,1115.0 1928.1,1151.6 1928.6,1115.0 1929.1,1152.1 1929.6,1116.6 1930.1,1151.5 1930.6,1110.7 1931.1,1152.3 1931.6,1112.4 1932.1,1164.4 1932.6,1115.9 1933.1,1162.4 1933.6,1117.5 1934.1,1155.4 1934.6,1117.9 1935.1,1155.4 1935.6,1117.8 1936.1,1155.2 1936.6,1118.9 1937.1,1155.4 1937.6,1118.8 1938.1,1154.7 1938.6,1108.8 1939.1,1154.5 1939.6,1108.2 1940.1,1151.8 1940.6,1115.7 1941.1,1151.6 1941.6,1115.7 1942.1,1151.5 1942.6,1111.3 1943.1,1152.0 1943.6,1111.2 1944.1,1151.2 1944.6,1111.0 1945.1,1151.2 1945.6,1119.3 1946.1,1154.3 1946.6,1119.6 1947.1,1154.4 1947.6,1119.1 1948.1,1153.6 1948.6,1116.4 1949.1,1153.8 1949.6,1116.4 1950.1,1160.6 1950.6,1119.5 1951.1,1159.4 1951.6,1119.2 1952.1,1156.7 1952.5,1118.9 1953.0,1156.6 1953.5,1119.6 1954.0,1155.9 1954.5,1119.5 1955.0,1156.4 1955.5,1119.2 1956.0,1151.1 1956.5,1119.5 1957.0,1151.2 1957.5,1119.4 1958.0,1151.4 1958.5,1115.4 1959.0,1154.2 1959.5,1114.7 1960.0,1162.4 1960.5,1116.0 1961.0,1160.5 1961.5,1115.2 1962.0,1154.5 1962.5,1115.5 1963.0,1156.0 1963.5,1115.3 1964.0,1156.2 1964.5,1112.2 1965.0,1156.2 1965.5,1112.4 1966.0,1156.5 1966.5,1113.1 1967.0,1155.7 1967.5,1112.0 1968.0,1155.0 1968.5,1120.0 1969.0,1155.7 1969.5,1119.8 1970.0,1155.3 1970.5,1115.6 1971.0,1155.6 1971.5,1116.4 1972.0,1155.6 1972.5,1116.1 1973.0,1151.0 1973.5,1116.3 1974.0,1151.1 1974.5,1120.4 1975.0,1151.0 1975.5,1120.5 1976.0,1151.6 1976.5,1120.6 1977.0,1160.5 1977.5,1120.5 1978.0,1159.9 1978.5,1115.1 1979.0,1160.0 1979.5,1116.1 1980.0,1159.5 1980.5,1113.4 1981.0,1162.6 1981.5,1114.0 1982.0,1161.8 1982.5,1118.4 1983.0,1153.3 1983.5,1117.6 1984.0,1153.4 1984.5,1118.2 1985.0,1153.4 1985.5,1114.2 1986.0,1157.2 1986.5,1113.8 1987.0,1157.5 1987.5,1119.6 1988.0,1150.5 1988.5,1119.9 1989.0,1150.8 1989.5,1119.6 1990.0,1151.0 1990.5,1119.4 1991.0,1153.2 1991.5,1120.4 1992.0,1153.1 1992.5,1120.6 1993.0,1153.2 1993.5,1120.3 1994.0,1152.4 1994.5,1120.1 1995.0,1152.2 1995.5,1115.0 1996.0,1154.1 1996.5,1114.9 1997.0,1153.3 1997.5,1117.9 1998.0,1150.4 1998.5,1117.4 1999.0,1150.6 1999.5,1119.9 2000.0,1150.7 2000.5,1120.8 2001.0,1152.3 2001.5,1119.7 2002.0,1152.2 2002.5,1119.5 2003.0,1152.1 2003.5,1119.8 2004.0,1157.0 2004.5,1111.2 2005.0,1157.9 2005.5,1110.7 2006.0,1155.7 2006.5,1118.1 2007.0,1154.8 2007.5,1118.2 2008.0,1154.8 2008.5,1119.6 2009.0,1153.8 2009.5,1119.6 2010.0,1153.6 2010.5,1119.5 2011.0,1152.0 2011.5,1117.5 2012.0,1152.5 2012.5,1117.8 2013.0,1152.4 2013.5,1118.6 2014.0,1152.9 2014.5,1118.8 2015.0,1153.5 2015.5,1119.0 2016.0,1153.3 2016.5,1119.1 2017.0,1153.8 2017.5,1115.9 2018.0,1155.1 2018.5,1115.8 2019.0,1154.4 2019.5,1120.5 2020.0,1154.4 2020.5,1120.5 2021.0,1150.2 2021.5,1121.0 2022.0,1150.2 2022.5,1120.6 2023.0,1150.2 2023.5,1115.2 2024.0,1151.7 2024.5,1114.4 2025.0,1152.0 2025.5,1114.9 2026.0,1152.0 2026.5,1115.6 2027.0,1151.6 2027.5,1115.5 2028.0,1156.0 2028.5,1115.7 2029.0,1156.4 2029.5,1115.5 2030.0,1156.3 2030.5,1114.8 2031.0,1152.7 2031.5,1116.9 2032.0,1152.3 2032.5,1116.4 2033.0,1158.5 2033.5,1114.2 2034.0,1158.8 2034.5,1113.6 2035.0,1157.9 2035.5,1113.5 2036.0,1158.2 2036.5,1118.4 2037.0,1153.0 2037.5,1118.1 2038.0,1153.4 2038.5,1118.3 2039.0,1153.9 2039.5,1118.2 2040.0,1154.3 2040.5,1114.5 2041.0,1153.9 2041.5,1114.2 2042.0,1154.3 2042.5,1114.3 2043.0,1163.3 2043.5,1113.7 2044.0,1161.3 2044.5,1116.7 2045.0,1152.2 2045.5,1116.8 2046.0,1150.9 2046.5,1116.5 2047.0,1150.9 2047.5,1118.7 2048.0,1154.6 2048.5,1118.6 2049.0,1154.2 2049.5,1119.7 2050.0,1154.1 2050.5,1119.5 2051.0,1156.9 2051.5,1119.7 2052.0,1156.6 2052.5,1119.7 2053.0,1157.9 2053.5,1110.3 2054.0,1157.1 2054.5,1110.3 2055.0,1151.9 2055.5,1114.1 2056.0,1151.9 2056.5,1114.7 2057.0,1156.1 2057.5,1113.5 2058.0,1157.0 2058.5,1113.1 2059.0,1156.5 2059.5,1117.3 2060.0,1156.0 2060.5,1116.7 2061.0,1152.7 2061.5,1116.6 2062.0,1152.2 2062.5,1110.1 2063.0,1152.0 2063.5,1084.9 2064.0,1169.7 2064.5,1088.4 2065.0,1167.3 2065.5,1120.3 2066.0,1156.1 2066.5,1120.7 2067.0,1156.6 2067.5,1120.0 2068.0,1155.7 2068.5,1120.2 2069.0,1151.8 2069.5,1120.0 2070.0,1151.7 2070.5,1120.4 2071.0,1151.0 2071.5,1120.3 2072.0,1151.7 2072.5,1114.6 2073.0,1152.3 2073.5,1114.9 2074.0,1151.9 2074.5,1114.5 2075.0,1152.3 2075.5,1120.1 2076.0,1157.4 2076.5,1120.2 2077.0,1156.6 2077.5,1120.1 2078.0,1157.3 2078.5,1118.9 2079.0,1152.9 2079.5,1119.2 2080.0,1152.6 2080.5,1118.8 2081.0,1157.4 2081.5,1118.7 2082.0,1157.2 2082.5,1115.9 2083.0,1157.3 2083.5,1115.7 2084.0,1155.7 2084.5,1116.2 2085.0,1155.1 2085.5,1116.1 2086.0,1154.7 2086.5,1115.1 2087.0,1156.5 2087.5,1114.7 2088.0,1156.2 2088.5,1116.2 2089.0,1156.1 2089.5,1116.8 2090.0,1156.1 2090.5,1116.0 2091.0,1152.0 2091.5,1116.1 2092.0,1152.4 2092.5,1113.0 2093.0,1152.2 2093.5,1112.7 2094.0,1152.0 2094.5,1112.8 2095.0,1150.5 2095.5,1116.7 2096.0,1150.6 2096.5,1117.1 2097.0,1156.6 2097.5,1116.7 2098.0,1156.8 2098.5,1117.3 2099.0,1151.8 2099.5,1120.8 2100.0,1152.3 2100.5,1120.8 2101.0,1152.6 2101.5,1120.3 2102.0,1152.0 2102.5,1110.4 2103.0,1152.7 2103.5,1110.4 2104.0,1152.8 2104.5,1110.4 2105.0,1153.0 2105.5,1115.5 2106.0,1159.9 2106.5,1115.9 2107.0,1159.0 2107.5,1116.0 2108.0,1160.1 2108.5,1117.3 2109.0,1150.6 2109.5,1118.2 2110.0,1150.6 2110.5,1114.1 2111.0,1150.2 2111.5,1113.6 2112.0,1150.8 2112.5,1113.9 2113.0,1159.4 2113.5,1113.3 2114.0,1158.5 2114.5,1116.3 2115.0,1159.9 2115.5,1116.3 2116.0,1159.3 2116.5,1116.3 2117.0,1154.2 2117.5,1120.0 2118.0,1154.2 2118.5,1120.3 2119.0,1153.7 2119.5,1119.8 2120.0,1154.3 2120.5,1120.2 2121.0,1157.2 2121.5,1117.4 2122.0,1156.5 2122.5,1117.0 2123.0,1157.2 2123.5,1117.0 2124.0,1157.4 2124.5,1116.4 2125.0,1153.3 2125.5,1116.3 2126.0,1153.0 2126.5,1116.6 2127.0,1157.0 2127.5,1117.1 2128.0,1156.5 2128.5,1116.7 2129.0,1156.6 2129.5,1116.7 2130.0,1156.2 2130.5,1117.5 2131.0,1151.2 2131.5,1117.7 2132.0,1151.7 2132.5,1116.7 2133.0,1156.7 2133.5,1116.9 2134.0,1156.6 2134.5,1116.4 2135.0,1156.5 2135.5,1119.6 2136.0,1156.4 2136.5,1119.7 2137.0,1150.7 2137.5,1120.2 2138.0,1150.3"/>
<text class="tk" transform="translate(279.5,716.3) scale(1,1.025)" text-anchor="middle">0</text>
<text class="tk" transform="translate(589.7,716.3) scale(1,1.025)" text-anchor="middle">50</text>
<text class="tk" transform="translate(899.8,716.3) scale(1,1.025)" text-anchor="middle">100</text>
<text class="tk" transform="translate(1210.0,716.3) scale(1,1.025)" text-anchor="middle">150</text>
<text class="tk" transform="translate(1520.2,716.3) scale(1,1.025)" text-anchor="middle">200</text>
<text class="tk" transform="translate(1830.3,716.3) scale(1,1.025)" text-anchor="middle">250</text>
<text class="tk" transform="translate(2140.5,716.3) scale(1,1.025)" text-anchor="middle">300</text>
<text class="tk" transform="translate(279.5,1491.2) scale(1,1.025)" text-anchor="middle">0</text>
<text class="tk" transform="translate(589.3,1491.2) scale(1,1.025)" text-anchor="middle">50</text>
<text class="tk" transform="translate(899.2,1491.2) scale(1,1.025)" text-anchor="middle">100</text>
<text class="tk" transform="translate(1209.0,1491.2) scale(1,1.025)" text-anchor="middle">150</text>
<text class="tk" transform="translate(1518.8,1491.2) scale(1,1.025)" text-anchor="middle">200</text>
<text class="tk" transform="translate(1828.7,1491.2) scale(1,1.025)" text-anchor="middle">250</text>
<text class="tk" transform="translate(2138.5,1491.2) scale(1,1.025)" text-anchor="middle">300</text>
<text class="tk" transform="translate(256,111.8) scale(1,1.025)" text-anchor="end">0.02</text>
<text class="tk" transform="translate(256,293.1) scale(1,1.025)" text-anchor="end">0</text>
<text class="tk" transform="translate(256,474.5) scale(1,1.025)" text-anchor="end">−<tspan dx="-4.5">0.02</tspan></text>
<text class="tk" transform="translate(256,655.8) scale(1,1.025)" text-anchor="end">−<tspan dx="-4.5">0.04</tspan></text>
<text class="tk" transform="translate(256,871.3) scale(1,1.025)" text-anchor="end">0.2</text>
<text class="tk" transform="translate(256,1011.1) scale(1,1.025)" text-anchor="end">0.1</text>
<text class="tk" transform="translate(256,1150.9) scale(1,1.025)" text-anchor="end">0</text>
<text class="tk" transform="translate(256,1290.8) scale(1,1.025)" text-anchor="end">−<tspan dx="-4.5">0.1</tspan></text>
<text class="tk" transform="translate(256,1430.6) scale(1,1.025)" text-anchor="end">−<tspan dx="-4.5">0.2</tspan></text>
<text class="lb" x="1113.8" y="808" textLength="187.5" lengthAdjust="spacingAndGlyphs">Time/s</text>
<text class="lb" x="1112.8" y="1583" textLength="187.5" lengthAdjust="spacingAndGlyphs">Time/s</text>
<text class="yl" transform="translate(82.7,710.5) rotate(-90)" textLength="676" lengthAdjust="spacingAndGlyphs">Vertical Displacement/m</text>
<text class="yl" transform="translate(104.9,1383.5) rotate(-90)" textLength="466" lengthAdjust="spacingAndGlyphs">Acceleration/m/s</text>
<text class="yl" transform="translate(71.8,915) rotate(-90)" style="font-size:54px">2</text>
</svg></body></html>
